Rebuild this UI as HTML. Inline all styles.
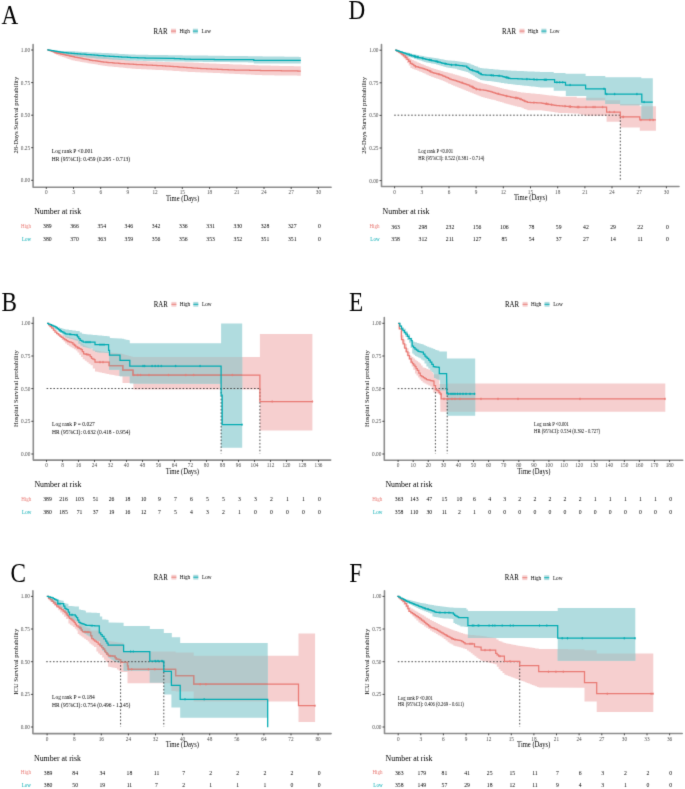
<!DOCTYPE html>
<html><head><meta charset="utf-8"><title>KM curves</title>
<style>html,body{margin:0;padding:0;background:#fff;}svg{display:block;}text{font-family:"Liberation Serif",serif;}</style>
</head><body>
<svg width="685" height="789" viewBox="0 0 685 789" font-family="'Liberation Serif', serif">
<defs><filter id="soft" filterUnits="userSpaceOnUse" x="0" y="0" width="685" height="789" color-interpolation-filters="sRGB"><feConvolveMatrix order="3" kernelMatrix="0.0113 0.0838 0.0113 0.0838 0.6193 0.0838 0.0113 0.0838 0.0113" edgeMode="duplicate"/></filter><clipPath id="cr1"><path d="M47.2,49.8 L49,49.8 L49,50.1 L50.8,50.1 L50.8,50.5 L52.7,50.5 L52.7,50.8 L54.5,50.8 L54.5,51.2 L56.3,51.2 L56.3,51.5 L58.2,51.5 L58.2,51.7 L60,51.7 L60,52 L61.9,52 L61.9,52.2 L63.8,52.2 L63.8,52.4 L65.7,52.4 L65.7,52.6 L67.5,52.6 L67.5,52.8 L69.4,52.8 L69.4,53.1 L71.3,53.1 L71.3,53.3 L73.1,53.3 L73.1,53.5 L74.9,53.5 L74.9,53.8 L76.7,53.8 L76.7,54 L78.5,54 L78.5,54.3 L80.3,54.3 L80.3,54.5 L82.1,54.5 L82.1,54.8 L83.9,54.8 L83.9,55 L85.7,55 L85.7,55.3 L87.5,55.3 L87.5,55.5 L89.3,55.5 L89.3,55.8 L91.1,55.8 L91.1,56 L92.8,56 L92.8,56.2 L94.6,56.2 L94.6,56.3 L96.3,56.3 L96.3,56.5 L98,56.5 L98,56.6 L99.8,56.6 L99.8,56.8 L101.5,56.8 L101.5,57 L103.3,57 L103.3,57.1 L105,57.1 L105,57.3 L106.8,57.3 L106.8,57.5 L108.6,57.5 L108.6,57.7 L110.4,57.7 L110.4,58 L112.2,58 L112.2,58.2 L114,58.2 L114,58.4 L115.8,58.4 L115.8,58.6 L117.6,58.6 L117.6,58.8 L119.4,58.8 L119.4,59.1 L121.2,59.1 L121.2,59.3 L123,59.3 L123,59.5 L124.8,59.5 L124.8,59.7 L126.6,59.7 L126.6,59.9 L128.4,59.9 L128.4,60.2 L130.2,60.2 L130.2,60.4 L132,60.4 L132,60.6 L133.8,60.6 L133.8,60.7 L135.6,60.7 L135.6,60.8 L137.4,60.8 L137.4,60.8 L139.2,60.8 L139.2,60.9 L141,60.9 L141,61 L142.9,61 L142.9,61.1 L144.7,61.1 L144.7,61.1 L146.5,61.1 L146.5,61.2 L148.3,61.2 L148.3,61.3 L150.1,61.3 L150.1,61.4 L151.9,61.4 L151.9,61.4 L153.7,61.4 L153.7,61.5 L155.5,61.5 L155.5,61.6 L157.3,61.6 L157.3,61.7 L159.1,61.7 L159.1,61.7 L161,61.7 L161,61.8 L162.8,61.8 L162.8,61.9 L164.6,61.9 L164.6,62 L166.4,62 L166.4,62 L168.2,62 L168.2,62.1 L170,62.1 L170,62.2 L190,62.5 L191.7,62.5 L191.7,62.6 L193.5,62.6 L193.5,62.7 L195.2,62.7 L195.2,62.8 L197,62.8 L197,62.8 L198.7,62.8 L198.7,62.9 L200.4,62.9 L200.4,63 L202.2,63 L202.2,63.1 L203.9,63.1 L203.9,63.2 L205.7,63.2 L205.7,63.2 L207.4,63.2 L207.4,63.3 L209.2,63.3 L209.2,63.4 L210.9,63.4 L210.9,63.5 L212.7,63.5 L212.7,63.6 L214.6,63.6 L214.6,63.6 L216.4,63.6 L216.4,63.7 L218.2,63.7 L218.2,63.8 L220,63.8 L220,63.9 L221.8,63.9 L221.8,63.9 L223.7,63.9 L223.7,64 L225.5,64 L225.5,64.1 L227.3,64.1 L227.3,64.1 L229.2,64.1 L229.2,64.2 L231,64.2 L231,64.3 L232.8,64.3 L232.8,64.4 L234.6,64.4 L234.6,64.4 L236.4,64.4 L236.4,64.5 L238.3,64.5 L238.3,64.6 L240.1,64.6 L240.1,64.6 L241.9,64.6 L241.9,64.7 L243.8,64.7 L243.8,64.8 L245.6,64.8 L245.6,64.9 L247.4,64.9 L247.4,64.9 L249.2,64.9 L249.2,65 L251.1,65 L251.1,65.1 L252.9,65.1 L252.9,65.1 L254.7,65.1 L254.7,65.2 L256.5,65.2 L256.5,65.3 L258.4,65.3 L258.4,65.4 L260.2,65.4 L260.2,65.4 L262,65.4 L262,65.5 L263.8,65.5 L263.8,65.5 L265.5,65.5 L265.5,65.6 L267.3,65.6 L267.3,65.6 L269.1,65.6 L269.1,65.6 L270.8,65.6 L270.8,65.7 L272.6,65.7 L272.6,65.7 L274.3,65.7 L274.3,65.8 L276.1,65.8 L276.1,65.8 L277.9,65.8 L277.9,65.8 L279.6,65.8 L279.6,65.9 L281.4,65.9 L281.4,65.9 L283.2,65.9 L283.2,65.9 L284.9,65.9 L284.9,66 L286.7,66 L286.7,66 L288.5,66 L288.5,66 L290.2,66 L290.2,66.1 L292,66.1 L292,66.1 L293.7,66.1 L293.7,66.2 L295.5,66.2 L295.5,66.2 L297.3,66.2 L297.3,66.2 L299,66.2 L299,66.3 L300.8,66.3 L300.8,66.3 L300.8,75.7 L300.8,75.7 L299,75.7 L299,75.7 L297.3,75.7 L297.3,75.6 L295.5,75.6 L295.5,75.6 L293.7,75.6 L293.7,75.6 L292,75.6 L292,75.6 L290.2,75.6 L290.2,75.5 L288.5,75.5 L288.5,75.5 L286.7,75.5 L286.7,75.5 L284.9,75.5 L284.9,75.5 L283.2,75.5 L283.2,75.5 L281.4,75.5 L281.4,75.4 L279.6,75.4 L279.6,75.4 L277.9,75.4 L277.9,75.4 L276.1,75.4 L276.1,75.4 L274.3,75.4 L274.3,75.3 L272.6,75.3 L272.6,75.3 L270.8,75.3 L270.8,75.3 L269.1,75.3 L269.1,75.3 L267.3,75.3 L267.3,75.2 L265.5,75.2 L265.5,75.2 L263.8,75.2 L263.8,75.2 L262,75.2 L262,75.1 L260.2,75.1 L260.2,75 L258.4,75 L258.4,74.9 L256.5,74.9 L256.5,74.9 L254.7,74.9 L254.7,74.8 L252.9,74.8 L252.9,74.7 L251.1,74.7 L251.1,74.6 L249.2,74.6 L249.2,74.5 L247.4,74.5 L247.4,74.4 L245.6,74.4 L245.6,74.3 L243.8,74.3 L243.8,74.3 L241.9,74.3 L241.9,74.2 L240.1,74.2 L240.1,74.1 L238.3,74.1 L238.3,74 L236.4,74 L236.4,73.9 L234.6,73.9 L234.6,73.8 L232.8,73.8 L232.8,73.7 L231,73.7 L231,73.7 L229.2,73.7 L229.2,73.6 L227.3,73.6 L227.3,73.5 L225.5,73.5 L225.5,73.4 L223.7,73.4 L223.7,73.3 L221.8,73.3 L221.8,73.2 L220,73.2 L220,73.1 L218.2,73.1 L218.2,73.1 L216.4,73.1 L216.4,73 L214.6,73 L214.6,72.9 L212.7,72.9 L212.7,72.8 L210.9,72.8 L210.9,72.7 L209.2,72.7 L209.2,72.7 L207.4,72.7 L207.4,72.6 L205.7,72.6 L205.7,72.5 L203.9,72.5 L203.9,72.5 L202.2,72.5 L202.2,72.4 L200.4,72.4 L200.4,72.3 L198.7,72.3 L198.7,72.3 L197,72.3 L197,72.2 L195.2,72.2 L195.2,72.1 L193.5,72.1 L193.5,72.1 L191.7,72.1 L191.7,72 L190,72 L190,71.9 L188.2,71.9 L188.2,71.7 L186.4,71.7 L186.4,71.6 L184.5,71.6 L184.5,71.5 L182.7,71.5 L182.7,71.4 L180.9,71.4 L180.9,71.2 L179.1,71.2 L179.1,71.1 L177.3,71.1 L177.3,71 L175.5,71 L175.5,70.9 L173.6,70.9 L173.6,70.7 L171.8,70.7 L171.8,70.6 L170,70.6 L170,70.5 L168.2,70.5 L168.2,70.4 L166.4,70.4 L166.4,70.3 L164.6,70.3 L164.6,70.2 L162.8,70.2 L162.8,70.1 L161,70.1 L161,70.1 L159.1,70.1 L159.1,70 L157.3,70 L157.3,69.9 L155.5,69.9 L155.5,69.8 L153.7,69.8 L153.7,69.7 L151.9,69.7 L151.9,69.6 L150.1,69.6 L150.1,69.5 L148.3,69.5 L148.3,69.4 L146.5,69.4 L146.5,69.3 L144.7,69.3 L144.7,69.2 L142.9,69.2 L142.9,69.2 L141,69.2 L141,69.1 L139.2,69.1 L139.2,69 L137.4,69 L137.4,68.9 L135.6,68.9 L135.6,68.8 L133.8,68.8 L133.8,68.7 L132,68.7 L132,68.5 L130.2,68.5 L130.2,68.3 L128.4,68.3 L128.4,68.2 L126.6,68.2 L126.6,68 L124.8,68 L124.8,67.8 L123,67.8 L123,67.6 L121.2,67.6 L121.2,67.4 L119.4,67.4 L119.4,67.3 L117.6,67.3 L117.6,67.1 L115.8,67.1 L115.8,66.9 L114,66.9 L114,66.7 L112.2,66.7 L112.2,66.5 L110.4,66.5 L110.4,66.4 L108.6,66.4 L108.6,66.2 L106.8,66.2 L106.8,66 L105,66 L105,65.7 L103.3,65.7 L103.3,65.5 L101.5,65.5 L101.5,65.2 L99.8,65.2 L99.8,64.9 L98,64.9 L98,64.6 L96.3,64.6 L96.3,64.3 L94.6,64.3 L94.6,64.1 L92.8,64.1 L92.8,63.8 L91.1,63.8 L91.1,63.5 L89.3,63.5 L89.3,63.2 L87.5,63.2 L87.5,62.8 L85.7,62.8 L85.7,62.5 L83.9,62.5 L83.9,62.2 L82.1,62.2 L82.1,61.9 L80.3,61.9 L80.3,61.6 L78.5,61.6 L78.5,61.3 L76.7,61.3 L76.7,60.9 L74.9,60.9 L74.9,60.6 L73.1,60.6 L73.1,60.3 L71.3,60.3 L71.3,59.6 L69.4,59.6 L69.4,59 L67.5,59 L67.5,58.3 L65.7,58.3 L65.7,57.6 L63.8,57.6 L63.8,57 L61.9,57 L61.9,56.3 L60,56.3 L60,55.7 L58.2,55.7 L58.2,55 L56.3,55 L56.3,54 L54.5,54 L54.5,52.9 L52.7,52.9 L52.7,51.9 L50.8,51.9 L50.8,50.8 L49,50.8 L49,49.8 L47.2,49.8 Z"/></clipPath><clipPath id="ct2"><path d="M47.2,49.8 L49.1,49.8 L49.1,50 L51,50 L51,50.1 L52.9,50.1 L52.9,50.3 L54.7,50.3 L54.7,50.5 L56.6,50.5 L56.6,50.7 L58.5,50.7 L58.5,50.8 L60.4,50.8 L60.4,51 L71.3,51.2 L73.1,51.2 L73.1,51.3 L74.9,51.3 L74.9,51.4 L76.7,51.4 L76.7,51.6 L78.5,51.6 L78.5,51.7 L80.3,51.7 L80.3,51.8 L82.1,51.8 L82.1,51.9 L83.9,51.9 L83.9,52 L85.7,52 L85.7,52.1 L87.5,52.1 L87.5,52.3 L89.3,52.3 L89.3,52.4 L91.1,52.4 L91.1,52.5 L92.8,52.5 L92.8,52.6 L94.6,52.6 L94.6,52.6 L96.3,52.6 L96.3,52.7 L98,52.7 L98,52.8 L99.8,52.8 L99.8,52.8 L101.5,52.8 L101.5,52.9 L103.3,52.9 L103.3,52.9 L105,52.9 L105,53 L106.8,53 L106.8,53.1 L108.6,53.1 L108.6,53.2 L110.4,53.2 L110.4,53.3 L112.2,53.3 L112.2,53.4 L114,53.4 L114,53.5 L115.8,53.5 L115.8,53.6 L117.6,53.6 L117.6,53.7 L119.4,53.7 L119.4,53.9 L121.2,53.9 L121.2,54 L123,54 L123,54.1 L124.8,54.1 L124.8,54.2 L126.6,54.2 L126.6,54.3 L128.4,54.3 L128.4,54.4 L130.2,54.4 L130.2,54.5 L132,54.5 L132,54.6 L133.8,54.6 L133.8,54.6 L135.6,54.6 L135.6,54.7 L137.4,54.7 L137.4,54.7 L139.2,54.7 L139.2,54.7 L141,54.7 L141,54.7 L142.9,54.7 L142.9,54.8 L144.7,54.8 L144.7,54.8 L146.5,54.8 L146.5,54.8 L148.3,54.8 L148.3,54.9 L150.1,54.9 L150.1,54.9 L151.9,54.9 L151.9,54.9 L153.7,54.9 L153.7,54.9 L155.5,54.9 L155.5,55 L157.3,55 L157.3,55 L159.1,55 L159.1,55 L161,55 L161,55.1 L162.8,55.1 L162.8,55.1 L164.6,55.1 L164.6,55.1 L166.4,55.1 L166.4,55.1 L168.2,55.1 L168.2,55.2 L170,55.2 L170,55.2 L171.8,55.2 L171.8,55.2 L173.6,55.2 L173.6,55.2 L175.4,55.2 L175.4,55.3 L177.3,55.3 L177.3,55.3 L179.1,55.3 L179.1,55.3 L180.9,55.3 L180.9,55.3 L182.7,55.3 L182.7,55.4 L184.5,55.4 L184.5,55.4 L186.3,55.4 L186.3,55.4 L188.2,55.4 L188.2,55.4 L190,55.4 L190,55.4 L191.8,55.4 L191.8,55.5 L193.6,55.5 L193.6,55.5 L195.4,55.5 L195.4,55.5 L197.2,55.5 L197.2,55.5 L199,55.5 L199,55.6 L200.9,55.6 L200.9,55.6 L202.7,55.6 L202.7,55.6 L204.5,55.6 L204.5,55.6 L206.3,55.6 L206.3,55.6 L208.1,55.6 L208.1,55.7 L209.9,55.7 L209.9,55.7 L211.8,55.7 L211.8,55.7 L213.6,55.7 L213.6,55.7 L215.4,55.7 L215.4,55.8 L217.2,55.8 L217.2,55.8 L219,55.8 L219,55.8 L220.8,55.8 L220.8,55.8 L222.7,55.8 L222.7,55.8 L224.5,55.8 L224.5,55.9 L226.3,55.9 L226.3,55.9 L228.1,55.9 L228.1,55.9 L229.9,55.9 L229.9,55.9 L231.7,55.9 L231.7,56 L233.5,56 L233.5,56 L235.4,56 L235.4,56 L237.2,56 L237.2,56 L239,56 L239,56 L240.8,56 L240.8,56.1 L242.6,56.1 L242.6,56.1 L244.4,56.1 L244.4,56.1 L246.3,56.1 L246.3,56.1 L248.1,56.1 L248.1,56.2 L249.9,56.2 L249.9,56.2 L251.7,56.2 L251.7,56.2 L253.5,56.2 L253.5,56.2 L255.3,56.2 L255.3,56.3 L257.2,56.3 L257.2,56.3 L259,56.3 L259,56.3 L260.8,56.3 L260.8,56.3 L262.6,56.3 L262.6,56.4 L264.4,56.4 L264.4,56.4 L266.2,56.4 L266.2,56.4 L268.1,56.4 L268.1,56.4 L269.9,56.4 L269.9,56.5 L271.7,56.5 L271.7,56.5 L273.5,56.5 L273.5,56.5 L275.3,56.5 L275.3,56.5 L277.2,56.5 L277.2,56.6 L279,56.6 L279,56.6 L280.8,56.6 L280.8,56.6 L282.6,56.6 L282.6,56.6 L284.4,56.6 L284.4,56.7 L286.3,56.7 L286.3,56.7 L288.1,56.7 L288.1,56.7 L289.9,56.7 L289.9,56.7 L291.7,56.7 L291.7,56.8 L293.5,56.8 L293.5,56.8 L295.3,56.8 L295.3,56.8 L297.2,56.8 L297.2,56.8 L299,56.8 L299,56.9 L300.8,56.9 L300.8,56.9 L300.8,63.4 L253.8,63.4 L253.8,62.4 L251.7,62.4 L251.7,62.4 L249.9,62.4 L249.9,62.4 L248.1,62.4 L248.1,62.3 L246.3,62.3 L246.3,62.3 L244.4,62.3 L244.4,62.3 L242.6,62.3 L242.6,62.3 L240.8,62.3 L240.8,62.3 L239,62.3 L239,62.2 L237.2,62.2 L237.2,62.2 L235.4,62.2 L235.4,62.2 L233.5,62.2 L233.5,62.2 L231.7,62.2 L231.7,62.2 L229.9,62.2 L229.9,62.1 L228.1,62.1 L228.1,62.1 L226.3,62.1 L226.3,62.1 L224.5,62.1 L224.5,62.1 L222.7,62.1 L222.7,62.1 L220.8,62.1 L220.8,62 L219,62 L219,62 L217.2,62 L217.2,62 L215.4,62 L215.4,62 L213.6,62 L213.6,62 L211.8,62 L211.8,61.9 L209.9,61.9 L209.9,61.9 L208.1,61.9 L208.1,61.9 L206.3,61.9 L206.3,61.9 L204.5,61.9 L204.5,61.9 L202.7,61.9 L202.7,61.8 L200.9,61.8 L200.9,61.8 L199,61.8 L199,61.8 L197.2,61.8 L197.2,61.8 L195.4,61.8 L195.4,61.8 L193.6,61.8 L193.6,61.7 L191.8,61.7 L191.8,61.7 L190,61.7 L190,61.7 L188.2,61.7 L188.2,61.7 L186.3,61.7 L186.3,61.7 L184.5,61.7 L184.5,61.6 L182.7,61.6 L182.7,61.6 L180.9,61.6 L180.9,61.6 L179.1,61.6 L179.1,61.6 L177.3,61.6 L177.3,61.6 L175.4,61.6 L175.4,61.5 L173.6,61.5 L173.6,61.5 L171.8,61.5 L171.8,61.5 L170,61.5 L170,61.5 L168.2,61.5 L168.2,61.4 L166.4,61.4 L166.4,61.4 L164.6,61.4 L164.6,61.3 L162.8,61.3 L162.8,61.3 L161,61.3 L161,61.2 L159.1,61.2 L159.1,61.2 L157.3,61.2 L157.3,61.2 L155.5,61.2 L155.5,61.1 L153.7,61.1 L153.7,61.1 L151.9,61.1 L151.9,61 L150.1,61 L150.1,61 L148.3,61 L148.3,60.9 L146.5,60.9 L146.5,60.9 L144.7,60.9 L144.7,60.9 L142.9,60.9 L142.9,60.8 L141,60.8 L141,60.8 L139.2,60.8 L139.2,60.7 L137.4,60.7 L137.4,60.7 L135.6,60.7 L135.6,60.6 L133.8,60.6 L133.8,60.6 L132,60.6 L132,60.5 L130.2,60.5 L130.2,60.4 L128.4,60.4 L128.4,60.3 L126.6,60.3 L126.6,60.2 L124.8,60.2 L124.8,60.1 L123,60.1 L123,60 L121.2,60 L121.2,59.9 L119.4,59.9 L119.4,59.7 L117.6,59.7 L117.6,59.6 L115.8,59.6 L115.8,59.5 L114,59.5 L114,59.4 L112.2,59.4 L112.2,59.3 L110.4,59.3 L110.4,59.2 L108.6,59.2 L108.6,59.1 L106.8,59.1 L106.8,59 L105,59 L105,58.9 L103.3,58.9 L103.3,58.8 L101.5,58.8 L101.5,58.6 L99.8,58.6 L99.8,58.5 L98,58.5 L98,58.4 L96.3,58.4 L96.3,58.2 L94.6,58.2 L94.6,58.1 L92.8,58.1 L92.8,58 L91.1,58 L91.1,57.8 L89.3,57.8 L89.3,57.6 L87.5,57.6 L87.5,57.3 L85.7,57.3 L85.7,57.1 L83.9,57.1 L83.9,56.9 L82.1,56.9 L82.1,56.7 L80.3,56.7 L80.3,56.5 L78.5,56.5 L78.5,56.3 L76.7,56.3 L76.7,56 L74.9,56 L74.9,55.8 L73.1,55.8 L73.1,55.6 L71.3,55.6 L71.3,55.2 L69.5,55.2 L69.5,54.8 L67.7,54.8 L67.7,54.5 L65.9,54.5 L65.9,54.1 L64.1,54.1 L64.1,53.7 L62.2,53.7 L62.2,53.3 L60.4,53.3 L60.4,53 L58.6,53 L58.6,52.6 L56.8,52.6 L56.8,52.2 L55,52.2 L55,51.6 L53,51.6 L53,51 L51.1,51 L51.1,50.4 L49.2,50.4 L49.2,49.8 L47.2,49.8 Z"/></clipPath><clipPath id="cr3"><path d="M395.1,50.1 L396.8,50.1 L396.8,50.8 L398.5,50.8 L398.5,51.5 L400.2,51.5 L400.2,52.2 L401.9,52.2 L401.9,53 L403.6,53 L403.6,53.9 L405.3,53.9 L405.3,54.7 L407,54.7 L407,56.2 L408.7,56.2 L408.7,57.8 L410.4,57.8 L410.4,59.3 L412.1,59.3 L412.1,60.1 L413.8,60.1 L413.8,60.8 L415.5,60.8 L415.5,61.6 L417.3,61.6 L417.3,62.4 L419,62.4 L419,63.1 L420.7,63.1 L420.7,63.9 L422.4,63.9 L422.4,64.6 L424.1,64.6 L424.1,65.3 L425.8,65.3 L425.8,66 L427.5,66 L427.5,66.6 L429.2,66.6 L429.2,67.3 L430.9,67.3 L430.9,68 L432.6,68 L432.6,68.5 L434.3,68.5 L434.3,69 L436,69 L436,69.5 L437.7,69.5 L437.7,70.1 L439.4,70.1 L439.4,70.6 L441.1,70.6 L441.1,71.1 L442.8,71.1 L442.8,71.5 L444.5,71.5 L444.5,71.9 L446.2,71.9 L446.2,72.3 L447.9,72.3 L447.9,72.8 L449.6,72.8 L449.6,73.2 L451.3,73.2 L451.3,73.6 L453.1,73.6 L453.1,74.2 L455,74.2 L455,74.7 L456.9,74.7 L456.9,75.3 L458.7,75.3 L458.7,75.8 L460.6,75.8 L460.6,76.4 L462.5,76.4 L462.5,77 L464.4,77 L464.4,77.6 L466.2,77.6 L466.2,78.1 L468.1,78.1 L468.1,78.7 L470,78.7 L470,79.3 L471.9,79.3 L471.9,80 L473.8,80 L473.8,80.6 L475.6,80.6 L475.6,81.3 L477.5,81.3 L477.5,81.9 L479.4,81.9 L479.4,82.6 L481.3,82.6 L481.3,83.2 L483.2,83.2 L483.2,83.7 L485,83.7 L485,84.1 L486.9,84.1 L486.9,84.6 L488.8,84.6 L488.8,85.1 L490.7,85.1 L490.7,85.6 L492.5,85.6 L492.5,86 L494.4,86 L494.4,86.5 L496.3,86.5 L496.3,87 L498.2,87 L498.2,87.4 L500.1,87.4 L500.1,87.9 L501.9,87.9 L501.9,88.4 L503.8,88.4 L503.8,88.9 L505.7,88.9 L505.7,89.3 L507.6,89.3 L507.6,89.8 L509.5,89.8 L509.5,90.2 L511.3,90.2 L511.3,90.5 L513.2,90.5 L513.2,90.9 L515.1,90.9 L515.1,91.3 L517,91.3 L517,91.7 L518.8,91.7 L518.8,92 L520.7,92 L520.7,92.4 L522.5,92.4 L522.5,92.6 L524.2,92.6 L524.2,92.7 L526,92.7 L526,92.9 L527.7,92.9 L527.7,93.1 L529.5,93.1 L529.5,93.3 L531.2,93.3 L531.2,93.4 L533,93.4 L533,93.6 L534.7,93.6 L534.7,93.8 L536.5,93.8 L536.5,94 L538.2,94 L538.2,94.1 L540,94.1 L540,94.3 L541.8,94.3 L541.8,94.5 L543.6,94.5 L543.6,94.7 L545.5,94.7 L545.5,95 L547.3,95 L547.3,95.2 L549.1,95.2 L549.1,95.4 L550.9,95.4 L550.9,95.6 L552.7,95.6 L552.7,95.8 L554.5,95.8 L554.5,96 L556.4,96 L556.4,96.3 L558.2,96.3 L558.2,96.5 L560,96.5 L560,96.7 L576.8,96.7 L576.8,97.8 L605.3,97.8 L605.3,100.3 L620.1,100.3 L620.1,104 L639.6,104 L639.6,106.2 L655.9,106.2 L655.9,130.8 L639.8,130.8 L639.8,127.5 L620.3,127.5 L620.3,121.7 L606.6,121.7 L606.6,115.7 L585.6,115.7 L585.6,115.3 L583.9,115.3 L583.9,114.8 L582.2,114.8 L582.2,114.4 L580.4,114.4 L580.4,113.9 L578.7,113.9 L578.7,113.5 L577,113.5 L577,113.4 L575.1,113.4 L575.1,113.4 L573.2,113.4 L573.2,113.3 L571.4,113.3 L571.4,113.3 L569.5,113.3 L569.5,113.2 L567.6,113.2 L567.6,113.1 L565.7,113.1 L565.7,113.1 L563.8,113.1 L563.8,113 L562,113 L562,113 L560.1,113 L560.1,112.9 L558.2,112.9 L558.2,112.6 L556.4,112.6 L556.4,112.4 L554.6,112.4 L554.6,112.1 L552.7,112.1 L552.7,111.8 L550.9,111.8 L550.9,111.6 L549.1,111.6 L549.1,111.3 L547.3,111.3 L547.3,111 L545.5,111 L545.5,110.7 L543.6,110.7 L543.6,110.5 L541.8,110.5 L541.8,110.2 L540,110.2 L527.3,110.2 L527.3,109.5 L525.6,109.5 L525.6,108.9 L524,108.9 L524,108.2 L522.4,108.2 L522.4,107.6 L520.7,107.6 L520.7,107.1 L518.8,107.1 L518.8,106.7 L517,106.7 L517,106.2 L515.1,106.2 L515.1,105.7 L513.2,105.7 L513.2,105.2 L511.3,105.2 L511.3,104.8 L509.5,104.8 L509.5,104.3 L507.6,104.3 L507.6,103.7 L505.7,103.7 L505.7,103.2 L503.8,103.2 L503.8,102.6 L501.9,102.6 L501.9,102 L500.1,102 L500.1,101.4 L498.2,101.4 L498.2,100.9 L496.3,100.9 L496.3,100.3 L494.4,100.3 L494.4,99.8 L492.5,99.8 L492.5,99.4 L490.7,99.4 L490.7,98.9 L488.8,98.9 L488.8,98.4 L486.9,98.4 L486.9,97.9 L485,97.9 L485,97.5 L483.2,97.5 L483.2,97 L481.3,97 L481.3,96.3 L479.4,96.3 L479.4,95.5 L477.5,95.5 L477.5,94.8 L475.6,94.8 L475.6,94 L473.8,94 L473.8,93.3 L471.9,93.3 L471.9,92.5 L470,92.5 L470,91.8 L468.1,91.8 L468.1,91 L466.2,91 L466.2,90.3 L464.4,90.3 L464.4,89.5 L462.5,89.5 L462.5,88.8 L460.6,88.8 L460.6,88 L458.7,88 L458.7,87.3 L456.9,87.3 L456.9,86.5 L455,86.5 L455,85.7 L453.1,85.7 L453.1,84.9 L451.3,84.9 L451.3,84.1 L449.6,84.1 L449.6,83.4 L447.9,83.4 L447.9,82.6 L446.2,82.6 L446.2,81.8 L444.5,81.8 L444.5,81.1 L442.8,81.1 L442.8,80.3 L441.1,80.3 L441.1,79.7 L439.4,79.7 L439.4,79.1 L437.7,79.1 L437.7,78.5 L436,78.5 L436,77.9 L434.3,77.9 L434.3,77.3 L432.6,77.3 L432.6,76.7 L430.9,76.7 L430.9,75.9 L429.2,75.9 L429.2,75.2 L427.5,75.2 L427.5,74.4 L425.8,74.4 L425.8,73.6 L424.1,73.6 L424.1,72.9 L422.4,72.9 L422.4,72.1 L420.7,72.1 L420.7,71.4 L419,71.4 L419,70.7 L417.3,70.7 L417.3,70 L415.5,70 L415.5,69.4 L413.8,69.4 L413.8,68.7 L412.1,68.7 L412.1,68 L410.4,68 L410.4,65.4 L408.7,65.4 L408.7,62.9 L407,62.9 L407,60.3 L405.3,60.3 L405.3,58.4 L403.6,58.4 L403.6,56.6 L401.9,56.6 L401.9,54.7 L400.2,54.7 L400.2,53.2 L398.5,53.2 L398.5,51.6 L396.8,51.6 L396.8,50.1 L395.1,50.1 Z"/></clipPath><clipPath id="ct4"><path d="M395.1,50.1 L396.8,50.1 L396.8,50.5 L398.5,50.5 L398.5,50.8 L400.2,50.8 L400.2,51.2 L401.9,51.2 L401.9,51.5 L403.6,51.5 L403.6,51.9 L405.3,51.9 L405.3,52.2 L407,52.2 L407,52.6 L408.7,52.6 L408.7,53 L410.4,53 L410.4,53.5 L412.1,53.5 L412.1,53.9 L413.8,53.9 L413.8,54.3 L415.5,54.3 L415.5,54.7 L417.2,54.7 L417.2,55.1 L418.9,55.1 L418.9,55.4 L420.6,55.4 L420.6,55.8 L422.4,55.8 L422.4,56.1 L424.1,56.1 L424.1,56.4 L425.8,56.4 L425.8,56.8 L427.5,56.8 L427.5,57 L429.2,57 L429.2,57.3 L430.9,57.3 L430.9,57.5 L432.6,57.5 L432.6,57.8 L434.3,57.8 L434.3,58 L436,58 L436,58.3 L437.7,58.3 L437.7,58.6 L439.4,58.6 L439.4,59 L441.1,59 L441.1,59.3 L442.8,59.3 L442.8,59.6 L444.5,59.6 L444.5,60 L446.2,60 L446.2,60.3 L448,60.3 L448,60.4 L449.7,60.4 L449.7,60.5 L451.5,60.5 L451.5,60.7 L453.2,60.7 L453.2,60.8 L455,60.8 L455,60.9 L456.7,60.9 L456.7,61.2 L458.4,61.2 L458.4,61.5 L460.1,61.5 L460.1,61.8 L461.7,61.8 L461.7,62 L463.4,62 L463.4,62.3 L465.1,62.3 L465.1,62.6 L466.8,62.6 L466.8,62.9 L468.7,62.9 L468.7,63.6 L470.6,63.6 L470.6,64.4 L472.5,64.4 L472.5,65.1 L474.3,65.1 L474.3,65.9 L476.2,65.9 L476.2,66.6 L478.1,66.6 L478.1,67.4 L480,67.4 L480,68.1 L481.8,68.1 L481.8,68.3 L483.7,68.3 L483.7,68.4 L485.5,68.4 L485.5,68.6 L487.4,68.6 L487.4,68.7 L489.2,68.7 L489.2,68.9 L491,68.9 L491,69.1 L492.9,69.1 L492.9,69.2 L494.7,69.2 L494.7,69.4 L496.6,69.4 L496.6,69.5 L498.4,69.5 L498.4,69.7 L500.2,69.7 L500.2,69.9 L502.1,69.9 L502.1,70 L503.9,70 L503.9,70.2 L505.8,70.2 L505.8,70.3 L507.6,70.3 L507.6,70.5 L509.4,70.5 L509.4,70.6 L511.2,70.6 L511.2,70.7 L513,70.7 L513,70.7 L514.8,70.7 L514.8,70.8 L516.6,70.8 L516.6,70.9 L518.4,70.9 L518.4,71 L520.2,71 L520.2,71 L522,71 L522,71.1 L523.8,71.1 L523.8,71.2 L525.6,71.2 L525.6,71.3 L527.4,71.3 L527.4,71.4 L529.2,71.4 L529.2,71.4 L531,71.4 L531,71.5 L532.8,71.5 L532.8,71.6 L534.6,71.6 L534.6,71.7 L536.4,71.7 L536.4,71.7 L538.2,71.7 L538.2,71.8 L540,71.8 L540,71.9 L553.7,71.9 L553.7,73.1 L565.5,73.1 L565.5,73.7 L585.6,73.7 L585.6,76.1 L605.3,76.1 L605.3,77.3 L641.3,77.3 L641.3,78.2 L652.8,78.2 L652.8,119.3 L641.5,119.3 L641.5,105.3 L620.1,105.3 L620.1,104 L605.3,104 L605.3,100.3 L586.3,100.3 L586.3,96 L565.8,96 L565.8,90.8 L553.7,90.8 L553.7,87.4 L540,87.4 L540,87.2 L538.2,87.2 L538.2,87 L536.4,87 L536.4,86.8 L534.6,86.8 L534.6,86.6 L532.8,86.6 L532.8,86.4 L531,86.4 L531,86.2 L529.2,86.2 L529.2,86 L527.4,86 L527.4,85.8 L525.6,85.8 L525.6,85.7 L523.8,85.7 L523.8,85.5 L522,85.5 L522,85.3 L520.2,85.3 L520.2,85.1 L518.4,85.1 L518.4,84.9 L516.6,84.9 L516.6,84.7 L514.8,84.7 L514.8,84.5 L513,84.5 L513,84.3 L511.2,84.3 L511.2,84.1 L509.4,84.1 L509.4,83.9 L507.6,83.9 L507.6,83.6 L505.9,83.6 L505.9,83.4 L504.2,83.4 L504.2,83.1 L502.5,83.1 L502.5,82.9 L500.8,82.9 L500.8,82.6 L499.1,82.6 L499.1,82.3 L497.3,82.3 L497.3,82.1 L495.6,82.1 L495.6,81.8 L493.9,81.8 L493.9,81.6 L492.2,81.6 L492.2,81.3 L490.5,81.3 L490.5,81.1 L488.8,81.1 L488.8,80.9 L487,80.9 L487,80.7 L485.2,80.7 L485.2,80.4 L483.5,80.4 L483.5,80.2 L481.8,80.2 L481.8,80 L480,80 L480,79 L478.3,79 L478.3,77.9 L476.6,77.9 L476.6,76.9 L474.9,76.9 L474.9,75.8 L473.2,75.8 L473.2,74.8 L471.5,74.8 L471.5,73.7 L469.8,73.7 L469.8,72.7 L468.1,72.7 L468.1,72.1 L466.2,72.1 L466.2,71.6 L464.4,71.6 L464.4,71 L462.5,71 L462.5,70.5 L460.6,70.5 L460.6,69.9 L458.7,69.9 L458.7,69.4 L456.9,69.4 L456.9,68.8 L455,68.8 L455,68.5 L453.2,68.5 L453.2,68.3 L451.5,68.3 L451.5,68 L449.7,68 L449.7,67.8 L448,67.8 L448,67.5 L446.2,67.5 L446.2,67 L444.5,67 L444.5,66.5 L442.8,66.5 L442.8,66 L441.1,66 L441.1,65.4 L439.4,65.4 L439.4,64.9 L437.7,64.9 L437.7,64.4 L436,64.4 L436,64.1 L434.3,64.1 L434.3,63.7 L432.6,63.7 L432.6,63.4 L430.9,63.4 L430.9,63.1 L429.2,63.1 L429.2,62.7 L427.5,62.7 L427.5,62.4 L425.8,62.4 L425.8,61.9 L424.1,61.9 L424.1,61.4 L422.4,61.4 L422.4,60.8 L420.6,60.8 L420.6,60.3 L418.9,60.3 L418.9,59.8 L417.2,59.8 L417.2,59.3 L415.5,59.3 L415.5,58.7 L413.8,58.7 L413.8,58.1 L412.1,58.1 L412.1,57.5 L410.4,57.5 L410.4,56.9 L408.7,56.9 L408.7,56.3 L407,56.3 L407,55.7 L405.3,55.7 L405.3,54.8 L403.6,54.8 L403.6,53.8 L401.9,53.8 L401.9,52.9 L400.2,52.9 L400.2,52 L398.5,52 L398.5,51 L396.8,51 L396.8,50.1 L395.1,50.1 Z"/></clipPath><clipPath id="cr5"><path d="M47,323.3 L49,323.3 L49,325 L51,325 L51,326.6 L53,326.6 L53,328.3 L55,328.3 L55,330 L56.7,330 L56.7,331.5 L58.3,331.5 L58.3,333.1 L60,333.1 L60,334.6 L62,334.6 L62,335.2 L64.1,335.2 L64.1,335.8 L66.1,335.8 L66.1,336.4 L67.8,336.4 L67.8,336.9 L69.6,336.9 L69.6,337.4 L71.3,337.4 L71.3,337.9 L73.1,337.9 L73.1,338.5 L74.8,338.5 L74.8,339 L76.6,339 L76.6,339.5 L78.3,339.5 L78.3,341 L80.1,341 L80.1,342.5 L81.8,342.5 L81.8,344 L83.6,344 L83.6,345.5 L85.5,345.5 L85.5,346.3 L87.4,346.3 L87.4,347.2 L89.3,347.2 L89.3,348 L91.2,348 L91.2,348.8 L93.1,348.8 L93.1,349.7 L95,349.7 L95,350.5 L96.9,350.5 L96.9,350.8 L98.8,350.8 L98.8,351.1 L100.7,351.1 L100.7,351.4 L102.5,351.4 L102.5,351.6 L104.4,351.6 L104.4,351.9 L106.3,351.9 L106.3,352.2 L108.2,352.2 L108.2,352.5 L109.9,352.5 L109.9,352.6 L111.6,352.6 L111.6,352.8 L113.3,352.8 L113.3,352.9 L114.9,352.9 L114.9,353.1 L116.6,353.1 L116.6,353.2 L118.3,353.2 L118.3,353.4 L120,353.4 L120,353.5 L121.8,353.5 L121.8,354 L123.6,354 L123.6,354.5 L125.4,354.5 L125.4,355 L127.3,355 L127.3,355.6 L129.1,355.6 L129.1,356.1 L130.9,356.1 L130.9,356.6 L132.7,356.6 L132.7,357.1 L259.9,357.1 L259.9,334.1 L312.4,334.1 L312.4,430.6 L259.9,430.6 L259.9,389.5 L133.4,389.5 L133.4,382.9 L132.7,382.9 L122.5,382.9 L122.5,376.3 L120,376.3 L120,376 L118.2,376 L118.2,375.7 L116.3,375.7 L116.3,375.4 L114.5,375.4 L114.5,375.1 L112.7,375.1 L112.7,374.8 L110.8,374.8 L110.8,374.5 L109,374.5 L109,374.1 L107.2,374.1 L107.2,373.7 L105.5,373.7 L105.5,373.3 L103.8,373.3 L103.8,372.9 L102,372.9 L102,372.6 L100.2,372.6 L100.2,372.2 L98.5,372.2 L98.5,371.8 L96.8,371.8 L96.8,371.4 L95,371.4 L95,368.4 L92.8,368.4 L92.8,365.3 L90.6,365.3 L90.6,363.8 L88.6,363.8 L88.6,362.2 L86.7,362.2 L86.7,360.7 L84.8,360.7 L84.8,359.2 L82.8,359.2 L82.8,357 L81,357 L81,354.8 L79.3,354.8 L79.3,352.6 L77.5,352.6 L77.5,350.4 L75.8,350.4 L75.8,349.3 L74,349.3 L74,348.3 L72.3,348.3 L72.3,347.2 L70.5,347.2 L70.5,346.2 L68.8,346.2 L68.8,345.1 L67,345.1 L67,343.4 L65.2,343.4 L65.2,341.6 L63.5,341.6 L63.5,339.9 L61.8,339.9 L61.8,338.1 L60,338.1 L60,335.8 L58.2,335.8 L58.2,333.4 L56.4,333.4 L56.4,331.1 L54.6,331.1 L54.6,329.2 L52.7,329.2 L52.7,327.2 L50.8,327.2 L50.8,325.2 L48.9,325.2 L48.9,323.3 L47,323.3 Z"/></clipPath><clipPath id="ct6"><path d="M47,323.3 L48.8,323.3 L48.8,323.9 L50.5,323.9 L50.5,324.4 L52.2,324.4 L52.2,324.9 L54,324.9 L54,325.5 L56,325.5 L56,326.4 L58,326.4 L58,327.2 L60,327.2 L60,328.1 L61.8,328.1 L61.8,328.5 L63.5,328.5 L63.5,329 L65.3,329 L65.3,329.4 L67,329.4 L67,329.6 L68.8,329.6 L68.8,329.9 L70.5,329.9 L70.5,330.1 L72.3,330.1 L72.3,330.4 L74,330.4 L74,330.6 L75.8,330.6 L75.8,330.9 L77.5,330.9 L77.5,331.1 L79.7,331.1 L79.7,332.5 L81.9,332.5 L81.9,333.8 L83.8,333.8 L83.8,334 L85.6,334 L85.6,334.2 L87.5,334.2 L87.5,334.4 L89.4,334.4 L89.4,334.5 L91.3,334.5 L91.3,334.7 L93.1,334.7 L93.1,334.9 L95,334.9 L95,335.1 L96.8,335.1 L96.8,335.3 L98.5,335.3 L98.5,335.4 L100.2,335.4 L100.2,335.6 L102,335.6 L102,335.8 L103.8,335.8 L103.8,335.9 L105.5,335.9 L105.5,336.1 L107.2,336.1 L107.2,336.2 L109,336.2 L109,336.4 L109.9,336.4 L109.9,338.1 L120,338.4 L121.9,338.4 L121.9,338.8 L123.8,338.8 L123.8,339.2 L125.6,339.2 L125.6,339.7 L127.5,339.7 L127.5,340.1 L129.4,340.1 L129.4,340.5 L129.8,340.5 L129.8,343.3 L221.1,343.3 L221.1,323.4 L242.2,323.4 L242.2,447.8 L221.1,447.8 L221.1,383.8 L129.8,383.6 L129.8,376.3 L119.6,376.3 L119.6,369.7 L109,369.7 L109,353 L108.2,353 L108.2,352.9 L106.3,352.9 L106.3,352.7 L104.4,352.7 L104.4,352.6 L102.5,352.6 L102.5,352.5 L100.7,352.5 L100.7,352.4 L98.8,352.4 L98.8,352.2 L96.9,352.2 L96.9,352.1 L95,352.1 L95,350.4 L92.8,350.4 L92.8,348.6 L90.6,348.6 L90.6,348.2 L88.6,348.2 L88.6,347.8 L86.7,347.8 L86.7,347.3 L84.8,347.3 L84.8,346.9 L82.8,346.9 L82.8,345.4 L80.6,345.4 L80.6,343.8 L78.4,343.8 L78.4,340.8 L76.6,340.8 L76.6,340.2 L74.7,340.2 L74.7,339.6 L72.8,339.6 L72.8,339.1 L70.9,339.1 L70.9,338.5 L69.1,338.5 L69.1,337.9 L67.2,337.9 L67.2,337.3 L65.3,337.3 L65.3,335.8 L63.5,335.8 L63.5,334.4 L61.8,334.4 L61.8,332.9 L60,332.9 L60,331.6 L58.2,331.6 L58.2,330.2 L56.4,330.2 L56.4,328.9 L54.6,328.9 L54.6,327.5 L52.7,327.5 L52.7,326.1 L50.8,326.1 L50.8,324.7 L48.9,324.7 L48.9,323.3 L47,323.3 Z"/></clipPath><clipPath id="cr7"><path d="M398.2,323.4 L400.4,323.4 L400.4,330.9 L402,330.9 L402,335.2 L403.6,335.2 L403.6,339.5 L405.2,339.5 L405.2,343.9 L406.8,343.9 L406.8,348.2 L408.5,348.2 L408.5,351.9 L410.1,351.9 L410.1,355.7 L411.7,355.7 L411.7,357.1 L413.4,357.1 L413.4,358.4 L415,358.4 L415,359.8 L416.5,359.8 L416.5,361.1 L418.1,361.1 L418.1,362.3 L419.6,362.3 L419.6,363.6 L421.1,363.6 L421.1,365.5 L422.6,365.5 L422.6,367.4 L424.5,367.4 L424.5,368.1 L426.4,368.1 L426.4,368.9 L428.3,368.9 L428.3,369.6 L430.2,369.6 L430.2,370.4 L431.8,370.4 L431.8,372.3 L433.3,372.3 L433.3,374.2 L439.3,374.2 L439.3,384.1 L446.7,384.1 L446.7,383.5 L665.3,383.5 L665.3,411.7 L440.4,411.7 L440.2,399.9 L440.2,394 L437.8,394 L437.8,393.2 L435.6,393.2 L435.6,392.5 L433.3,392.5 L433.3,389.4 L431.8,389.4 L431.8,386.4 L430.2,386.4 L430.2,385.4 L428.3,385.4 L428.3,384.5 L426.4,384.5 L426.4,383.6 L424.5,383.6 L424.5,382.6 L422.6,382.6 L422.6,381.1 L421.1,381.1 L421.1,379.5 L419.6,379.5 L419.6,377.5 L418.1,377.5 L418.1,375.5 L416.5,375.5 L416.5,373.5 L415,373.5 L415,369.7 L413.3,369.7 L413.3,366.4 L411.7,366.4 L411.7,363.2 L410.1,363.2 L410.1,359.4 L408.5,359.4 L408.5,355.7 L406.8,355.7 L406.8,351.9 L405.2,351.9 L405.2,348.2 L403.6,348.2 L403.6,342.8 L402,342.8 L402,337.4 L400.4,337.4 L400.4,327.7 L398.8,327.7 L398.8,323.4 L398.2,323.4 Z"/></clipPath><clipPath id="ct8"><path d="M398.2,323.4 L400,323.4 L400,325.2 L401.8,325.2 L401.8,327 L403.6,327 L403.6,328.8 L405.8,328.8 L405.8,331.5 L407.9,331.5 L407.9,334.2 L410,334.2 L410,337.7 L412.2,337.7 L412.2,341.2 L413.6,341.2 L413.6,341.8 L415,341.8 L415,342.3 L416.9,342.3 L416.9,342.9 L418.8,342.9 L418.8,343.5 L420.7,343.5 L420.7,344 L422.6,344 L422.6,344.6 L424.1,344.6 L424.1,345.3 L425.7,345.3 L425.7,346.1 L427.2,346.1 L427.2,346.8 L429.2,346.8 L429.2,347.6 L431.3,347.6 L431.3,348.3 L433.3,348.3 L433.3,349.1 L435.3,349.1 L435.3,349.9 L437.3,349.9 L437.3,350.6 L439.3,350.6 L439.3,351.4 L446.9,351.4 L446.9,358.4 L475.2,358.4 L475.2,415.8 L446.9,415.8 L446.9,390.2 L440.1,390.2 L440.1,380.3 L439.3,380.3 L439.3,379.5 L437.5,379.5 L437.5,378.8 L435.8,378.8 L435.8,378 L434,378 L434,373.5 L433.3,373.5 L433.3,371.9 L431.8,371.9 L431.8,370.4 L430.2,370.4 L430.2,368.5 L428.3,368.5 L428.3,366.6 L426.4,366.6 L426.4,363.6 L424.5,363.6 L424.5,360.5 L422.6,360.5 L422.6,359.4 L421.1,359.4 L421.1,358.3 L419.6,358.3 L419.6,357.5 L418.1,357.5 L418.1,356.8 L416.5,356.8 L416.5,356 L415,356 L415,354.8 L413.6,354.8 L413.6,353.5 L412.2,353.5 L412.2,348.1 L410.6,348.1 L410.6,342.8 L409,342.8 L409,339.9 L407.2,339.9 L407.2,337.1 L405.4,337.1 L405.4,334.2 L403.6,334.2 L403.6,329.9 L401.5,329.9 L401.5,325.5 L399.3,325.5 L399.3,323.4 L398.2,323.4 Z"/></clipPath><clipPath id="cr9"><path d="M46.8,596.4 L48.5,596.4 L48.5,597.7 L50.3,597.7 L50.3,598.9 L52,598.9 L52,600.2 L53.9,600.2 L53.9,601.2 L55.9,601.2 L55.9,602.1 L57.8,602.1 L57.8,603.1 L59.4,603.1 L59.4,604.7 L60.9,604.7 L60.9,606.2 L62.5,606.2 L62.5,607.8 L64.2,607.8 L64.2,609.5 L66,609.5 L66,611.3 L68,611.3 L68,612.7 L69.9,612.7 L69.9,614 L71.9,614 L71.9,615.4 L73.7,615.4 L73.7,617.1 L75.4,617.1 L75.4,618.9 L77.2,618.9 L77.2,620.6 L78.9,620.6 L78.9,622.4 L80.8,622.4 L80.8,623.9 L82.8,623.9 L82.8,625.5 L84.7,625.5 L84.7,627 L86.3,627 L86.3,627.4 L87.8,627.4 L87.8,627.8 L89.4,627.8 L89.4,628.2 L90.5,628.2 L90.5,630.5 L98.7,630.5 L101.1,630.5 L101.1,636.4 L102.6,636.4 L102.6,637.6 L104.2,637.6 L104.2,638.7 L105.7,638.7 L105.7,639.9 L108.1,639.9 L108.1,641.1 L109.8,641.1 L109.8,641.3 L111.5,641.3 L111.5,641.5 L113.3,641.5 L113.3,641.8 L115,641.8 L115,642 L116.7,642 L116.7,642.2 L118.4,642.2 L118.4,642.4 L120.2,642.4 L120.2,642.6 L121.9,642.6 L121.9,642.8 L123.6,642.8 L123.6,643 L123.6,651.5 L175.6,651.5 L175.6,652.6 L193.7,652.6 L193.7,655.7 L298.5,655.7 L298.5,633.4 L315.1,633.4 L315.1,722.1 L298.5,722.1 L298.5,701.6 L193.7,701.6 L193.7,691.6 L175.6,691.6 L175.6,690.9 L171.4,690.9 L171.4,683.3 L127.5,683.3 L127.5,672.1 L120.6,672.1 L120.6,670.7 L118.7,670.7 L118.7,669.4 L116.9,669.4 L116.9,668 L115,668 L115,667.7 L113.3,667.7 L113.3,667.4 L111.5,667.4 L111.5,667 L109.8,667 L109.8,666.7 L108.1,666.7 L108.1,662.1 L105.7,662.1 L105.7,659.8 L104,659.8 L104,657.4 L102.2,657.4 L102.2,655.1 L99.9,655.1 L99.9,653.4 L98.2,653.4 L98.2,651.6 L96.4,651.6 L96.4,646.9 L94,646.9 L94,645.7 L92.5,645.7 L92.5,644.6 L90.9,644.6 L90.9,643.4 L89.4,643.4 L89.4,641.6 L87.7,641.6 L87.7,639.9 L85.9,639.9 L85.9,638.7 L84.2,638.7 L84.2,637.5 L82.4,637.5 L82.4,636.3 L80.8,636.3 L80.8,635.2 L79.3,635.2 L79.3,634 L77.7,634 L77.7,630.5 L76.5,630.5 L76.5,628.8 L74.8,628.8 L74.8,627 L73,627 L73,625.8 L71.5,625.8 L71.5,624.7 L69.9,624.7 L69.9,623.5 L68.4,623.5 L68.4,618.9 L66,618.9 L66,616.7 L64.1,616.7 L64.1,614.6 L62.1,614.6 L62.1,612.4 L60.2,612.4 L60.2,610.3 L58.2,610.3 L58.2,608.1 L56.3,608.1 L56.3,606 L54.3,606 L54.3,604.1 L52.4,604.1 L52.4,602.1 L50.4,602.1 L50.4,600.2 L48.5,600.2 L48.5,596.4 L46.8,596.4 Z"/></clipPath><clipPath id="ct10"><path d="M46.8,596.4 L48.4,596.4 L48.4,596.9 L50.1,596.9 L50.1,597.5 L51.8,597.5 L51.8,598 L53.4,598 L53.4,598.5 L55.1,598.5 L55.1,599.1 L56.7,599.1 L56.7,599.6 L58.6,599.6 L58.6,600 L60.6,600 L60.6,600.4 L62.5,600.4 L62.5,600.8 L63.7,600.8 L63.7,603.1 L65.5,603.1 L65.5,603.4 L67.2,603.4 L67.2,603.7 L68.4,603.7 L68.4,606 L70.4,606 L70.4,606.1 L72.5,606.1 L72.5,606.3 L74.5,606.3 L74.5,606.5 L76.5,606.5 L76.5,606.6 L78.9,606.6 L78.9,609.5 L80.8,609.5 L80.8,609.9 L82.8,609.9 L82.8,610.3 L84.7,610.3 L84.7,610.7 L85.9,610.7 L85.9,612.4 L87.7,612.4 L87.7,612.5 L89.6,612.5 L89.6,612.6 L91.4,612.6 L91.4,612.7 L93.2,612.7 L93.2,612.7 L95,612.7 L95,612.8 L96.9,612.8 L96.9,612.9 L98.7,612.9 L98.7,613 L99.9,613 L99.9,616.5 L102.2,616.5 L102.2,619.4 L104.2,619.4 L104.2,619.6 L106.1,619.6 L106.1,619.8 L108.1,619.8 L108.1,620 L108.6,620 L108.6,622.5 L123.6,622.7 L123.6,626.1 L149.8,626.1 L149.8,628.9 L163.8,628.9 L163.8,633.1 L171.8,633.1 L171.8,637.3 L180.2,637.3 L180.2,642.9 L267.7,642.9 L267.7,717.8 L180.2,717.8 L180.2,707.6 L171.4,707.6 L171.4,694.4 L163.8,694.4 L163.8,682.5 L149.8,682.5 L149.8,670.7 L123.6,670.7 L123.6,663 L123.6,662.8 L121.9,662.8 L121.9,662.6 L120.2,662.6 L120.2,662.4 L118.4,662.4 L118.4,662.2 L116.7,662.2 L116.7,662 L115,662 L115,660.9 L113.3,660.9 L113.3,659.7 L111.5,659.7 L111.5,658.5 L109.8,658.5 L109.8,657.4 L108.1,657.4 L108.1,655.1 L106.1,655.1 L106.1,652.7 L104.2,652.7 L104.2,650.4 L102.2,650.4 L102.2,646.9 L99.9,646.9 L99.9,641.1 L97.6,641.1 L97.6,640.2 L95.8,640.2 L95.8,639.3 L94,639.3 L94,638.4 L92.3,638.4 L92.3,637.5 L90.5,637.5 L90.5,636.3 L88.6,636.3 L88.6,635.2 L86.6,635.2 L86.6,634 L84.7,634 L84.7,632.5 L82.8,632.5 L82.8,630.9 L80.8,630.9 L80.8,629.4 L78.9,629.4 L78.9,622.4 L77.7,622.4 L77.7,621.5 L76,621.5 L76,620.6 L74.2,620.6 L74.2,619.8 L72.5,619.8 L72.5,618.9 L70.7,618.9 L70.7,616.5 L68.4,616.5 L68.4,614.2 L66.4,614.2 L66.4,611.8 L64.5,611.8 L64.5,609.5 L62.5,609.5 L62.5,607.9 L60.6,607.9 L60.6,606.4 L58.6,606.4 L58.6,604.8 L56.7,604.8 L56.7,603.6 L55.1,603.6 L55.1,602.5 L53.4,602.5 L53.4,601.3 L51.8,601.3 L51.8,600.2 L50.1,600.2 L50.1,599 L48.5,599 L48.5,596.4 L46.8,596.4 Z"/></clipPath><clipPath id="cr11"><path d="M397.3,596.4 L399.1,596.4 L399.1,597.4 L400.8,597.4 L400.8,598.3 L402.6,598.3 L402.6,599.2 L404.3,599.2 L404.3,600.2 L405.9,600.2 L405.9,602.5 L407.4,602.5 L407.4,604.9 L409,604.9 L409,607.2 L410.9,607.2 L410.9,608.4 L412.8,608.4 L412.8,609.5 L414.6,609.5 L414.6,610.7 L416.5,610.7 L416.5,611.8 L418.4,611.8 L418.4,613 L420.3,613 L420.3,614.2 L422.3,614.2 L422.3,615.3 L424.2,615.3 L424.2,616.5 L426.1,616.5 L426.1,617.7 L428.1,617.7 L428.1,618.8 L430,618.8 L430,620 L431.9,620 L431.9,621 L433.9,621 L433.9,622 L435.9,622 L435.9,623 L437.8,623 L437.8,623.9 L439.8,623.9 L439.8,624.9 L441.7,624.9 L441.7,625.9 L443.6,625.9 L443.6,626.7 L445.6,626.7 L445.6,627.4 L447.5,627.4 L447.5,628.2 L449.5,628.2 L449.5,629 L451.4,629 L451.4,629.7 L453.4,629.7 L453.4,630.5 L455.3,630.5 L455.3,631.1 L457.3,631.1 L457.3,631.8 L459.2,631.8 L459.2,632.4 L461.1,632.4 L461.1,633 L463.1,633 L463.1,633.7 L465,633.7 L465,634.3 L466.8,634.3 L466.8,634.5 L468.6,634.5 L468.6,634.7 L470.5,634.7 L470.5,634.9 L472.3,634.9 L472.3,635 L474.1,635 L474.1,635.2 L476,635.2 L476,635.4 L477.8,635.4 L477.8,635.6 L479.6,635.6 L479.6,635.8 L481.4,635.8 L481.4,636.1 L483.2,636.1 L483.2,636.3 L485.1,636.3 L485.1,636.6 L486.9,636.6 L486.9,636.9 L488.7,636.9 L488.7,637.2 L490.6,637.2 L490.6,637.5 L492.4,637.5 L492.4,637.7 L494.2,637.7 L494.2,638 L496.4,638 L496.4,639.5 L498.6,639.5 L498.6,640.9 L500.5,640.9 L500.5,641.6 L502.5,641.6 L502.5,642.4 L504.4,642.4 L504.4,643.1 L506.1,643.1 L506.1,643.4 L507.8,643.4 L507.8,643.7 L509.5,643.7 L509.5,644.1 L511.2,644.1 L511.2,644.4 L512.9,644.4 L512.9,644.7 L514.6,644.7 L514.6,645 L516.3,645 L516.3,645.4 L518,645.4 L518,645.7 L519.7,645.7 L519.7,646 L521.4,646 L521.4,646.3 L523.2,646.3 L523.2,646.5 L524.9,646.5 L524.9,646.8 L526.6,646.8 L526.6,647.1 L528.3,647.1 L528.3,647.3 L530.1,647.3 L530.1,647.6 L531.8,647.6 L531.8,647.8 L533.5,647.8 L533.5,648.1 L535.2,648.1 L535.2,648.4 L537,648.4 L537,648.6 L538.7,648.6 L538.7,648.9 L540.5,648.9 L540.5,648.9 L542.4,648.9 L542.4,648.9 L544.2,648.9 L544.2,648.9 L546,648.9 L546,649 L547.9,649 L547.9,649 L549.7,649 L549.7,649 L551.5,649 L551.5,649 L553.4,649 L553.4,649 L555.2,649 L555.2,649 L557,649 L557,649.1 L558.9,649.1 L558.9,649.1 L560.7,649.1 L560.7,649.1 L562.5,649.1 L562.5,649.1 L564.3,649.1 L564.3,649.1 L566.2,649.1 L566.2,649.1 L568,649.1 L568,649.2 L569.8,649.2 L569.8,649.2 L571.7,649.2 L571.7,649.2 L573.5,649.2 L573.5,649.2 L575.3,649.2 L575.3,649.2 L577.2,649.2 L577.2,649.2 L579,649.2 L579,649.3 L580.8,649.3 L580.8,649.3 L582.7,649.3 L582.7,649.3 L584.5,649.3 L584.5,649.3 L584.5,650.3 L596.7,650.3 L596.7,653.5 L653.3,653.5 L653.3,712.1 L596.7,712.1 L596.7,701.6 L584.5,701.6 L584.5,687.8 L538.7,687.6 L538.7,686.9 L537,686.9 L537,686.3 L535.2,686.3 L535.2,685.6 L533.5,685.6 L533.5,684.9 L531.8,684.9 L531.8,684.3 L530.1,684.3 L530.1,683.6 L528.3,683.6 L528.3,683 L526.6,683 L526.6,682.3 L524.9,682.3 L524.9,681.6 L523.2,681.6 L523.2,681 L521.4,681 L521.4,680.3 L519.7,680.3 L519.7,679.7 L518,679.7 L518,679.1 L516.3,679.1 L516.3,678.4 L514.6,678.4 L514.6,677.8 L512.9,677.8 L512.9,677.2 L511.2,677.2 L511.2,676.6 L509.5,676.6 L509.5,675.9 L507.8,675.9 L507.8,675.3 L506.1,675.3 L506.1,674.7 L504.4,674.7 L504.4,672.9 L502.5,672.9 L502.5,671.1 L500.5,671.1 L500.5,669.3 L498.6,669.3 L498.6,666.8 L496.8,666.8 L496.8,664.2 L494.9,664.2 L494.9,663.8 L493.1,663.8 L493.1,663.3 L491.2,663.3 L491.2,662.9 L489.4,662.9 L489.4,662.4 L487.6,662.4 L487.6,662 L485.8,662 L485.8,661.5 L483.9,661.5 L483.9,661.1 L482.1,661.1 L482.1,660.6 L480.3,660.6 L480.3,659.1 L478.4,659.1 L478.4,657.7 L476.4,657.7 L476.4,656.2 L474.5,656.2 L474.5,654.7 L472.6,654.7 L472.6,653.3 L470.7,653.3 L470.7,651.8 L468.8,651.8 L468.8,650.4 L466.9,650.4 L466.9,648.9 L465,648.9 L465,648.4 L463.1,648.4 L463.1,647.8 L461.1,647.8 L461.1,647.3 L459.2,647.3 L459.2,646.8 L457.3,646.8 L457.3,646.2 L455.3,646.2 L455.3,645.7 L453.4,645.7 L453.4,644.5 L451.5,644.5 L451.5,643.4 L449.5,643.4 L449.5,642.2 L447.6,642.2 L447.6,640.6 L445.6,640.6 L445.6,639.1 L443.7,639.1 L443.7,637.5 L441.7,637.5 L441.7,636.3 L439.8,636.3 L439.8,635.2 L437.8,635.2 L437.8,634 L435.9,634 L435.9,632.8 L433.9,632.8 L433.9,631.7 L431.9,631.7 L431.9,630.5 L430,630.5 L430,629.1 L428.1,629.1 L428.1,627.8 L426.1,627.8 L426.1,626.5 L424.2,626.5 L424.2,625.1 L422.3,625.1 L422.3,623.8 L420.3,623.8 L420.3,622.4 L418.4,622.4 L418.4,620.4 L416.4,620.4 L416.4,618.5 L414.5,618.5 L414.5,616.5 L412.5,616.5 L412.5,614.2 L410.6,614.2 L410.6,611.8 L408.6,611.8 L408.6,609.5 L406.7,609.5 L406.7,607.2 L405.1,607.2 L405.1,604.8 L403.6,604.8 L403.6,602.5 L402,602.5 L402,600.5 L400.4,600.5 L400.4,598.4 L398.9,598.4 L398.9,596.4 L397.3,596.4 Z"/></clipPath><clipPath id="ct12"><path d="M397.3,596.4 L399.2,596.4 L399.2,597 L401.1,597 L401.1,597.7 L402.9,597.7 L402.9,598.3 L404.8,598.3 L404.8,599 L406.7,599 L406.7,599.6 L408.6,599.6 L408.6,600.1 L410.6,600.1 L410.6,600.6 L412.5,600.6 L412.5,601 L414.5,601 L414.5,601.5 L416.4,601.5 L416.4,602 L418.4,602 L418.4,602.5 L420.3,602.5 L420.3,602.9 L422.3,602.9 L422.3,603.3 L424.2,603.3 L424.2,603.6 L426.1,603.6 L426.1,604 L428.1,604 L428.1,604.4 L430,604.4 L430,604.8 L431.9,604.8 L431.9,605.1 L433.9,605.1 L433.9,605.4 L435.9,605.4 L435.9,605.7 L437.8,605.7 L437.8,606 L439.8,606 L439.8,606.3 L441.7,606.3 L441.7,606.6 L443.6,606.6 L443.6,606.8 L445.6,606.8 L445.6,607 L447.5,607 L447.5,607.2 L449.5,607.2 L449.5,607.4 L451.4,607.4 L451.4,607.6 L453.4,607.6 L453.4,607.8 L465,608 L466.4,608 L466.4,609.5 L467.9,609.5 L467.9,611 L557.7,611 L557.7,608 L635.3,608 L635.3,660.8 L557.7,660.8 L557.7,638 L467.9,638 L467.9,627 L467.4,627 L467.4,626.9 L465.6,626.9 L465.6,626.8 L463.9,626.8 L463.9,626.6 L462.1,626.6 L462.1,626.5 L460.4,626.5 L460.4,625.6 L458.6,625.6 L458.6,624.8 L456.9,624.8 L456.9,623.9 L455.1,623.9 L455.1,623 L453.4,623 L453.4,618.9 L452.2,618.9 L452.2,618.8 L450.4,618.8 L450.4,618.7 L448.7,618.7 L448.7,618.6 L446.9,618.6 L446.9,618.5 L445.2,618.5 L445.2,618.4 L443.4,618.4 L443.4,618.3 L441.7,618.3 L441.7,617.9 L439.8,617.9 L439.8,617.6 L438,617.6 L438,617.2 L436.1,617.2 L436.1,616.9 L434.3,616.9 L434.3,616.5 L432.4,616.5 L432.4,613.6 L430,613.6 L430,612.8 L428.1,612.8 L428.1,612 L426.1,612 L426.1,611.2 L424.2,611.2 L424.2,610.5 L422.3,610.5 L422.3,609.7 L420.3,609.7 L420.3,608.9 L418.4,608.9 L418.4,607.9 L416.4,607.9 L416.4,607 L414.5,607 L414.5,606 L412.5,606 L412.5,605 L410.6,605 L410.6,604.1 L408.6,604.1 L408.6,603.1 L406.7,603.1 L406.7,601.7 L404.7,601.7 L404.7,600.4 L402.8,600.4 L402.8,599 L400.8,599 L400.8,597.7 L399.1,597.7 L399.1,596.4 L397.3,596.4 Z"/></clipPath></defs>
<g filter="url(#soft)">
<rect width="685" height="789" fill="#fff"/>
<text transform="translate(1.6,23.8) scale(0.88,1)" font-size="26.3" fill="#000">A</text>
<text transform="translate(153.4,33.7) scale(0.88,1)" font-size="7.8" text-anchor="start" fill="#000">RAR</text>
<rect x="171" y="28.7" width="5" height="4.8" fill="#f6cfcf"/>
<line x1="171" y1="31.1" x2="176" y2="31.1" stroke="#e97a74" stroke-width="0.9"/>
<text transform="translate(179.4,33) scale(0.88,1)" font-size="5.9" text-anchor="start" fill="#000">High</text>
<rect x="192.9" y="28.7" width="5" height="4.8" fill="#b0dcdf"/>
<line x1="192.9" y1="31.1" x2="197.9" y2="31.1" stroke="#00abb2" stroke-width="0.9"/>
<text transform="translate(201.6,33) scale(0.88,1)" font-size="5.9" text-anchor="start" fill="#000">Low</text>
<path d="M47.2,49.8 L49,49.8 L49,50.1 L50.8,50.1 L50.8,50.5 L52.7,50.5 L52.7,50.8 L54.5,50.8 L54.5,51.2 L56.3,51.2 L56.3,51.5 L58.2,51.5 L58.2,51.7 L60,51.7 L60,52 L61.9,52 L61.9,52.2 L63.8,52.2 L63.8,52.4 L65.7,52.4 L65.7,52.6 L67.5,52.6 L67.5,52.8 L69.4,52.8 L69.4,53.1 L71.3,53.1 L71.3,53.3 L73.1,53.3 L73.1,53.5 L74.9,53.5 L74.9,53.8 L76.7,53.8 L76.7,54 L78.5,54 L78.5,54.3 L80.3,54.3 L80.3,54.5 L82.1,54.5 L82.1,54.8 L83.9,54.8 L83.9,55 L85.7,55 L85.7,55.3 L87.5,55.3 L87.5,55.5 L89.3,55.5 L89.3,55.8 L91.1,55.8 L91.1,56 L92.8,56 L92.8,56.2 L94.6,56.2 L94.6,56.3 L96.3,56.3 L96.3,56.5 L98,56.5 L98,56.6 L99.8,56.6 L99.8,56.8 L101.5,56.8 L101.5,57 L103.3,57 L103.3,57.1 L105,57.1 L105,57.3 L106.8,57.3 L106.8,57.5 L108.6,57.5 L108.6,57.7 L110.4,57.7 L110.4,58 L112.2,58 L112.2,58.2 L114,58.2 L114,58.4 L115.8,58.4 L115.8,58.6 L117.6,58.6 L117.6,58.8 L119.4,58.8 L119.4,59.1 L121.2,59.1 L121.2,59.3 L123,59.3 L123,59.5 L124.8,59.5 L124.8,59.7 L126.6,59.7 L126.6,59.9 L128.4,59.9 L128.4,60.2 L130.2,60.2 L130.2,60.4 L132,60.4 L132,60.6 L133.8,60.6 L133.8,60.7 L135.6,60.7 L135.6,60.8 L137.4,60.8 L137.4,60.8 L139.2,60.8 L139.2,60.9 L141,60.9 L141,61 L142.9,61 L142.9,61.1 L144.7,61.1 L144.7,61.1 L146.5,61.1 L146.5,61.2 L148.3,61.2 L148.3,61.3 L150.1,61.3 L150.1,61.4 L151.9,61.4 L151.9,61.4 L153.7,61.4 L153.7,61.5 L155.5,61.5 L155.5,61.6 L157.3,61.6 L157.3,61.7 L159.1,61.7 L159.1,61.7 L161,61.7 L161,61.8 L162.8,61.8 L162.8,61.9 L164.6,61.9 L164.6,62 L166.4,62 L166.4,62 L168.2,62 L168.2,62.1 L170,62.1 L170,62.2 L190,62.5 L191.7,62.5 L191.7,62.6 L193.5,62.6 L193.5,62.7 L195.2,62.7 L195.2,62.8 L197,62.8 L197,62.8 L198.7,62.8 L198.7,62.9 L200.4,62.9 L200.4,63 L202.2,63 L202.2,63.1 L203.9,63.1 L203.9,63.2 L205.7,63.2 L205.7,63.2 L207.4,63.2 L207.4,63.3 L209.2,63.3 L209.2,63.4 L210.9,63.4 L210.9,63.5 L212.7,63.5 L212.7,63.6 L214.6,63.6 L214.6,63.6 L216.4,63.6 L216.4,63.7 L218.2,63.7 L218.2,63.8 L220,63.8 L220,63.9 L221.8,63.9 L221.8,63.9 L223.7,63.9 L223.7,64 L225.5,64 L225.5,64.1 L227.3,64.1 L227.3,64.1 L229.2,64.1 L229.2,64.2 L231,64.2 L231,64.3 L232.8,64.3 L232.8,64.4 L234.6,64.4 L234.6,64.4 L236.4,64.4 L236.4,64.5 L238.3,64.5 L238.3,64.6 L240.1,64.6 L240.1,64.6 L241.9,64.6 L241.9,64.7 L243.8,64.7 L243.8,64.8 L245.6,64.8 L245.6,64.9 L247.4,64.9 L247.4,64.9 L249.2,64.9 L249.2,65 L251.1,65 L251.1,65.1 L252.9,65.1 L252.9,65.1 L254.7,65.1 L254.7,65.2 L256.5,65.2 L256.5,65.3 L258.4,65.3 L258.4,65.4 L260.2,65.4 L260.2,65.4 L262,65.4 L262,65.5 L263.8,65.5 L263.8,65.5 L265.5,65.5 L265.5,65.6 L267.3,65.6 L267.3,65.6 L269.1,65.6 L269.1,65.6 L270.8,65.6 L270.8,65.7 L272.6,65.7 L272.6,65.7 L274.3,65.7 L274.3,65.8 L276.1,65.8 L276.1,65.8 L277.9,65.8 L277.9,65.8 L279.6,65.8 L279.6,65.9 L281.4,65.9 L281.4,65.9 L283.2,65.9 L283.2,65.9 L284.9,65.9 L284.9,66 L286.7,66 L286.7,66 L288.5,66 L288.5,66 L290.2,66 L290.2,66.1 L292,66.1 L292,66.1 L293.7,66.1 L293.7,66.2 L295.5,66.2 L295.5,66.2 L297.3,66.2 L297.3,66.2 L299,66.2 L299,66.3 L300.8,66.3 L300.8,66.3 L300.8,75.7 L300.8,75.7 L299,75.7 L299,75.7 L297.3,75.7 L297.3,75.6 L295.5,75.6 L295.5,75.6 L293.7,75.6 L293.7,75.6 L292,75.6 L292,75.6 L290.2,75.6 L290.2,75.5 L288.5,75.5 L288.5,75.5 L286.7,75.5 L286.7,75.5 L284.9,75.5 L284.9,75.5 L283.2,75.5 L283.2,75.5 L281.4,75.5 L281.4,75.4 L279.6,75.4 L279.6,75.4 L277.9,75.4 L277.9,75.4 L276.1,75.4 L276.1,75.4 L274.3,75.4 L274.3,75.3 L272.6,75.3 L272.6,75.3 L270.8,75.3 L270.8,75.3 L269.1,75.3 L269.1,75.3 L267.3,75.3 L267.3,75.2 L265.5,75.2 L265.5,75.2 L263.8,75.2 L263.8,75.2 L262,75.2 L262,75.1 L260.2,75.1 L260.2,75 L258.4,75 L258.4,74.9 L256.5,74.9 L256.5,74.9 L254.7,74.9 L254.7,74.8 L252.9,74.8 L252.9,74.7 L251.1,74.7 L251.1,74.6 L249.2,74.6 L249.2,74.5 L247.4,74.5 L247.4,74.4 L245.6,74.4 L245.6,74.3 L243.8,74.3 L243.8,74.3 L241.9,74.3 L241.9,74.2 L240.1,74.2 L240.1,74.1 L238.3,74.1 L238.3,74 L236.4,74 L236.4,73.9 L234.6,73.9 L234.6,73.8 L232.8,73.8 L232.8,73.7 L231,73.7 L231,73.7 L229.2,73.7 L229.2,73.6 L227.3,73.6 L227.3,73.5 L225.5,73.5 L225.5,73.4 L223.7,73.4 L223.7,73.3 L221.8,73.3 L221.8,73.2 L220,73.2 L220,73.1 L218.2,73.1 L218.2,73.1 L216.4,73.1 L216.4,73 L214.6,73 L214.6,72.9 L212.7,72.9 L212.7,72.8 L210.9,72.8 L210.9,72.7 L209.2,72.7 L209.2,72.7 L207.4,72.7 L207.4,72.6 L205.7,72.6 L205.7,72.5 L203.9,72.5 L203.9,72.5 L202.2,72.5 L202.2,72.4 L200.4,72.4 L200.4,72.3 L198.7,72.3 L198.7,72.3 L197,72.3 L197,72.2 L195.2,72.2 L195.2,72.1 L193.5,72.1 L193.5,72.1 L191.7,72.1 L191.7,72 L190,72 L190,71.9 L188.2,71.9 L188.2,71.7 L186.4,71.7 L186.4,71.6 L184.5,71.6 L184.5,71.5 L182.7,71.5 L182.7,71.4 L180.9,71.4 L180.9,71.2 L179.1,71.2 L179.1,71.1 L177.3,71.1 L177.3,71 L175.5,71 L175.5,70.9 L173.6,70.9 L173.6,70.7 L171.8,70.7 L171.8,70.6 L170,70.6 L170,70.5 L168.2,70.5 L168.2,70.4 L166.4,70.4 L166.4,70.3 L164.6,70.3 L164.6,70.2 L162.8,70.2 L162.8,70.1 L161,70.1 L161,70.1 L159.1,70.1 L159.1,70 L157.3,70 L157.3,69.9 L155.5,69.9 L155.5,69.8 L153.7,69.8 L153.7,69.7 L151.9,69.7 L151.9,69.6 L150.1,69.6 L150.1,69.5 L148.3,69.5 L148.3,69.4 L146.5,69.4 L146.5,69.3 L144.7,69.3 L144.7,69.2 L142.9,69.2 L142.9,69.2 L141,69.2 L141,69.1 L139.2,69.1 L139.2,69 L137.4,69 L137.4,68.9 L135.6,68.9 L135.6,68.8 L133.8,68.8 L133.8,68.7 L132,68.7 L132,68.5 L130.2,68.5 L130.2,68.3 L128.4,68.3 L128.4,68.2 L126.6,68.2 L126.6,68 L124.8,68 L124.8,67.8 L123,67.8 L123,67.6 L121.2,67.6 L121.2,67.4 L119.4,67.4 L119.4,67.3 L117.6,67.3 L117.6,67.1 L115.8,67.1 L115.8,66.9 L114,66.9 L114,66.7 L112.2,66.7 L112.2,66.5 L110.4,66.5 L110.4,66.4 L108.6,66.4 L108.6,66.2 L106.8,66.2 L106.8,66 L105,66 L105,65.7 L103.3,65.7 L103.3,65.5 L101.5,65.5 L101.5,65.2 L99.8,65.2 L99.8,64.9 L98,64.9 L98,64.6 L96.3,64.6 L96.3,64.3 L94.6,64.3 L94.6,64.1 L92.8,64.1 L92.8,63.8 L91.1,63.8 L91.1,63.5 L89.3,63.5 L89.3,63.2 L87.5,63.2 L87.5,62.8 L85.7,62.8 L85.7,62.5 L83.9,62.5 L83.9,62.2 L82.1,62.2 L82.1,61.9 L80.3,61.9 L80.3,61.6 L78.5,61.6 L78.5,61.3 L76.7,61.3 L76.7,60.9 L74.9,60.9 L74.9,60.6 L73.1,60.6 L73.1,60.3 L71.3,60.3 L71.3,59.6 L69.4,59.6 L69.4,59 L67.5,59 L67.5,58.3 L65.7,58.3 L65.7,57.6 L63.8,57.6 L63.8,57 L61.9,57 L61.9,56.3 L60,56.3 L60,55.7 L58.2,55.7 L58.2,55 L56.3,55 L56.3,54 L54.5,54 L54.5,52.9 L52.7,52.9 L52.7,51.9 L50.8,51.9 L50.8,50.8 L49,50.8 L49,49.8 L47.2,49.8 Z" fill="#f6cfcf"/>
<path d="M47.2,49.8 L49.1,49.8 L49.1,50 L51,50 L51,50.1 L52.9,50.1 L52.9,50.3 L54.7,50.3 L54.7,50.5 L56.6,50.5 L56.6,50.7 L58.5,50.7 L58.5,50.8 L60.4,50.8 L60.4,51 L71.3,51.2 L73.1,51.2 L73.1,51.3 L74.9,51.3 L74.9,51.4 L76.7,51.4 L76.7,51.6 L78.5,51.6 L78.5,51.7 L80.3,51.7 L80.3,51.8 L82.1,51.8 L82.1,51.9 L83.9,51.9 L83.9,52 L85.7,52 L85.7,52.1 L87.5,52.1 L87.5,52.3 L89.3,52.3 L89.3,52.4 L91.1,52.4 L91.1,52.5 L92.8,52.5 L92.8,52.6 L94.6,52.6 L94.6,52.6 L96.3,52.6 L96.3,52.7 L98,52.7 L98,52.8 L99.8,52.8 L99.8,52.8 L101.5,52.8 L101.5,52.9 L103.3,52.9 L103.3,52.9 L105,52.9 L105,53 L106.8,53 L106.8,53.1 L108.6,53.1 L108.6,53.2 L110.4,53.2 L110.4,53.3 L112.2,53.3 L112.2,53.4 L114,53.4 L114,53.5 L115.8,53.5 L115.8,53.6 L117.6,53.6 L117.6,53.7 L119.4,53.7 L119.4,53.9 L121.2,53.9 L121.2,54 L123,54 L123,54.1 L124.8,54.1 L124.8,54.2 L126.6,54.2 L126.6,54.3 L128.4,54.3 L128.4,54.4 L130.2,54.4 L130.2,54.5 L132,54.5 L132,54.6 L133.8,54.6 L133.8,54.6 L135.6,54.6 L135.6,54.7 L137.4,54.7 L137.4,54.7 L139.2,54.7 L139.2,54.7 L141,54.7 L141,54.7 L142.9,54.7 L142.9,54.8 L144.7,54.8 L144.7,54.8 L146.5,54.8 L146.5,54.8 L148.3,54.8 L148.3,54.9 L150.1,54.9 L150.1,54.9 L151.9,54.9 L151.9,54.9 L153.7,54.9 L153.7,54.9 L155.5,54.9 L155.5,55 L157.3,55 L157.3,55 L159.1,55 L159.1,55 L161,55 L161,55.1 L162.8,55.1 L162.8,55.1 L164.6,55.1 L164.6,55.1 L166.4,55.1 L166.4,55.1 L168.2,55.1 L168.2,55.2 L170,55.2 L170,55.2 L171.8,55.2 L171.8,55.2 L173.6,55.2 L173.6,55.2 L175.4,55.2 L175.4,55.3 L177.3,55.3 L177.3,55.3 L179.1,55.3 L179.1,55.3 L180.9,55.3 L180.9,55.3 L182.7,55.3 L182.7,55.4 L184.5,55.4 L184.5,55.4 L186.3,55.4 L186.3,55.4 L188.2,55.4 L188.2,55.4 L190,55.4 L190,55.4 L191.8,55.4 L191.8,55.5 L193.6,55.5 L193.6,55.5 L195.4,55.5 L195.4,55.5 L197.2,55.5 L197.2,55.5 L199,55.5 L199,55.6 L200.9,55.6 L200.9,55.6 L202.7,55.6 L202.7,55.6 L204.5,55.6 L204.5,55.6 L206.3,55.6 L206.3,55.6 L208.1,55.6 L208.1,55.7 L209.9,55.7 L209.9,55.7 L211.8,55.7 L211.8,55.7 L213.6,55.7 L213.6,55.7 L215.4,55.7 L215.4,55.8 L217.2,55.8 L217.2,55.8 L219,55.8 L219,55.8 L220.8,55.8 L220.8,55.8 L222.7,55.8 L222.7,55.8 L224.5,55.8 L224.5,55.9 L226.3,55.9 L226.3,55.9 L228.1,55.9 L228.1,55.9 L229.9,55.9 L229.9,55.9 L231.7,55.9 L231.7,56 L233.5,56 L233.5,56 L235.4,56 L235.4,56 L237.2,56 L237.2,56 L239,56 L239,56 L240.8,56 L240.8,56.1 L242.6,56.1 L242.6,56.1 L244.4,56.1 L244.4,56.1 L246.3,56.1 L246.3,56.1 L248.1,56.1 L248.1,56.2 L249.9,56.2 L249.9,56.2 L251.7,56.2 L251.7,56.2 L253.5,56.2 L253.5,56.2 L255.3,56.2 L255.3,56.3 L257.2,56.3 L257.2,56.3 L259,56.3 L259,56.3 L260.8,56.3 L260.8,56.3 L262.6,56.3 L262.6,56.4 L264.4,56.4 L264.4,56.4 L266.2,56.4 L266.2,56.4 L268.1,56.4 L268.1,56.4 L269.9,56.4 L269.9,56.5 L271.7,56.5 L271.7,56.5 L273.5,56.5 L273.5,56.5 L275.3,56.5 L275.3,56.5 L277.2,56.5 L277.2,56.6 L279,56.6 L279,56.6 L280.8,56.6 L280.8,56.6 L282.6,56.6 L282.6,56.6 L284.4,56.6 L284.4,56.7 L286.3,56.7 L286.3,56.7 L288.1,56.7 L288.1,56.7 L289.9,56.7 L289.9,56.7 L291.7,56.7 L291.7,56.8 L293.5,56.8 L293.5,56.8 L295.3,56.8 L295.3,56.8 L297.2,56.8 L297.2,56.8 L299,56.8 L299,56.9 L300.8,56.9 L300.8,56.9 L300.8,63.4 L253.8,63.4 L253.8,62.4 L251.7,62.4 L251.7,62.4 L249.9,62.4 L249.9,62.4 L248.1,62.4 L248.1,62.3 L246.3,62.3 L246.3,62.3 L244.4,62.3 L244.4,62.3 L242.6,62.3 L242.6,62.3 L240.8,62.3 L240.8,62.3 L239,62.3 L239,62.2 L237.2,62.2 L237.2,62.2 L235.4,62.2 L235.4,62.2 L233.5,62.2 L233.5,62.2 L231.7,62.2 L231.7,62.2 L229.9,62.2 L229.9,62.1 L228.1,62.1 L228.1,62.1 L226.3,62.1 L226.3,62.1 L224.5,62.1 L224.5,62.1 L222.7,62.1 L222.7,62.1 L220.8,62.1 L220.8,62 L219,62 L219,62 L217.2,62 L217.2,62 L215.4,62 L215.4,62 L213.6,62 L213.6,62 L211.8,62 L211.8,61.9 L209.9,61.9 L209.9,61.9 L208.1,61.9 L208.1,61.9 L206.3,61.9 L206.3,61.9 L204.5,61.9 L204.5,61.9 L202.7,61.9 L202.7,61.8 L200.9,61.8 L200.9,61.8 L199,61.8 L199,61.8 L197.2,61.8 L197.2,61.8 L195.4,61.8 L195.4,61.8 L193.6,61.8 L193.6,61.7 L191.8,61.7 L191.8,61.7 L190,61.7 L190,61.7 L188.2,61.7 L188.2,61.7 L186.3,61.7 L186.3,61.7 L184.5,61.7 L184.5,61.6 L182.7,61.6 L182.7,61.6 L180.9,61.6 L180.9,61.6 L179.1,61.6 L179.1,61.6 L177.3,61.6 L177.3,61.6 L175.4,61.6 L175.4,61.5 L173.6,61.5 L173.6,61.5 L171.8,61.5 L171.8,61.5 L170,61.5 L170,61.5 L168.2,61.5 L168.2,61.4 L166.4,61.4 L166.4,61.4 L164.6,61.4 L164.6,61.3 L162.8,61.3 L162.8,61.3 L161,61.3 L161,61.2 L159.1,61.2 L159.1,61.2 L157.3,61.2 L157.3,61.2 L155.5,61.2 L155.5,61.1 L153.7,61.1 L153.7,61.1 L151.9,61.1 L151.9,61 L150.1,61 L150.1,61 L148.3,61 L148.3,60.9 L146.5,60.9 L146.5,60.9 L144.7,60.9 L144.7,60.9 L142.9,60.9 L142.9,60.8 L141,60.8 L141,60.8 L139.2,60.8 L139.2,60.7 L137.4,60.7 L137.4,60.7 L135.6,60.7 L135.6,60.6 L133.8,60.6 L133.8,60.6 L132,60.6 L132,60.5 L130.2,60.5 L130.2,60.4 L128.4,60.4 L128.4,60.3 L126.6,60.3 L126.6,60.2 L124.8,60.2 L124.8,60.1 L123,60.1 L123,60 L121.2,60 L121.2,59.9 L119.4,59.9 L119.4,59.7 L117.6,59.7 L117.6,59.6 L115.8,59.6 L115.8,59.5 L114,59.5 L114,59.4 L112.2,59.4 L112.2,59.3 L110.4,59.3 L110.4,59.2 L108.6,59.2 L108.6,59.1 L106.8,59.1 L106.8,59 L105,59 L105,58.9 L103.3,58.9 L103.3,58.8 L101.5,58.8 L101.5,58.6 L99.8,58.6 L99.8,58.5 L98,58.5 L98,58.4 L96.3,58.4 L96.3,58.2 L94.6,58.2 L94.6,58.1 L92.8,58.1 L92.8,58 L91.1,58 L91.1,57.8 L89.3,57.8 L89.3,57.6 L87.5,57.6 L87.5,57.3 L85.7,57.3 L85.7,57.1 L83.9,57.1 L83.9,56.9 L82.1,56.9 L82.1,56.7 L80.3,56.7 L80.3,56.5 L78.5,56.5 L78.5,56.3 L76.7,56.3 L76.7,56 L74.9,56 L74.9,55.8 L73.1,55.8 L73.1,55.6 L71.3,55.6 L71.3,55.2 L69.5,55.2 L69.5,54.8 L67.7,54.8 L67.7,54.5 L65.9,54.5 L65.9,54.1 L64.1,54.1 L64.1,53.7 L62.2,53.7 L62.2,53.3 L60.4,53.3 L60.4,53 L58.6,53 L58.6,52.6 L56.8,52.6 L56.8,52.2 L55,52.2 L55,51.6 L53,51.6 L53,51 L51.1,51 L51.1,50.4 L49.2,50.4 L49.2,49.8 L47.2,49.8 Z" fill="#b0dcdf"/>
<path d="M47.2,49.8 L49.1,49.8 L49.1,50 L51,50 L51,50.1 L52.9,50.1 L52.9,50.3 L54.7,50.3 L54.7,50.5 L56.6,50.5 L56.6,50.7 L58.5,50.7 L58.5,50.8 L60.4,50.8 L60.4,51 L71.3,51.2 L73.1,51.2 L73.1,51.3 L74.9,51.3 L74.9,51.4 L76.7,51.4 L76.7,51.6 L78.5,51.6 L78.5,51.7 L80.3,51.7 L80.3,51.8 L82.1,51.8 L82.1,51.9 L83.9,51.9 L83.9,52 L85.7,52 L85.7,52.1 L87.5,52.1 L87.5,52.3 L89.3,52.3 L89.3,52.4 L91.1,52.4 L91.1,52.5 L92.8,52.5 L92.8,52.6 L94.6,52.6 L94.6,52.6 L96.3,52.6 L96.3,52.7 L98,52.7 L98,52.8 L99.8,52.8 L99.8,52.8 L101.5,52.8 L101.5,52.9 L103.3,52.9 L103.3,52.9 L105,52.9 L105,53 L106.8,53 L106.8,53.1 L108.6,53.1 L108.6,53.2 L110.4,53.2 L110.4,53.3 L112.2,53.3 L112.2,53.4 L114,53.4 L114,53.5 L115.8,53.5 L115.8,53.6 L117.6,53.6 L117.6,53.7 L119.4,53.7 L119.4,53.9 L121.2,53.9 L121.2,54 L123,54 L123,54.1 L124.8,54.1 L124.8,54.2 L126.6,54.2 L126.6,54.3 L128.4,54.3 L128.4,54.4 L130.2,54.4 L130.2,54.5 L132,54.5 L132,54.6 L133.8,54.6 L133.8,54.6 L135.6,54.6 L135.6,54.7 L137.4,54.7 L137.4,54.7 L139.2,54.7 L139.2,54.7 L141,54.7 L141,54.7 L142.9,54.7 L142.9,54.8 L144.7,54.8 L144.7,54.8 L146.5,54.8 L146.5,54.8 L148.3,54.8 L148.3,54.9 L150.1,54.9 L150.1,54.9 L151.9,54.9 L151.9,54.9 L153.7,54.9 L153.7,54.9 L155.5,54.9 L155.5,55 L157.3,55 L157.3,55 L159.1,55 L159.1,55 L161,55 L161,55.1 L162.8,55.1 L162.8,55.1 L164.6,55.1 L164.6,55.1 L166.4,55.1 L166.4,55.1 L168.2,55.1 L168.2,55.2 L170,55.2 L170,55.2 L171.8,55.2 L171.8,55.2 L173.6,55.2 L173.6,55.2 L175.4,55.2 L175.4,55.3 L177.3,55.3 L177.3,55.3 L179.1,55.3 L179.1,55.3 L180.9,55.3 L180.9,55.3 L182.7,55.3 L182.7,55.4 L184.5,55.4 L184.5,55.4 L186.3,55.4 L186.3,55.4 L188.2,55.4 L188.2,55.4 L190,55.4 L190,55.4 L191.8,55.4 L191.8,55.5 L193.6,55.5 L193.6,55.5 L195.4,55.5 L195.4,55.5 L197.2,55.5 L197.2,55.5 L199,55.5 L199,55.6 L200.9,55.6 L200.9,55.6 L202.7,55.6 L202.7,55.6 L204.5,55.6 L204.5,55.6 L206.3,55.6 L206.3,55.6 L208.1,55.6 L208.1,55.7 L209.9,55.7 L209.9,55.7 L211.8,55.7 L211.8,55.7 L213.6,55.7 L213.6,55.7 L215.4,55.7 L215.4,55.8 L217.2,55.8 L217.2,55.8 L219,55.8 L219,55.8 L220.8,55.8 L220.8,55.8 L222.7,55.8 L222.7,55.8 L224.5,55.8 L224.5,55.9 L226.3,55.9 L226.3,55.9 L228.1,55.9 L228.1,55.9 L229.9,55.9 L229.9,55.9 L231.7,55.9 L231.7,56 L233.5,56 L233.5,56 L235.4,56 L235.4,56 L237.2,56 L237.2,56 L239,56 L239,56 L240.8,56 L240.8,56.1 L242.6,56.1 L242.6,56.1 L244.4,56.1 L244.4,56.1 L246.3,56.1 L246.3,56.1 L248.1,56.1 L248.1,56.2 L249.9,56.2 L249.9,56.2 L251.7,56.2 L251.7,56.2 L253.5,56.2 L253.5,56.2 L255.3,56.2 L255.3,56.3 L257.2,56.3 L257.2,56.3 L259,56.3 L259,56.3 L260.8,56.3 L260.8,56.3 L262.6,56.3 L262.6,56.4 L264.4,56.4 L264.4,56.4 L266.2,56.4 L266.2,56.4 L268.1,56.4 L268.1,56.4 L269.9,56.4 L269.9,56.5 L271.7,56.5 L271.7,56.5 L273.5,56.5 L273.5,56.5 L275.3,56.5 L275.3,56.5 L277.2,56.5 L277.2,56.6 L279,56.6 L279,56.6 L280.8,56.6 L280.8,56.6 L282.6,56.6 L282.6,56.6 L284.4,56.6 L284.4,56.7 L286.3,56.7 L286.3,56.7 L288.1,56.7 L288.1,56.7 L289.9,56.7 L289.9,56.7 L291.7,56.7 L291.7,56.8 L293.5,56.8 L293.5,56.8 L295.3,56.8 L295.3,56.8 L297.2,56.8 L297.2,56.8 L299,56.8 L299,56.9 L300.8,56.9 L300.8,56.9 L300.8,63.4 L253.8,63.4 L253.8,62.4 L251.7,62.4 L251.7,62.4 L249.9,62.4 L249.9,62.4 L248.1,62.4 L248.1,62.3 L246.3,62.3 L246.3,62.3 L244.4,62.3 L244.4,62.3 L242.6,62.3 L242.6,62.3 L240.8,62.3 L240.8,62.3 L239,62.3 L239,62.2 L237.2,62.2 L237.2,62.2 L235.4,62.2 L235.4,62.2 L233.5,62.2 L233.5,62.2 L231.7,62.2 L231.7,62.2 L229.9,62.2 L229.9,62.1 L228.1,62.1 L228.1,62.1 L226.3,62.1 L226.3,62.1 L224.5,62.1 L224.5,62.1 L222.7,62.1 L222.7,62.1 L220.8,62.1 L220.8,62 L219,62 L219,62 L217.2,62 L217.2,62 L215.4,62 L215.4,62 L213.6,62 L213.6,62 L211.8,62 L211.8,61.9 L209.9,61.9 L209.9,61.9 L208.1,61.9 L208.1,61.9 L206.3,61.9 L206.3,61.9 L204.5,61.9 L204.5,61.9 L202.7,61.9 L202.7,61.8 L200.9,61.8 L200.9,61.8 L199,61.8 L199,61.8 L197.2,61.8 L197.2,61.8 L195.4,61.8 L195.4,61.8 L193.6,61.8 L193.6,61.7 L191.8,61.7 L191.8,61.7 L190,61.7 L190,61.7 L188.2,61.7 L188.2,61.7 L186.3,61.7 L186.3,61.7 L184.5,61.7 L184.5,61.6 L182.7,61.6 L182.7,61.6 L180.9,61.6 L180.9,61.6 L179.1,61.6 L179.1,61.6 L177.3,61.6 L177.3,61.6 L175.4,61.6 L175.4,61.5 L173.6,61.5 L173.6,61.5 L171.8,61.5 L171.8,61.5 L170,61.5 L170,61.5 L168.2,61.5 L168.2,61.4 L166.4,61.4 L166.4,61.4 L164.6,61.4 L164.6,61.3 L162.8,61.3 L162.8,61.3 L161,61.3 L161,61.2 L159.1,61.2 L159.1,61.2 L157.3,61.2 L157.3,61.2 L155.5,61.2 L155.5,61.1 L153.7,61.1 L153.7,61.1 L151.9,61.1 L151.9,61 L150.1,61 L150.1,61 L148.3,61 L148.3,60.9 L146.5,60.9 L146.5,60.9 L144.7,60.9 L144.7,60.9 L142.9,60.9 L142.9,60.8 L141,60.8 L141,60.8 L139.2,60.8 L139.2,60.7 L137.4,60.7 L137.4,60.7 L135.6,60.7 L135.6,60.6 L133.8,60.6 L133.8,60.6 L132,60.6 L132,60.5 L130.2,60.5 L130.2,60.4 L128.4,60.4 L128.4,60.3 L126.6,60.3 L126.6,60.2 L124.8,60.2 L124.8,60.1 L123,60.1 L123,60 L121.2,60 L121.2,59.9 L119.4,59.9 L119.4,59.7 L117.6,59.7 L117.6,59.6 L115.8,59.6 L115.8,59.5 L114,59.5 L114,59.4 L112.2,59.4 L112.2,59.3 L110.4,59.3 L110.4,59.2 L108.6,59.2 L108.6,59.1 L106.8,59.1 L106.8,59 L105,59 L105,58.9 L103.3,58.9 L103.3,58.8 L101.5,58.8 L101.5,58.6 L99.8,58.6 L99.8,58.5 L98,58.5 L98,58.4 L96.3,58.4 L96.3,58.2 L94.6,58.2 L94.6,58.1 L92.8,58.1 L92.8,58 L91.1,58 L91.1,57.8 L89.3,57.8 L89.3,57.6 L87.5,57.6 L87.5,57.3 L85.7,57.3 L85.7,57.1 L83.9,57.1 L83.9,56.9 L82.1,56.9 L82.1,56.7 L80.3,56.7 L80.3,56.5 L78.5,56.5 L78.5,56.3 L76.7,56.3 L76.7,56 L74.9,56 L74.9,55.8 L73.1,55.8 L73.1,55.6 L71.3,55.6 L71.3,55.2 L69.5,55.2 L69.5,54.8 L67.7,54.8 L67.7,54.5 L65.9,54.5 L65.9,54.1 L64.1,54.1 L64.1,53.7 L62.2,53.7 L62.2,53.3 L60.4,53.3 L60.4,53 L58.6,53 L58.6,52.6 L56.8,52.6 L56.8,52.2 L55,52.2 L55,51.6 L53,51.6 L53,51 L51.1,51 L51.1,50.4 L49.2,50.4 L49.2,49.8 L47.2,49.8 Z" fill="#b4c9cb" clip-path="url(#cr1)"/>
<path d="M47.2,49.8 L48.7,49.8 L48.7,50.3 L50.2,50.3 L50.2,50.9 L51.8,50.9 L51.8,51.4 L53.3,51.4 L53.3,51.9 L54.8,51.9 L54.8,52.5 L56.3,52.5 L56.3,53 L57.8,53 L57.8,53.3 L59.3,53.3 L59.3,53.7 L60.8,53.7 L60.8,54 L62.3,54 L62.3,54.4 L63.8,54.4 L63.8,54.7 L65.3,54.7 L65.3,55 L66.8,55 L66.8,55.4 L68.3,55.4 L68.3,55.7 L69.8,55.7 L69.8,56.1 L71.3,56.1 L71.3,56.4 L72.8,56.4 L72.8,56.7 L74.3,56.7 L74.3,57 L75.9,57 L75.9,57.3 L77.4,57.3 L77.4,57.6 L78.9,57.6 L78.9,57.9 L80.4,57.9 L80.4,58.2 L82,58.2 L82,58.5 L83.5,58.5 L83.5,58.8 L85,58.8 L85,59.1 L86.5,59.1 L86.5,59.4 L88.1,59.4 L88.1,59.7 L89.6,59.7 L89.6,60 L91.1,60 L91.1,60.3 L92.6,60.3 L92.6,60.5 L94.2,60.5 L94.2,60.7 L95.7,60.7 L95.7,60.9 L97.3,60.9 L97.3,61.1 L98.8,61.1 L98.8,61.4 L100.4,61.4 L100.4,61.6 L101.9,61.6 L101.9,61.8 L103.5,61.8 L103.5,62 L105,62 L105,62.2 L106.5,62.2 L106.5,62.3 L108,62.3 L108,62.5 L109.6,62.5 L109.6,62.6 L111.1,62.6 L111.1,62.7 L112.6,62.7 L112.6,62.8 L114.1,62.8 L114.1,63 L115.6,63 L115.6,63.1 L117.1,63.1 L117.1,63.2 L118.7,63.2 L118.7,63.3 L120.2,63.3 L120.2,63.5 L121.7,63.5 L121.7,63.6 L123.2,63.6 L123.2,63.7 L124.6,63.7 L124.6,63.8 L126.1,63.8 L126.1,63.9 L127.6,63.9 L127.6,63.9 L129,63.9 L129,64 L130.5,64 L130.5,64.1 L131.9,64.1 L131.9,64.2 L133.4,64.2 L133.4,64.3 L134.9,64.3 L134.9,64.4 L136.3,64.4 L136.3,64.5 L137.8,64.5 L137.8,64.5 L139.3,64.5 L139.3,64.6 L140.7,64.6 L140.7,64.7 L142.2,64.7 L142.2,64.8 L143.7,64.8 L143.7,64.9 L145.1,64.9 L145.1,64.9 L146.6,64.9 L146.6,65 L148,65 L148,65.1 L149.5,65.1 L149.5,65.2 L150.9,65.2 L150.9,65.2 L152.4,65.2 L152.4,65.3 L153.9,65.3 L153.9,65.4 L155.3,65.4 L155.3,65.4 L156.8,65.4 L156.8,65.5 L158.2,65.5 L158.2,65.6 L159.7,65.6 L159.7,65.7 L161.1,65.7 L161.1,65.7 L162.6,65.7 L162.6,65.8 L164.1,65.8 L164.1,65.9 L165.6,65.9 L165.6,66 L167,66 L167,66.1 L168.5,66.1 L168.5,66.2 L170,66.2 L170,66.3 L171.5,66.3 L171.5,66.4 L173.1,66.4 L173.1,66.5 L174.6,66.5 L174.6,66.6 L176.1,66.6 L176.1,66.7 L177.7,66.7 L177.7,66.8 L179.2,66.8 L179.2,67 L180.7,67 L180.7,67.1 L182.3,67.1 L182.3,67.2 L183.8,67.2 L183.8,67.3 L185.3,67.3 L185.3,67.4 L186.9,67.4 L186.9,67.5 L188.4,67.5 L188.4,67.6 L190,67.6 L190,67.7 L191.5,67.7 L191.5,67.8 L193,67.8 L193,68 L194.6,68 L194.6,68.1 L196.1,68.1 L196.1,68.2 L197.6,68.2 L197.6,68.3 L199.2,68.3 L199.2,68.4 L200.7,68.4 L200.7,68.5 L202.2,68.5 L202.2,68.6 L203.8,68.6 L203.8,68.6 L205.3,68.6 L205.3,68.7 L206.8,68.7 L206.8,68.8 L208.3,68.8 L208.3,68.8 L209.9,68.8 L209.9,68.9 L211.4,68.9 L211.4,69 L212.9,69 L212.9,69.1 L214.5,69.1 L214.5,69.1 L216,69.1 L216,69.2 L217.5,69.2 L217.5,69.3 L219.1,69.3 L219.1,69.3 L220.6,69.3 L220.6,69.4 L222.1,69.4 L222.1,69.5 L223.7,69.5 L223.7,69.6 L225.2,69.6 L225.2,69.6 L226.7,69.6 L226.7,69.7 L228.2,69.7 L228.2,69.8 L229.8,69.8 L229.8,69.8 L231.3,69.8 L231.3,69.9 L232.8,69.9 L232.8,69.9 L234.4,69.9 L234.4,70 L235.9,70 L235.9,70 L237.4,70 L237.4,70 L239,70 L239,70.1 L240.5,70.1 L240.5,70.1 L242,70.1 L242,70.1 L243.6,70.1 L243.6,70.1 L245.1,70.1 L245.1,70.2 L246.7,70.2 L246.7,70.2 L248.2,70.2 L248.2,70.2 L249.7,70.2 L249.7,70.3 L251.3,70.3 L251.3,70.3 L252.8,70.3 L252.8,70.3 L254.3,70.3 L254.3,70.3 L255.9,70.3 L255.9,70.4 L257.4,70.4 L257.4,70.4 L258.9,70.4 L258.9,70.4 L260.5,70.4 L260.5,70.5 L262,70.5 L262,70.5 L263.5,70.5 L263.5,70.5 L265,70.5 L265,70.5 L266.5,70.5 L266.5,70.6 L268,70.6 L268,70.6 L269.5,70.6 L269.5,70.6 L271,70.6 L271,70.6 L272.4,70.6 L272.4,70.6 L273.9,70.6 L273.9,70.7 L275.4,70.7 L275.4,70.7 L276.9,70.7 L276.9,70.7 L278.4,70.7 L278.4,70.7 L279.9,70.7 L279.9,70.7 L281.4,70.7 L281.4,70.8 L282.9,70.8 L282.9,70.8 L284.4,70.8 L284.4,70.8 L285.9,70.8 L285.9,70.8 L287.4,70.8 L287.4,70.8 L288.9,70.8 L288.9,70.8 L290.4,70.8 L290.4,70.9 L291.8,70.9 L291.8,70.9 L293.3,70.9 L293.3,70.9 L294.8,70.9 L294.8,70.9 L296.3,70.9 L296.3,70.9 L297.8,70.9 L297.8,71 L299.3,71 L299.3,71 L300.8,71 L300.8,71" fill="none" stroke="#e97a74" stroke-width="1.25"/>
<path d="M47.2,49.8 L48.7,49.8 L48.7,50.3 L50.2,50.3 L50.2,50.9 L51.8,50.9 L51.8,51.4 L53.3,51.4 L53.3,51.9 L54.8,51.9 L54.8,52.5 L56.3,52.5 L56.3,53 L57.8,53 L57.8,53.3 L59.3,53.3 L59.3,53.7 L60.8,53.7 L60.8,54 L62.3,54 L62.3,54.4 L63.8,54.4 L63.8,54.7 L65.3,54.7 L65.3,55 L66.8,55 L66.8,55.4 L68.3,55.4 L68.3,55.7 L69.8,55.7 L69.8,56.1 L71.3,56.1 L71.3,56.4 L72.8,56.4 L72.8,56.7 L74.3,56.7 L74.3,57 L75.9,57 L75.9,57.3 L77.4,57.3 L77.4,57.6 L78.9,57.6 L78.9,57.9 L80.4,57.9 L80.4,58.2 L82,58.2 L82,58.5 L83.5,58.5 L83.5,58.8 L85,58.8 L85,59.1 L86.5,59.1 L86.5,59.4 L88.1,59.4 L88.1,59.7 L89.6,59.7 L89.6,60 L91.1,60 L91.1,60.3 L92.6,60.3 L92.6,60.5 L94.2,60.5 L94.2,60.7 L95.7,60.7 L95.7,60.9 L97.3,60.9 L97.3,61.1 L98.8,61.1 L98.8,61.4 L100.4,61.4 L100.4,61.6 L101.9,61.6 L101.9,61.8 L103.5,61.8 L103.5,62 L105,62 L105,62.2 L106.5,62.2 L106.5,62.3 L108,62.3 L108,62.5 L109.6,62.5 L109.6,62.6 L111.1,62.6 L111.1,62.7 L112.6,62.7 L112.6,62.8 L114.1,62.8 L114.1,63 L115.6,63 L115.6,63.1 L117.1,63.1 L117.1,63.2 L118.7,63.2 L118.7,63.3 L120.2,63.3 L120.2,63.5 L121.7,63.5 L121.7,63.6 L123.2,63.6 L123.2,63.7 L124.6,63.7 L124.6,63.8 L126.1,63.8 L126.1,63.9 L127.6,63.9 L127.6,63.9 L129,63.9 L129,64 L130.5,64 L130.5,64.1 L131.9,64.1 L131.9,64.2 L133.4,64.2 L133.4,64.3 L134.9,64.3 L134.9,64.4 L136.3,64.4 L136.3,64.5 L137.8,64.5 L137.8,64.5 L139.3,64.5 L139.3,64.6 L140.7,64.6 L140.7,64.7 L142.2,64.7 L142.2,64.8 L143.7,64.8 L143.7,64.9 L145.1,64.9 L145.1,64.9 L146.6,64.9 L146.6,65 L148,65 L148,65.1 L149.5,65.1 L149.5,65.2 L150.9,65.2 L150.9,65.2 L152.4,65.2 L152.4,65.3 L153.9,65.3 L153.9,65.4 L155.3,65.4 L155.3,65.4 L156.8,65.4 L156.8,65.5 L158.2,65.5 L158.2,65.6 L159.7,65.6 L159.7,65.7 L161.1,65.7 L161.1,65.7 L162.6,65.7 L162.6,65.8 L164.1,65.8 L164.1,65.9 L165.6,65.9 L165.6,66 L167,66 L167,66.1 L168.5,66.1 L168.5,66.2 L170,66.2 L170,66.3 L171.5,66.3 L171.5,66.4 L173.1,66.4 L173.1,66.5 L174.6,66.5 L174.6,66.6 L176.1,66.6 L176.1,66.7 L177.7,66.7 L177.7,66.8 L179.2,66.8 L179.2,67 L180.7,67 L180.7,67.1 L182.3,67.1 L182.3,67.2 L183.8,67.2 L183.8,67.3 L185.3,67.3 L185.3,67.4 L186.9,67.4 L186.9,67.5 L188.4,67.5 L188.4,67.6 L190,67.6 L190,67.7 L191.5,67.7 L191.5,67.8 L193,67.8 L193,68 L194.6,68 L194.6,68.1 L196.1,68.1 L196.1,68.2 L197.6,68.2 L197.6,68.3 L199.2,68.3 L199.2,68.4 L200.7,68.4 L200.7,68.5 L202.2,68.5 L202.2,68.6 L203.8,68.6 L203.8,68.6 L205.3,68.6 L205.3,68.7 L206.8,68.7 L206.8,68.8 L208.3,68.8 L208.3,68.8 L209.9,68.8 L209.9,68.9 L211.4,68.9 L211.4,69 L212.9,69 L212.9,69.1 L214.5,69.1 L214.5,69.1 L216,69.1 L216,69.2 L217.5,69.2 L217.5,69.3 L219.1,69.3 L219.1,69.3 L220.6,69.3 L220.6,69.4 L222.1,69.4 L222.1,69.5 L223.7,69.5 L223.7,69.6 L225.2,69.6 L225.2,69.6 L226.7,69.6 L226.7,69.7 L228.2,69.7 L228.2,69.8 L229.8,69.8 L229.8,69.8 L231.3,69.8 L231.3,69.9 L232.8,69.9 L232.8,69.9 L234.4,69.9 L234.4,70 L235.9,70 L235.9,70 L237.4,70 L237.4,70 L239,70 L239,70.1 L240.5,70.1 L240.5,70.1 L242,70.1 L242,70.1 L243.6,70.1 L243.6,70.1 L245.1,70.1 L245.1,70.2 L246.7,70.2 L246.7,70.2 L248.2,70.2 L248.2,70.2 L249.7,70.2 L249.7,70.3 L251.3,70.3 L251.3,70.3 L252.8,70.3 L252.8,70.3 L254.3,70.3 L254.3,70.3 L255.9,70.3 L255.9,70.4 L257.4,70.4 L257.4,70.4 L258.9,70.4 L258.9,70.4 L260.5,70.4 L260.5,70.5 L262,70.5 L262,70.5 L263.5,70.5 L263.5,70.5 L265,70.5 L265,70.5 L266.5,70.5 L266.5,70.6 L268,70.6 L268,70.6 L269.5,70.6 L269.5,70.6 L271,70.6 L271,70.6 L272.4,70.6 L272.4,70.6 L273.9,70.6 L273.9,70.7 L275.4,70.7 L275.4,70.7 L276.9,70.7 L276.9,70.7 L278.4,70.7 L278.4,70.7 L279.9,70.7 L279.9,70.7 L281.4,70.7 L281.4,70.8 L282.9,70.8 L282.9,70.8 L284.4,70.8 L284.4,70.8 L285.9,70.8 L285.9,70.8 L287.4,70.8 L287.4,70.8 L288.9,70.8 L288.9,70.8 L290.4,70.8 L290.4,70.9 L291.8,70.9 L291.8,70.9 L293.3,70.9 L293.3,70.9 L294.8,70.9 L294.8,70.9 L296.3,70.9 L296.3,70.9 L297.8,70.9 L297.8,71 L299.3,71 L299.3,71 L300.8,71 L300.8,71" fill="none" stroke="#c48a84" stroke-width="1.25" clip-path="url(#ct2)"/>
<path d="M47.2,49.8 L48.7,49.8 L48.7,50.1 L50.1,50.1 L50.1,50.3 L51.6,50.3 L51.6,50.6 L53.1,50.6 L53.1,50.9 L54.5,50.9 L54.5,51.1 L56,51.1 L56,51.4 L57.5,51.4 L57.5,51.7 L58.9,51.7 L58.9,51.9 L60.4,51.9 L60.4,52.2 L62,52.2 L62,52.4 L63.5,52.4 L63.5,52.5 L65.1,52.5 L65.1,52.7 L66.6,52.7 L66.6,52.8 L68.2,52.8 L68.2,53 L69.7,53 L69.7,53.1 L71.3,53.1 L71.3,53.3 L72.8,53.3 L72.8,53.4 L74.3,53.4 L74.3,53.5 L75.9,53.5 L75.9,53.6 L77.4,53.6 L77.4,53.8 L78.9,53.8 L78.9,53.9 L80.4,53.9 L80.4,54 L82,54 L82,54.1 L83.5,54.1 L83.5,54.2 L85,54.2 L85,54.3 L86.5,54.3 L86.5,54.5 L88.1,54.5 L88.1,54.6 L89.6,54.6 L89.6,54.7 L91.1,54.7 L91.1,54.8 L92.6,54.8 L92.6,54.9 L94.2,54.9 L94.2,55.1 L95.7,55.1 L95.7,55.2 L97.3,55.2 L97.3,55.3 L98.8,55.3 L98.8,55.5 L100.4,55.5 L100.4,55.6 L101.9,55.6 L101.9,55.7 L103.5,55.7 L103.5,55.9 L105,55.9 L105,56 L106.5,56 L106.5,56.1 L108,56.1 L108,56.2 L109.5,56.2 L109.5,56.3 L111,56.3 L111,56.4 L112.5,56.4 L112.5,56.4 L114,56.4 L114,56.5 L115.5,56.5 L115.5,56.6 L117,56.6 L117,56.7 L118.5,56.7 L118.5,56.8 L120,56.8 L120,56.9 L121.5,56.9 L121.5,57 L123,57 L123,57.1 L124.5,57.1 L124.5,57.2 L126,57.2 L126,57.2 L127.5,57.2 L127.5,57.3 L129,57.3 L129,57.4 L130.5,57.4 L130.5,57.5 L132,57.5 L132,57.6 L133.5,57.6 L133.5,57.6 L134.9,57.6 L134.9,57.7 L136.4,57.7 L136.4,57.7 L137.8,57.7 L137.8,57.8 L139.3,57.8 L139.3,57.8 L140.7,57.8 L140.7,57.9 L142.2,57.9 L142.2,57.9 L143.7,57.9 L143.7,57.9 L145.1,57.9 L145.1,58 L146.6,58 L146.6,58 L148,58 L148,58.1 L149.5,58.1 L149.5,58.1 L150.9,58.1 L150.9,58.2 L152.4,58.2 L152.4,58.2 L170,58.3 L171.5,58.3 L171.5,58.4 L172.9,58.4 L172.9,58.4 L174.4,58.4 L174.4,58.5 L175.8,58.5 L175.8,58.6 L177.3,58.6 L177.3,58.7 L178.7,58.7 L178.7,58.7 L180.2,58.7 L180.2,58.8 L181.7,58.8 L181.7,58.9 L183.1,58.9 L183.1,58.9 L184.6,58.9 L184.6,59 L186,59 L186,59.1 L187.5,59.1 L187.5,59.2 L188.9,59.2 L188.9,59.2 L190.4,59.2 L190.4,59.3 L191.9,59.3 L191.9,59.3 L193.4,59.3 L193.4,59.3 L194.9,59.3 L194.9,59.3 L196.4,59.3 L196.4,59.3 L197.9,59.3 L197.9,59.3 L199.4,59.3 L199.4,59.4 L200.9,59.4 L200.9,59.4 L202.4,59.4 L202.4,59.4 L203.9,59.4 L203.9,59.4 L205.4,59.4 L205.4,59.4 L206.8,59.4 L206.8,59.4 L208.3,59.4 L208.3,59.4 L209.8,59.4 L209.8,59.4 L211.3,59.4 L211.3,59.4 L212.8,59.4 L212.8,59.4 L214.3,59.4 L214.3,59.5 L215.8,59.5 L215.8,59.5 L217.3,59.5 L217.3,59.5 L218.8,59.5 L218.8,59.5 L220.3,59.5 L220.3,59.5 L221.8,59.5 L221.8,59.5 L223.3,59.5 L223.3,59.5 L224.8,59.5 L224.8,59.5 L226.3,59.5 L226.3,59.5 L227.8,59.5 L227.8,59.5 L229.3,59.5 L229.3,59.6 L230.8,59.6 L230.8,59.6 L232.3,59.6 L232.3,59.6 L233.8,59.6 L233.8,59.6 L235.3,59.6 L235.3,59.6 L236.7,59.6 L236.7,59.6 L238.2,59.6 L238.2,59.6 L239.7,59.6 L239.7,59.6 L241.2,59.6 L241.2,59.6 L242.7,59.6 L242.7,59.6 L244.2,59.6 L244.2,59.7 L245.7,59.7 L245.7,59.7 L247.2,59.7 L247.2,59.7 L248.7,59.7 L248.7,59.7 L250.2,59.7 L250.2,59.7 L251.7,59.7 L251.7,59.7 L253.8,59.7 L253.8,60.3 L300.8,60.3" fill="none" stroke="#00abb2" stroke-width="1.25"/>
<path d="M33.1,44.6 L33.1,187.2 L331.1,187.2" fill="none" stroke="#8c8c8c" stroke-width="1.6" stroke-linejoin="round" stroke-linecap="round"/>
<line x1="31.1" y1="180.3" x2="33.1" y2="180.3" stroke="#222" stroke-width="0.8"/>
<text transform="translate(30.1,182.3) scale(0.88,1)" font-size="6" text-anchor="end" fill="#4a4a4a">0.00</text>
<line x1="31.1" y1="147.7" x2="33.1" y2="147.7" stroke="#222" stroke-width="0.8"/>
<text transform="translate(30.1,149.7) scale(0.88,1)" font-size="6" text-anchor="end" fill="#4a4a4a">0.25</text>
<line x1="31.1" y1="115.2" x2="33.1" y2="115.2" stroke="#222" stroke-width="0.8"/>
<text transform="translate(30.1,117.1) scale(0.88,1)" font-size="6" text-anchor="end" fill="#4a4a4a">0.50</text>
<line x1="31.1" y1="82.6" x2="33.1" y2="82.6" stroke="#222" stroke-width="0.8"/>
<text transform="translate(30.1,84.6) scale(0.88,1)" font-size="6" text-anchor="end" fill="#4a4a4a">0.75</text>
<line x1="31.1" y1="50" x2="33.1" y2="50" stroke="#222" stroke-width="0.8"/>
<text transform="translate(30.1,52) scale(0.88,1)" font-size="6" text-anchor="end" fill="#4a4a4a">1.00</text>
<line x1="46.3" y1="187.2" x2="46.3" y2="189" stroke="#222" stroke-width="0.8"/>
<text transform="translate(46.3,194.2) scale(0.88,1)" font-size="6" text-anchor="middle" fill="#4a4a4a">0</text>
<line x1="73.5" y1="187.2" x2="73.5" y2="189" stroke="#222" stroke-width="0.8"/>
<text transform="translate(73.5,194.2) scale(0.88,1)" font-size="6" text-anchor="middle" fill="#4a4a4a">3</text>
<line x1="100.7" y1="187.2" x2="100.7" y2="189" stroke="#222" stroke-width="0.8"/>
<text transform="translate(100.7,194.2) scale(0.88,1)" font-size="6" text-anchor="middle" fill="#4a4a4a">6</text>
<line x1="127.9" y1="187.2" x2="127.9" y2="189" stroke="#222" stroke-width="0.8"/>
<text transform="translate(127.9,194.2) scale(0.88,1)" font-size="6" text-anchor="middle" fill="#4a4a4a">9</text>
<line x1="155.1" y1="187.2" x2="155.1" y2="189" stroke="#222" stroke-width="0.8"/>
<text transform="translate(155.1,194.2) scale(0.88,1)" font-size="6" text-anchor="middle" fill="#4a4a4a">12</text>
<line x1="182.3" y1="187.2" x2="182.3" y2="189" stroke="#222" stroke-width="0.8"/>
<text transform="translate(182.3,194.2) scale(0.88,1)" font-size="6" text-anchor="middle" fill="#4a4a4a">15</text>
<line x1="209.6" y1="187.2" x2="209.6" y2="189" stroke="#222" stroke-width="0.8"/>
<text transform="translate(209.6,194.2) scale(0.88,1)" font-size="6" text-anchor="middle" fill="#4a4a4a">18</text>
<line x1="236.8" y1="187.2" x2="236.8" y2="189" stroke="#222" stroke-width="0.8"/>
<text transform="translate(236.8,194.2) scale(0.88,1)" font-size="6" text-anchor="middle" fill="#4a4a4a">21</text>
<line x1="264" y1="187.2" x2="264" y2="189" stroke="#222" stroke-width="0.8"/>
<text transform="translate(264,194.2) scale(0.88,1)" font-size="6" text-anchor="middle" fill="#4a4a4a">24</text>
<line x1="291.2" y1="187.2" x2="291.2" y2="189" stroke="#222" stroke-width="0.8"/>
<text transform="translate(291.2,194.2) scale(0.88,1)" font-size="6" text-anchor="middle" fill="#4a4a4a">27</text>
<line x1="318.4" y1="187.2" x2="318.4" y2="189" stroke="#222" stroke-width="0.8"/>
<text transform="translate(318.4,194.2) scale(0.88,1)" font-size="6" text-anchor="middle" fill="#4a4a4a">30</text>
<text transform="translate(182.5,201) scale(0.88,1)" font-size="7.5" text-anchor="middle" fill="#000">Time (Days)</text>
<text transform="translate(18.4,115.2) scale(0.88,1) rotate(-90)" font-size="6.6" text-anchor="middle" fill="#000">28-Days  Survival probability</text>
<text transform="translate(51.8,152.8) scale(0.88,1)" font-size="6.3" text-anchor="start" fill="#000">Log rank P &lt;0.001</text>
<text transform="translate(51.8,160.8) scale(0.88,1)" font-size="6.3" text-anchor="start" fill="#000">HR (95%CI): 0.459 (0.295 - 0.713)</text>
<text transform="translate(34.2,214.3) scale(0.88,1)" font-size="8.9" text-anchor="start" fill="#000">Number at risk</text>
<text transform="translate(31.1,227.9) scale(0.88,1)" font-size="5.7" text-anchor="end" fill="#e97a74">High</text>
<text transform="translate(31.1,240.5) scale(0.88,1)" font-size="5.7" text-anchor="end" fill="#00abb2">Low</text>
<text transform="translate(47.3,228.4) scale(0.88,1)" font-size="6.5" text-anchor="middle" fill="#000">389</text>
<text transform="translate(74.5,228.4) scale(0.88,1)" font-size="6.5" text-anchor="middle" fill="#000">366</text>
<text transform="translate(101.7,228.4) scale(0.88,1)" font-size="6.5" text-anchor="middle" fill="#000">354</text>
<text transform="translate(128.9,228.4) scale(0.88,1)" font-size="6.5" text-anchor="middle" fill="#000">346</text>
<text transform="translate(156.1,228.4) scale(0.88,1)" font-size="6.5" text-anchor="middle" fill="#000">342</text>
<text transform="translate(183.3,228.4) scale(0.88,1)" font-size="6.5" text-anchor="middle" fill="#000">336</text>
<text transform="translate(210.6,228.4) scale(0.88,1)" font-size="6.5" text-anchor="middle" fill="#000">331</text>
<text transform="translate(237.8,228.4) scale(0.88,1)" font-size="6.5" text-anchor="middle" fill="#000">330</text>
<text transform="translate(265,228.4) scale(0.88,1)" font-size="6.5" text-anchor="middle" fill="#000">328</text>
<text transform="translate(292.2,228.4) scale(0.88,1)" font-size="6.5" text-anchor="middle" fill="#000">327</text>
<text transform="translate(319.4,228.4) scale(0.88,1)" font-size="6.5" text-anchor="middle" fill="#000">0</text>
<text transform="translate(47.3,241) scale(0.88,1)" font-size="6.5" text-anchor="middle" fill="#000">380</text>
<text transform="translate(74.5,241) scale(0.88,1)" font-size="6.5" text-anchor="middle" fill="#000">370</text>
<text transform="translate(101.7,241) scale(0.88,1)" font-size="6.5" text-anchor="middle" fill="#000">363</text>
<text transform="translate(128.9,241) scale(0.88,1)" font-size="6.5" text-anchor="middle" fill="#000">359</text>
<text transform="translate(156.1,241) scale(0.88,1)" font-size="6.5" text-anchor="middle" fill="#000">356</text>
<text transform="translate(183.3,241) scale(0.88,1)" font-size="6.5" text-anchor="middle" fill="#000">356</text>
<text transform="translate(210.6,241) scale(0.88,1)" font-size="6.5" text-anchor="middle" fill="#000">353</text>
<text transform="translate(237.8,241) scale(0.88,1)" font-size="6.5" text-anchor="middle" fill="#000">352</text>
<text transform="translate(265,241) scale(0.88,1)" font-size="6.5" text-anchor="middle" fill="#000">351</text>
<text transform="translate(292.2,241) scale(0.88,1)" font-size="6.5" text-anchor="middle" fill="#000">351</text>
<text transform="translate(319.4,241) scale(0.88,1)" font-size="6.5" text-anchor="middle" fill="#000">0</text>
<text transform="translate(348.5,19) scale(0.88,1)" font-size="26.3" fill="#000">D</text>
<text transform="translate(501.9,33.7) scale(0.88,1)" font-size="7.8" text-anchor="start" fill="#000">RAR</text>
<rect x="519.5" y="28.7" width="5" height="4.8" fill="#f6cfcf"/>
<line x1="519.5" y1="31.1" x2="524.5" y2="31.1" stroke="#e97a74" stroke-width="0.9"/>
<text transform="translate(527.9,33) scale(0.88,1)" font-size="5.9" text-anchor="start" fill="#000">High</text>
<rect x="541.4" y="28.7" width="5" height="4.8" fill="#b0dcdf"/>
<line x1="541.4" y1="31.1" x2="546.4" y2="31.1" stroke="#00abb2" stroke-width="0.9"/>
<text transform="translate(550.1,33) scale(0.88,1)" font-size="5.9" text-anchor="start" fill="#000">Low</text>
<path d="M395.1,50.1 L396.8,50.1 L396.8,50.8 L398.5,50.8 L398.5,51.5 L400.2,51.5 L400.2,52.2 L401.9,52.2 L401.9,53 L403.6,53 L403.6,53.9 L405.3,53.9 L405.3,54.7 L407,54.7 L407,56.2 L408.7,56.2 L408.7,57.8 L410.4,57.8 L410.4,59.3 L412.1,59.3 L412.1,60.1 L413.8,60.1 L413.8,60.8 L415.5,60.8 L415.5,61.6 L417.3,61.6 L417.3,62.4 L419,62.4 L419,63.1 L420.7,63.1 L420.7,63.9 L422.4,63.9 L422.4,64.6 L424.1,64.6 L424.1,65.3 L425.8,65.3 L425.8,66 L427.5,66 L427.5,66.6 L429.2,66.6 L429.2,67.3 L430.9,67.3 L430.9,68 L432.6,68 L432.6,68.5 L434.3,68.5 L434.3,69 L436,69 L436,69.5 L437.7,69.5 L437.7,70.1 L439.4,70.1 L439.4,70.6 L441.1,70.6 L441.1,71.1 L442.8,71.1 L442.8,71.5 L444.5,71.5 L444.5,71.9 L446.2,71.9 L446.2,72.3 L447.9,72.3 L447.9,72.8 L449.6,72.8 L449.6,73.2 L451.3,73.2 L451.3,73.6 L453.1,73.6 L453.1,74.2 L455,74.2 L455,74.7 L456.9,74.7 L456.9,75.3 L458.7,75.3 L458.7,75.8 L460.6,75.8 L460.6,76.4 L462.5,76.4 L462.5,77 L464.4,77 L464.4,77.6 L466.2,77.6 L466.2,78.1 L468.1,78.1 L468.1,78.7 L470,78.7 L470,79.3 L471.9,79.3 L471.9,80 L473.8,80 L473.8,80.6 L475.6,80.6 L475.6,81.3 L477.5,81.3 L477.5,81.9 L479.4,81.9 L479.4,82.6 L481.3,82.6 L481.3,83.2 L483.2,83.2 L483.2,83.7 L485,83.7 L485,84.1 L486.9,84.1 L486.9,84.6 L488.8,84.6 L488.8,85.1 L490.7,85.1 L490.7,85.6 L492.5,85.6 L492.5,86 L494.4,86 L494.4,86.5 L496.3,86.5 L496.3,87 L498.2,87 L498.2,87.4 L500.1,87.4 L500.1,87.9 L501.9,87.9 L501.9,88.4 L503.8,88.4 L503.8,88.9 L505.7,88.9 L505.7,89.3 L507.6,89.3 L507.6,89.8 L509.5,89.8 L509.5,90.2 L511.3,90.2 L511.3,90.5 L513.2,90.5 L513.2,90.9 L515.1,90.9 L515.1,91.3 L517,91.3 L517,91.7 L518.8,91.7 L518.8,92 L520.7,92 L520.7,92.4 L522.5,92.4 L522.5,92.6 L524.2,92.6 L524.2,92.7 L526,92.7 L526,92.9 L527.7,92.9 L527.7,93.1 L529.5,93.1 L529.5,93.3 L531.2,93.3 L531.2,93.4 L533,93.4 L533,93.6 L534.7,93.6 L534.7,93.8 L536.5,93.8 L536.5,94 L538.2,94 L538.2,94.1 L540,94.1 L540,94.3 L541.8,94.3 L541.8,94.5 L543.6,94.5 L543.6,94.7 L545.5,94.7 L545.5,95 L547.3,95 L547.3,95.2 L549.1,95.2 L549.1,95.4 L550.9,95.4 L550.9,95.6 L552.7,95.6 L552.7,95.8 L554.5,95.8 L554.5,96 L556.4,96 L556.4,96.3 L558.2,96.3 L558.2,96.5 L560,96.5 L560,96.7 L576.8,96.7 L576.8,97.8 L605.3,97.8 L605.3,100.3 L620.1,100.3 L620.1,104 L639.6,104 L639.6,106.2 L655.9,106.2 L655.9,130.8 L639.8,130.8 L639.8,127.5 L620.3,127.5 L620.3,121.7 L606.6,121.7 L606.6,115.7 L585.6,115.7 L585.6,115.3 L583.9,115.3 L583.9,114.8 L582.2,114.8 L582.2,114.4 L580.4,114.4 L580.4,113.9 L578.7,113.9 L578.7,113.5 L577,113.5 L577,113.4 L575.1,113.4 L575.1,113.4 L573.2,113.4 L573.2,113.3 L571.4,113.3 L571.4,113.3 L569.5,113.3 L569.5,113.2 L567.6,113.2 L567.6,113.1 L565.7,113.1 L565.7,113.1 L563.8,113.1 L563.8,113 L562,113 L562,113 L560.1,113 L560.1,112.9 L558.2,112.9 L558.2,112.6 L556.4,112.6 L556.4,112.4 L554.6,112.4 L554.6,112.1 L552.7,112.1 L552.7,111.8 L550.9,111.8 L550.9,111.6 L549.1,111.6 L549.1,111.3 L547.3,111.3 L547.3,111 L545.5,111 L545.5,110.7 L543.6,110.7 L543.6,110.5 L541.8,110.5 L541.8,110.2 L540,110.2 L527.3,110.2 L527.3,109.5 L525.6,109.5 L525.6,108.9 L524,108.9 L524,108.2 L522.4,108.2 L522.4,107.6 L520.7,107.6 L520.7,107.1 L518.8,107.1 L518.8,106.7 L517,106.7 L517,106.2 L515.1,106.2 L515.1,105.7 L513.2,105.7 L513.2,105.2 L511.3,105.2 L511.3,104.8 L509.5,104.8 L509.5,104.3 L507.6,104.3 L507.6,103.7 L505.7,103.7 L505.7,103.2 L503.8,103.2 L503.8,102.6 L501.9,102.6 L501.9,102 L500.1,102 L500.1,101.4 L498.2,101.4 L498.2,100.9 L496.3,100.9 L496.3,100.3 L494.4,100.3 L494.4,99.8 L492.5,99.8 L492.5,99.4 L490.7,99.4 L490.7,98.9 L488.8,98.9 L488.8,98.4 L486.9,98.4 L486.9,97.9 L485,97.9 L485,97.5 L483.2,97.5 L483.2,97 L481.3,97 L481.3,96.3 L479.4,96.3 L479.4,95.5 L477.5,95.5 L477.5,94.8 L475.6,94.8 L475.6,94 L473.8,94 L473.8,93.3 L471.9,93.3 L471.9,92.5 L470,92.5 L470,91.8 L468.1,91.8 L468.1,91 L466.2,91 L466.2,90.3 L464.4,90.3 L464.4,89.5 L462.5,89.5 L462.5,88.8 L460.6,88.8 L460.6,88 L458.7,88 L458.7,87.3 L456.9,87.3 L456.9,86.5 L455,86.5 L455,85.7 L453.1,85.7 L453.1,84.9 L451.3,84.9 L451.3,84.1 L449.6,84.1 L449.6,83.4 L447.9,83.4 L447.9,82.6 L446.2,82.6 L446.2,81.8 L444.5,81.8 L444.5,81.1 L442.8,81.1 L442.8,80.3 L441.1,80.3 L441.1,79.7 L439.4,79.7 L439.4,79.1 L437.7,79.1 L437.7,78.5 L436,78.5 L436,77.9 L434.3,77.9 L434.3,77.3 L432.6,77.3 L432.6,76.7 L430.9,76.7 L430.9,75.9 L429.2,75.9 L429.2,75.2 L427.5,75.2 L427.5,74.4 L425.8,74.4 L425.8,73.6 L424.1,73.6 L424.1,72.9 L422.4,72.9 L422.4,72.1 L420.7,72.1 L420.7,71.4 L419,71.4 L419,70.7 L417.3,70.7 L417.3,70 L415.5,70 L415.5,69.4 L413.8,69.4 L413.8,68.7 L412.1,68.7 L412.1,68 L410.4,68 L410.4,65.4 L408.7,65.4 L408.7,62.9 L407,62.9 L407,60.3 L405.3,60.3 L405.3,58.4 L403.6,58.4 L403.6,56.6 L401.9,56.6 L401.9,54.7 L400.2,54.7 L400.2,53.2 L398.5,53.2 L398.5,51.6 L396.8,51.6 L396.8,50.1 L395.1,50.1 Z" fill="#f6cfcf"/>
<path d="M395.1,50.1 L396.8,50.1 L396.8,50.5 L398.5,50.5 L398.5,50.8 L400.2,50.8 L400.2,51.2 L401.9,51.2 L401.9,51.5 L403.6,51.5 L403.6,51.9 L405.3,51.9 L405.3,52.2 L407,52.2 L407,52.6 L408.7,52.6 L408.7,53 L410.4,53 L410.4,53.5 L412.1,53.5 L412.1,53.9 L413.8,53.9 L413.8,54.3 L415.5,54.3 L415.5,54.7 L417.2,54.7 L417.2,55.1 L418.9,55.1 L418.9,55.4 L420.6,55.4 L420.6,55.8 L422.4,55.8 L422.4,56.1 L424.1,56.1 L424.1,56.4 L425.8,56.4 L425.8,56.8 L427.5,56.8 L427.5,57 L429.2,57 L429.2,57.3 L430.9,57.3 L430.9,57.5 L432.6,57.5 L432.6,57.8 L434.3,57.8 L434.3,58 L436,58 L436,58.3 L437.7,58.3 L437.7,58.6 L439.4,58.6 L439.4,59 L441.1,59 L441.1,59.3 L442.8,59.3 L442.8,59.6 L444.5,59.6 L444.5,60 L446.2,60 L446.2,60.3 L448,60.3 L448,60.4 L449.7,60.4 L449.7,60.5 L451.5,60.5 L451.5,60.7 L453.2,60.7 L453.2,60.8 L455,60.8 L455,60.9 L456.7,60.9 L456.7,61.2 L458.4,61.2 L458.4,61.5 L460.1,61.5 L460.1,61.8 L461.7,61.8 L461.7,62 L463.4,62 L463.4,62.3 L465.1,62.3 L465.1,62.6 L466.8,62.6 L466.8,62.9 L468.7,62.9 L468.7,63.6 L470.6,63.6 L470.6,64.4 L472.5,64.4 L472.5,65.1 L474.3,65.1 L474.3,65.9 L476.2,65.9 L476.2,66.6 L478.1,66.6 L478.1,67.4 L480,67.4 L480,68.1 L481.8,68.1 L481.8,68.3 L483.7,68.3 L483.7,68.4 L485.5,68.4 L485.5,68.6 L487.4,68.6 L487.4,68.7 L489.2,68.7 L489.2,68.9 L491,68.9 L491,69.1 L492.9,69.1 L492.9,69.2 L494.7,69.2 L494.7,69.4 L496.6,69.4 L496.6,69.5 L498.4,69.5 L498.4,69.7 L500.2,69.7 L500.2,69.9 L502.1,69.9 L502.1,70 L503.9,70 L503.9,70.2 L505.8,70.2 L505.8,70.3 L507.6,70.3 L507.6,70.5 L509.4,70.5 L509.4,70.6 L511.2,70.6 L511.2,70.7 L513,70.7 L513,70.7 L514.8,70.7 L514.8,70.8 L516.6,70.8 L516.6,70.9 L518.4,70.9 L518.4,71 L520.2,71 L520.2,71 L522,71 L522,71.1 L523.8,71.1 L523.8,71.2 L525.6,71.2 L525.6,71.3 L527.4,71.3 L527.4,71.4 L529.2,71.4 L529.2,71.4 L531,71.4 L531,71.5 L532.8,71.5 L532.8,71.6 L534.6,71.6 L534.6,71.7 L536.4,71.7 L536.4,71.7 L538.2,71.7 L538.2,71.8 L540,71.8 L540,71.9 L553.7,71.9 L553.7,73.1 L565.5,73.1 L565.5,73.7 L585.6,73.7 L585.6,76.1 L605.3,76.1 L605.3,77.3 L641.3,77.3 L641.3,78.2 L652.8,78.2 L652.8,119.3 L641.5,119.3 L641.5,105.3 L620.1,105.3 L620.1,104 L605.3,104 L605.3,100.3 L586.3,100.3 L586.3,96 L565.8,96 L565.8,90.8 L553.7,90.8 L553.7,87.4 L540,87.4 L540,87.2 L538.2,87.2 L538.2,87 L536.4,87 L536.4,86.8 L534.6,86.8 L534.6,86.6 L532.8,86.6 L532.8,86.4 L531,86.4 L531,86.2 L529.2,86.2 L529.2,86 L527.4,86 L527.4,85.8 L525.6,85.8 L525.6,85.7 L523.8,85.7 L523.8,85.5 L522,85.5 L522,85.3 L520.2,85.3 L520.2,85.1 L518.4,85.1 L518.4,84.9 L516.6,84.9 L516.6,84.7 L514.8,84.7 L514.8,84.5 L513,84.5 L513,84.3 L511.2,84.3 L511.2,84.1 L509.4,84.1 L509.4,83.9 L507.6,83.9 L507.6,83.6 L505.9,83.6 L505.9,83.4 L504.2,83.4 L504.2,83.1 L502.5,83.1 L502.5,82.9 L500.8,82.9 L500.8,82.6 L499.1,82.6 L499.1,82.3 L497.3,82.3 L497.3,82.1 L495.6,82.1 L495.6,81.8 L493.9,81.8 L493.9,81.6 L492.2,81.6 L492.2,81.3 L490.5,81.3 L490.5,81.1 L488.8,81.1 L488.8,80.9 L487,80.9 L487,80.7 L485.2,80.7 L485.2,80.4 L483.5,80.4 L483.5,80.2 L481.8,80.2 L481.8,80 L480,80 L480,79 L478.3,79 L478.3,77.9 L476.6,77.9 L476.6,76.9 L474.9,76.9 L474.9,75.8 L473.2,75.8 L473.2,74.8 L471.5,74.8 L471.5,73.7 L469.8,73.7 L469.8,72.7 L468.1,72.7 L468.1,72.1 L466.2,72.1 L466.2,71.6 L464.4,71.6 L464.4,71 L462.5,71 L462.5,70.5 L460.6,70.5 L460.6,69.9 L458.7,69.9 L458.7,69.4 L456.9,69.4 L456.9,68.8 L455,68.8 L455,68.5 L453.2,68.5 L453.2,68.3 L451.5,68.3 L451.5,68 L449.7,68 L449.7,67.8 L448,67.8 L448,67.5 L446.2,67.5 L446.2,67 L444.5,67 L444.5,66.5 L442.8,66.5 L442.8,66 L441.1,66 L441.1,65.4 L439.4,65.4 L439.4,64.9 L437.7,64.9 L437.7,64.4 L436,64.4 L436,64.1 L434.3,64.1 L434.3,63.7 L432.6,63.7 L432.6,63.4 L430.9,63.4 L430.9,63.1 L429.2,63.1 L429.2,62.7 L427.5,62.7 L427.5,62.4 L425.8,62.4 L425.8,61.9 L424.1,61.9 L424.1,61.4 L422.4,61.4 L422.4,60.8 L420.6,60.8 L420.6,60.3 L418.9,60.3 L418.9,59.8 L417.2,59.8 L417.2,59.3 L415.5,59.3 L415.5,58.7 L413.8,58.7 L413.8,58.1 L412.1,58.1 L412.1,57.5 L410.4,57.5 L410.4,56.9 L408.7,56.9 L408.7,56.3 L407,56.3 L407,55.7 L405.3,55.7 L405.3,54.8 L403.6,54.8 L403.6,53.8 L401.9,53.8 L401.9,52.9 L400.2,52.9 L400.2,52 L398.5,52 L398.5,51 L396.8,51 L396.8,50.1 L395.1,50.1 Z" fill="#b0dcdf"/>
<path d="M395.1,50.1 L396.8,50.1 L396.8,50.5 L398.5,50.5 L398.5,50.8 L400.2,50.8 L400.2,51.2 L401.9,51.2 L401.9,51.5 L403.6,51.5 L403.6,51.9 L405.3,51.9 L405.3,52.2 L407,52.2 L407,52.6 L408.7,52.6 L408.7,53 L410.4,53 L410.4,53.5 L412.1,53.5 L412.1,53.9 L413.8,53.9 L413.8,54.3 L415.5,54.3 L415.5,54.7 L417.2,54.7 L417.2,55.1 L418.9,55.1 L418.9,55.4 L420.6,55.4 L420.6,55.8 L422.4,55.8 L422.4,56.1 L424.1,56.1 L424.1,56.4 L425.8,56.4 L425.8,56.8 L427.5,56.8 L427.5,57 L429.2,57 L429.2,57.3 L430.9,57.3 L430.9,57.5 L432.6,57.5 L432.6,57.8 L434.3,57.8 L434.3,58 L436,58 L436,58.3 L437.7,58.3 L437.7,58.6 L439.4,58.6 L439.4,59 L441.1,59 L441.1,59.3 L442.8,59.3 L442.8,59.6 L444.5,59.6 L444.5,60 L446.2,60 L446.2,60.3 L448,60.3 L448,60.4 L449.7,60.4 L449.7,60.5 L451.5,60.5 L451.5,60.7 L453.2,60.7 L453.2,60.8 L455,60.8 L455,60.9 L456.7,60.9 L456.7,61.2 L458.4,61.2 L458.4,61.5 L460.1,61.5 L460.1,61.8 L461.7,61.8 L461.7,62 L463.4,62 L463.4,62.3 L465.1,62.3 L465.1,62.6 L466.8,62.6 L466.8,62.9 L468.7,62.9 L468.7,63.6 L470.6,63.6 L470.6,64.4 L472.5,64.4 L472.5,65.1 L474.3,65.1 L474.3,65.9 L476.2,65.9 L476.2,66.6 L478.1,66.6 L478.1,67.4 L480,67.4 L480,68.1 L481.8,68.1 L481.8,68.3 L483.7,68.3 L483.7,68.4 L485.5,68.4 L485.5,68.6 L487.4,68.6 L487.4,68.7 L489.2,68.7 L489.2,68.9 L491,68.9 L491,69.1 L492.9,69.1 L492.9,69.2 L494.7,69.2 L494.7,69.4 L496.6,69.4 L496.6,69.5 L498.4,69.5 L498.4,69.7 L500.2,69.7 L500.2,69.9 L502.1,69.9 L502.1,70 L503.9,70 L503.9,70.2 L505.8,70.2 L505.8,70.3 L507.6,70.3 L507.6,70.5 L509.4,70.5 L509.4,70.6 L511.2,70.6 L511.2,70.7 L513,70.7 L513,70.7 L514.8,70.7 L514.8,70.8 L516.6,70.8 L516.6,70.9 L518.4,70.9 L518.4,71 L520.2,71 L520.2,71 L522,71 L522,71.1 L523.8,71.1 L523.8,71.2 L525.6,71.2 L525.6,71.3 L527.4,71.3 L527.4,71.4 L529.2,71.4 L529.2,71.4 L531,71.4 L531,71.5 L532.8,71.5 L532.8,71.6 L534.6,71.6 L534.6,71.7 L536.4,71.7 L536.4,71.7 L538.2,71.7 L538.2,71.8 L540,71.8 L540,71.9 L553.7,71.9 L553.7,73.1 L565.5,73.1 L565.5,73.7 L585.6,73.7 L585.6,76.1 L605.3,76.1 L605.3,77.3 L641.3,77.3 L641.3,78.2 L652.8,78.2 L652.8,119.3 L641.5,119.3 L641.5,105.3 L620.1,105.3 L620.1,104 L605.3,104 L605.3,100.3 L586.3,100.3 L586.3,96 L565.8,96 L565.8,90.8 L553.7,90.8 L553.7,87.4 L540,87.4 L540,87.2 L538.2,87.2 L538.2,87 L536.4,87 L536.4,86.8 L534.6,86.8 L534.6,86.6 L532.8,86.6 L532.8,86.4 L531,86.4 L531,86.2 L529.2,86.2 L529.2,86 L527.4,86 L527.4,85.8 L525.6,85.8 L525.6,85.7 L523.8,85.7 L523.8,85.5 L522,85.5 L522,85.3 L520.2,85.3 L520.2,85.1 L518.4,85.1 L518.4,84.9 L516.6,84.9 L516.6,84.7 L514.8,84.7 L514.8,84.5 L513,84.5 L513,84.3 L511.2,84.3 L511.2,84.1 L509.4,84.1 L509.4,83.9 L507.6,83.9 L507.6,83.6 L505.9,83.6 L505.9,83.4 L504.2,83.4 L504.2,83.1 L502.5,83.1 L502.5,82.9 L500.8,82.9 L500.8,82.6 L499.1,82.6 L499.1,82.3 L497.3,82.3 L497.3,82.1 L495.6,82.1 L495.6,81.8 L493.9,81.8 L493.9,81.6 L492.2,81.6 L492.2,81.3 L490.5,81.3 L490.5,81.1 L488.8,81.1 L488.8,80.9 L487,80.9 L487,80.7 L485.2,80.7 L485.2,80.4 L483.5,80.4 L483.5,80.2 L481.8,80.2 L481.8,80 L480,80 L480,79 L478.3,79 L478.3,77.9 L476.6,77.9 L476.6,76.9 L474.9,76.9 L474.9,75.8 L473.2,75.8 L473.2,74.8 L471.5,74.8 L471.5,73.7 L469.8,73.7 L469.8,72.7 L468.1,72.7 L468.1,72.1 L466.2,72.1 L466.2,71.6 L464.4,71.6 L464.4,71 L462.5,71 L462.5,70.5 L460.6,70.5 L460.6,69.9 L458.7,69.9 L458.7,69.4 L456.9,69.4 L456.9,68.8 L455,68.8 L455,68.5 L453.2,68.5 L453.2,68.3 L451.5,68.3 L451.5,68 L449.7,68 L449.7,67.8 L448,67.8 L448,67.5 L446.2,67.5 L446.2,67 L444.5,67 L444.5,66.5 L442.8,66.5 L442.8,66 L441.1,66 L441.1,65.4 L439.4,65.4 L439.4,64.9 L437.7,64.9 L437.7,64.4 L436,64.4 L436,64.1 L434.3,64.1 L434.3,63.7 L432.6,63.7 L432.6,63.4 L430.9,63.4 L430.9,63.1 L429.2,63.1 L429.2,62.7 L427.5,62.7 L427.5,62.4 L425.8,62.4 L425.8,61.9 L424.1,61.9 L424.1,61.4 L422.4,61.4 L422.4,60.8 L420.6,60.8 L420.6,60.3 L418.9,60.3 L418.9,59.8 L417.2,59.8 L417.2,59.3 L415.5,59.3 L415.5,58.7 L413.8,58.7 L413.8,58.1 L412.1,58.1 L412.1,57.5 L410.4,57.5 L410.4,56.9 L408.7,56.9 L408.7,56.3 L407,56.3 L407,55.7 L405.3,55.7 L405.3,54.8 L403.6,54.8 L403.6,53.8 L401.9,53.8 L401.9,52.9 L400.2,52.9 L400.2,52 L398.5,52 L398.5,51 L396.8,51 L396.8,50.1 L395.1,50.1 Z" fill="#b4c9cb" clip-path="url(#cr3)"/>
<path d="M394.2,115.2 L620.3,115.2 L620.3,180.6" fill="none" stroke="#262626" stroke-width="0.8" stroke-dasharray="1.6,1.8"/>
<path d="M395.1,50.1 L396.8,50.1 L396.8,51.1 L398.5,51.1 L398.5,52.2 L400.2,52.2 L400.2,53.2 L401.9,53.2 L401.9,54.6 L403.6,54.6 L403.6,55.9 L405.3,55.9 L405.3,57.3 L407,57.3 L407,59.3 L408.7,59.3 L408.7,61.4 L410.4,61.4 L410.4,63.4 L412.1,63.4 L412.1,64.4 L413.8,64.4 L413.8,65.5 L415.5,65.5 L415.5,66.5 L417,66.5 L417,66.9 L418.4,66.9 L418.4,67.4 L419.9,67.4 L419.9,67.8 L421.4,67.8 L421.4,68.2 L422.9,68.2 L422.9,68.6 L424.3,68.6 L424.3,69.1 L425.8,69.1 L425.8,69.5 L427.5,69.5 L427.5,70.4 L429.2,70.4 L429.2,71.2 L430.9,71.2 L430.9,72.1 L432.4,72.1 L432.4,72.5 L433.8,72.5 L433.8,73 L435.3,73 L435.3,73.4 L436.7,73.4 L436.7,73.8 L438.2,73.8 L438.2,74.2 L439.6,74.2 L439.6,74.7 L441.1,74.7 L441.1,75.1 L442.6,75.1 L442.6,75.8 L444,75.8 L444,76.4 L445.5,76.4 L445.5,77.1 L446.9,77.1 L446.9,77.7 L448.4,77.7 L448.4,78.4 L449.8,78.4 L449.8,79 L451.3,79 L451.3,79.7 L453.1,79.7 L453.1,80.2 L455,80.2 L455,80.6 L456.5,80.6 L456.5,81.1 L457.9,81.1 L457.9,81.6 L459.4,81.6 L459.4,82.1 L460.8,82.1 L460.8,82.6 L462.3,82.6 L462.3,83.2 L463.7,83.2 L463.7,83.7 L465.2,83.7 L465.2,84.2 L466.6,84.2 L466.6,84.7 L468.1,84.7 L468.1,85.2 L469.7,85.2 L469.7,86 L471.3,86 L471.3,86.8 L472.8,86.8 L472.8,87.6 L474.4,87.6 L474.4,88.4 L476,88.4 L476,89.2 L477.5,89.2 L477.5,89.4 L479,89.4 L479,89.6 L480.5,89.6 L480.5,89.8 L482,89.8 L482,89.9 L483.5,89.9 L483.5,90.1 L485,90.1 L485,90.3 L486.5,90.3 L486.5,90.5 L488,90.5 L488,91 L489.5,91 L489.5,91.4 L491,91.4 L491,91.9 L492.5,91.9 L492.5,92.4 L494,92.4 L494,92.9 L495.5,92.9 L495.5,93.3 L497,93.3 L497,93.8 L498.5,93.8 L498.5,94.2 L500,94.2 L500,94.5 L501.5,94.5 L501.5,94.9 L503.1,94.9 L503.1,95.3 L504.6,95.3 L504.6,95.7 L506.1,95.7 L506.1,96 L507.6,96 L507.6,96.4 L509.1,96.4 L509.1,96.7 L510.6,96.7 L510.6,97 L512.1,97 L512.1,97.3 L513.6,97.3 L513.6,97.5 L515.1,97.5 L515.1,97.8 L516.6,97.8 L516.6,98.1 L518.1,98.1 L518.1,98.4 L519.6,98.4 L519.6,99.1 L521.2,99.1 L521.2,99.7 L522.7,99.7 L522.7,100.3 L524.2,100.3 L524.2,101 L525.8,101 L525.8,101.7 L527.3,101.7 L527.3,102.3 L528.9,102.3 L528.9,102.4 L530.5,102.4 L530.5,102.5 L532.1,102.5 L532.1,102.5 L533.6,102.5 L533.6,102.6 L535.2,102.6 L535.2,102.7 L536.8,102.7 L536.8,102.8 L538.4,102.8 L538.4,102.8 L540,102.8 L540,102.9 L541.4,102.9 L541.4,103.1 L542.8,103.1 L542.8,103.3 L544.1,103.3 L544.1,103.6 L545.5,103.6 L545.5,103.8 L547.1,103.8 L547.1,104.1 L548.6,104.1 L548.6,104.3 L550.2,104.3 L550.2,104.6 L551.7,104.6 L551.7,104.8 L553.3,104.8 L553.3,105.1 L554.8,105.1 L554.8,105.3 L556.4,105.3 L556.4,105.6 L557.9,105.6 L557.9,105.7 L559.5,105.7 L559.5,105.8 L561,105.8 L561,105.9 L562.6,105.9 L562.6,106.1 L564.1,106.1 L564.1,106.2 L565.7,106.2 L565.7,106.3 L567.2,106.3 L567.2,106.4 L568.8,106.4 L568.8,106.5 L570.3,106.5 L570.3,106.6 L571.9,106.6 L571.9,106.8 L573.4,106.8 L573.4,106.9 L575,106.9 L575,107 L576.5,107 L576.5,107.1 L606.6,107.1 L606.6,112 L620.3,112 L620.3,116.9 L639.8,116.9 L639.8,119.9 L655.9,119.9" fill="none" stroke="#e97a74" stroke-width="1.25"/>
<path d="M395.1,50.1 L396.8,50.1 L396.8,51.1 L398.5,51.1 L398.5,52.2 L400.2,52.2 L400.2,53.2 L401.9,53.2 L401.9,54.6 L403.6,54.6 L403.6,55.9 L405.3,55.9 L405.3,57.3 L407,57.3 L407,59.3 L408.7,59.3 L408.7,61.4 L410.4,61.4 L410.4,63.4 L412.1,63.4 L412.1,64.4 L413.8,64.4 L413.8,65.5 L415.5,65.5 L415.5,66.5 L417,66.5 L417,66.9 L418.4,66.9 L418.4,67.4 L419.9,67.4 L419.9,67.8 L421.4,67.8 L421.4,68.2 L422.9,68.2 L422.9,68.6 L424.3,68.6 L424.3,69.1 L425.8,69.1 L425.8,69.5 L427.5,69.5 L427.5,70.4 L429.2,70.4 L429.2,71.2 L430.9,71.2 L430.9,72.1 L432.4,72.1 L432.4,72.5 L433.8,72.5 L433.8,73 L435.3,73 L435.3,73.4 L436.7,73.4 L436.7,73.8 L438.2,73.8 L438.2,74.2 L439.6,74.2 L439.6,74.7 L441.1,74.7 L441.1,75.1 L442.6,75.1 L442.6,75.8 L444,75.8 L444,76.4 L445.5,76.4 L445.5,77.1 L446.9,77.1 L446.9,77.7 L448.4,77.7 L448.4,78.4 L449.8,78.4 L449.8,79 L451.3,79 L451.3,79.7 L453.1,79.7 L453.1,80.2 L455,80.2 L455,80.6 L456.5,80.6 L456.5,81.1 L457.9,81.1 L457.9,81.6 L459.4,81.6 L459.4,82.1 L460.8,82.1 L460.8,82.6 L462.3,82.6 L462.3,83.2 L463.7,83.2 L463.7,83.7 L465.2,83.7 L465.2,84.2 L466.6,84.2 L466.6,84.7 L468.1,84.7 L468.1,85.2 L469.7,85.2 L469.7,86 L471.3,86 L471.3,86.8 L472.8,86.8 L472.8,87.6 L474.4,87.6 L474.4,88.4 L476,88.4 L476,89.2 L477.5,89.2 L477.5,89.4 L479,89.4 L479,89.6 L480.5,89.6 L480.5,89.8 L482,89.8 L482,89.9 L483.5,89.9 L483.5,90.1 L485,90.1 L485,90.3 L486.5,90.3 L486.5,90.5 L488,90.5 L488,91 L489.5,91 L489.5,91.4 L491,91.4 L491,91.9 L492.5,91.9 L492.5,92.4 L494,92.4 L494,92.9 L495.5,92.9 L495.5,93.3 L497,93.3 L497,93.8 L498.5,93.8 L498.5,94.2 L500,94.2 L500,94.5 L501.5,94.5 L501.5,94.9 L503.1,94.9 L503.1,95.3 L504.6,95.3 L504.6,95.7 L506.1,95.7 L506.1,96 L507.6,96 L507.6,96.4 L509.1,96.4 L509.1,96.7 L510.6,96.7 L510.6,97 L512.1,97 L512.1,97.3 L513.6,97.3 L513.6,97.5 L515.1,97.5 L515.1,97.8 L516.6,97.8 L516.6,98.1 L518.1,98.1 L518.1,98.4 L519.6,98.4 L519.6,99.1 L521.2,99.1 L521.2,99.7 L522.7,99.7 L522.7,100.3 L524.2,100.3 L524.2,101 L525.8,101 L525.8,101.7 L527.3,101.7 L527.3,102.3 L528.9,102.3 L528.9,102.4 L530.5,102.4 L530.5,102.5 L532.1,102.5 L532.1,102.5 L533.6,102.5 L533.6,102.6 L535.2,102.6 L535.2,102.7 L536.8,102.7 L536.8,102.8 L538.4,102.8 L538.4,102.8 L540,102.8 L540,102.9 L541.4,102.9 L541.4,103.1 L542.8,103.1 L542.8,103.3 L544.1,103.3 L544.1,103.6 L545.5,103.6 L545.5,103.8 L547.1,103.8 L547.1,104.1 L548.6,104.1 L548.6,104.3 L550.2,104.3 L550.2,104.6 L551.7,104.6 L551.7,104.8 L553.3,104.8 L553.3,105.1 L554.8,105.1 L554.8,105.3 L556.4,105.3 L556.4,105.6 L557.9,105.6 L557.9,105.7 L559.5,105.7 L559.5,105.8 L561,105.8 L561,105.9 L562.6,105.9 L562.6,106.1 L564.1,106.1 L564.1,106.2 L565.7,106.2 L565.7,106.3 L567.2,106.3 L567.2,106.4 L568.8,106.4 L568.8,106.5 L570.3,106.5 L570.3,106.6 L571.9,106.6 L571.9,106.8 L573.4,106.8 L573.4,106.9 L575,106.9 L575,107 L576.5,107 L576.5,107.1 L606.6,107.1 L606.6,112 L620.3,112 L620.3,116.9 L639.8,116.9 L639.8,119.9 L655.9,119.9" fill="none" stroke="#c48a84" stroke-width="1.25" clip-path="url(#ct4)"/>
<path d="M405.8,56 V58.5 M404.9,57.3 H406.7" stroke="#e97a74" stroke-width="0.7" fill="none"/>
<path d="M410,60.1 V62.6 M409.1,61.4 H410.9" stroke="#e97a74" stroke-width="0.7" fill="none"/>
<path d="M415.5,65.2 V67.8 M414.6,66.5 H416.4" stroke="#e97a74" stroke-width="0.7" fill="none"/>
<path d="M430.1,70 V72.5 M429.2,71.2 H431" stroke="#e97a74" stroke-width="0.7" fill="none"/>
<path d="M438.8,73 V75.5 M437.9,74.2 H439.7" stroke="#e97a74" stroke-width="0.7" fill="none"/>
<path d="M462.2,81.4 V83.9 M461.3,82.6 H463.1" stroke="#e97a74" stroke-width="0.7" fill="none"/>
<path d="M472.6,85.5 V88 M471.7,86.8 H473.5" stroke="#e97a74" stroke-width="0.7" fill="none"/>
<path d="M473.4,86.4 V88.9 M472.5,87.6 H474.3" stroke="#e97a74" stroke-width="0.7" fill="none"/>
<path d="M476.4,88 V90.5 M475.5,89.2 H477.3" stroke="#e97a74" stroke-width="0.7" fill="none"/>
<path d="M480,88.3 V90.8 M479.1,89.6 H480.9" stroke="#e97a74" stroke-width="0.7" fill="none"/>
<path d="M498.4,92.5 V95 M497.5,93.8 H499.3" stroke="#e97a74" stroke-width="0.7" fill="none"/>
<path d="M506.6,94.8 V97.3 M505.7,96 H507.5" stroke="#e97a74" stroke-width="0.7" fill="none"/>
<path d="M515.6,96.6 V99.1 M514.7,97.8 H516.5" stroke="#e97a74" stroke-width="0.7" fill="none"/>
<path d="M516.3,96.6 V99.1 M515.4,97.8 H517.2" stroke="#e97a74" stroke-width="0.7" fill="none"/>
<path d="M517.7,96.9 V99.4 M516.8,98.1 H518.6" stroke="#e97a74" stroke-width="0.7" fill="none"/>
<path d="M520.9,97.8 V100.3 M520,99.1 H521.8" stroke="#e97a74" stroke-width="0.7" fill="none"/>
<path d="M524.7,99.8 V102.2 M523.8,101 H525.6" stroke="#e97a74" stroke-width="0.7" fill="none"/>
<path d="M533.9,101.3 V103.8 M533,102.6 H534.8" stroke="#e97a74" stroke-width="0.7" fill="none"/>
<path d="M546.1,102.5 V105 M545.2,103.8 H547" stroke="#e97a74" stroke-width="0.7" fill="none"/>
<path d="M546.5,102.5 V105 M545.6,103.8 H547.4" stroke="#e97a74" stroke-width="0.7" fill="none"/>
<path d="M547.9,102.8 V105.3 M547,104.1 H548.8" stroke="#e97a74" stroke-width="0.7" fill="none"/>
<path d="M551.6,103.3 V105.8 M550.7,104.6 H552.5" stroke="#e97a74" stroke-width="0.7" fill="none"/>
<path d="M565,104.9 V107.4 M564.1,106.2 H565.9" stroke="#e97a74" stroke-width="0.7" fill="none"/>
<path d="M569.4,105.3 V107.8 M568.5,106.5 H570.3" stroke="#e97a74" stroke-width="0.7" fill="none"/>
<path d="M570.4,105.4 V107.9 M569.5,106.6 H571.3" stroke="#e97a74" stroke-width="0.7" fill="none"/>
<path d="M570.5,105.4 V107.9 M569.6,106.6 H571.4" stroke="#e97a74" stroke-width="0.7" fill="none"/>
<path d="M577.3,105.8 V108.3 M576.4,107.1 H578.2" stroke="#e97a74" stroke-width="0.7" fill="none"/>
<path d="M578.2,105.8 V108.3 M577.3,107.1 H579.1" stroke="#e97a74" stroke-width="0.7" fill="none"/>
<path d="M578.9,105.8 V108.3 M578,107.1 H579.8" stroke="#e97a74" stroke-width="0.7" fill="none"/>
<path d="M586,105.8 V108.3 M585.1,107.1 H586.9" stroke="#e97a74" stroke-width="0.7" fill="none"/>
<path d="M593.1,105.8 V108.3 M592.2,107.1 H594" stroke="#e97a74" stroke-width="0.7" fill="none"/>
<path d="M595,105.8 V108.3 M594.1,107.1 H595.9" stroke="#e97a74" stroke-width="0.7" fill="none"/>
<path d="M602.6,105.8 V108.3 M601.7,107.1 H603.5" stroke="#e97a74" stroke-width="0.7" fill="none"/>
<path d="M609.6,110.8 V113.2 M608.7,112 H610.5" stroke="#e97a74" stroke-width="0.7" fill="none"/>
<path d="M614.2,110.8 V113.2 M613.3,112 H615.1" stroke="#e97a74" stroke-width="0.7" fill="none"/>
<path d="M623.2,115.7 V118.2 M622.3,116.9 H624.1" stroke="#e97a74" stroke-width="0.7" fill="none"/>
<path d="M623.2,115.7 V118.2 M622.3,116.9 H624.1" stroke="#e97a74" stroke-width="0.7" fill="none"/>
<path d="M640.9,118.7 V121.2 M640,119.9 H641.8" stroke="#e97a74" stroke-width="0.7" fill="none"/>
<path d="M649.9,118.7 V121.2 M649,119.9 H650.8" stroke="#e97a74" stroke-width="0.7" fill="none"/>
<path d="M653.2,118.7 V121.2 M652.3,119.9 H654.1" stroke="#e97a74" stroke-width="0.7" fill="none"/>
<path d="M395.1,50.1 L396.6,50.1 L396.6,50.6 L398,50.6 L398,51.1 L399.5,51.1 L399.5,51.6 L400.9,51.6 L400.9,52.2 L402.4,52.2 L402.4,52.7 L403.8,52.7 L403.8,53.2 L405.3,53.2 L405.3,53.7 L406.8,53.7 L406.8,54.1 L408.2,54.1 L408.2,54.6 L409.7,54.6 L409.7,55 L411.1,55 L411.1,55.5 L412.6,55.5 L412.6,55.9 L414,55.9 L414,56.4 L415.5,56.4 L415.5,56.8 L417,56.8 L417,57.2 L418.4,57.2 L418.4,57.5 L419.9,57.5 L419.9,57.9 L421.4,57.9 L421.4,58.2 L422.9,58.2 L422.9,58.6 L424.3,58.6 L424.3,58.9 L425.8,58.9 L425.8,59.3 L427.3,59.3 L427.3,59.6 L428.7,59.6 L428.7,59.9 L430.2,59.9 L430.2,60.2 L431.6,60.2 L431.6,60.5 L433.1,60.5 L433.1,60.8 L434.5,60.8 L434.5,61.1 L436,61.1 L436,61.4 L437.4,61.4 L437.4,61.8 L438.8,61.8 L438.8,62.2 L440.3,62.2 L440.3,62.6 L441.7,62.6 L441.7,63 L443.1,63 L443.1,63.4 L444.7,63.4 L444.7,63.7 L446.4,63.7 L446.4,64 L448,64 L448,64.3 L449.7,64.3 L449.7,64.6 L451.3,64.6 L451.3,64.9 L455,64.9 L456.5,64.9 L456.5,65.1 L458,65.1 L458,65.3 L459.5,65.3 L459.5,65.5 L461,65.5 L461,65.6 L462.5,65.6 L462.5,65.8 L464,65.8 L464,66 L465.5,66 L465.5,66.2 L466.8,66.2 L466.8,67.3 L468.2,67.3 L468.2,68.4 L469.5,68.4 L469.5,69.5 L471.1,69.5 L471.1,70 L472.6,70 L472.6,70.5 L474.2,70.5 L474.2,71.1 L475.7,71.1 L475.7,71.6 L477.3,71.6 L477.3,72.1 L478.6,72.1 L478.6,73 L480,73 L480,73.8 L481.3,73.8 L481.3,74.7 L482.8,74.7 L482.8,74.8 L484.3,74.8 L484.3,74.9 L485.8,74.9 L485.8,75 L487.4,75 L487.4,75.1 L488.9,75.1 L488.9,75.2 L490.4,75.2 L490.4,75.3 L491.9,75.3 L491.9,75.4 L493.4,75.4 L493.4,75.5 L494.9,75.5 L494.9,75.6 L496.5,75.6 L496.5,75.7 L498,75.7 L498,75.8 L499.5,75.8 L499.5,75.9 L501,75.9 L501,76 L502.6,76 L502.6,76.5 L504.2,76.5 L504.2,77 L505.7,77 L505.7,77.4 L507.3,77.4 L507.3,77.9 L508.9,77.9 L508.9,78.4 L510.4,78.4 L510.4,78.5 L511.9,78.5 L511.9,78.5 L513.3,78.5 L513.3,78.6 L514.8,78.6 L514.8,78.6 L516.3,78.6 L516.3,78.7 L517.8,78.7 L517.8,78.8 L519.3,78.8 L519.3,78.8 L520.7,78.8 L520.7,78.9 L522.2,78.9 L522.2,79 L523.7,79 L523.7,79 L525.2,79 L525.2,79.1 L526.7,79.1 L526.7,79.1 L528.2,79.1 L528.2,79.2 L529.6,79.2 L529.6,79.3 L531.1,79.3 L531.1,79.3 L532.6,79.3 L532.6,79.4 L534.1,79.4 L534.1,79.5 L535.6,79.5 L535.6,79.5 L537,79.5 L537,79.6 L538.5,79.6 L538.5,79.6 L540,79.6 L540,79.7 L554.6,79.7 L554.6,82.3 L565.5,82.3 L565.5,85 L585.6,85 L585.6,88.8 L605.3,88.8 L605.3,94.1 L641.3,94.1 L641.8,94.1 L641.8,102 L652.8,102" fill="none" stroke="#00abb2" stroke-width="1.25"/>
<path d="M409.4,53.3 V55.8 M408.5,54.6 H410.3" stroke="#00abb2" stroke-width="0.7" fill="none"/>
<path d="M411.6,54.2 V56.7 M410.7,55.5 H412.5" stroke="#00abb2" stroke-width="0.7" fill="none"/>
<path d="M414.5,55.1 V57.6 M413.6,56.4 H415.4" stroke="#00abb2" stroke-width="0.7" fill="none"/>
<path d="M414.9,55.1 V57.6 M414,56.4 H415.8" stroke="#00abb2" stroke-width="0.7" fill="none"/>
<path d="M415.7,55.5 V58 M414.8,56.8 H416.6" stroke="#00abb2" stroke-width="0.7" fill="none"/>
<path d="M417.5,55.9 V58.4 M416.6,57.2 H418.4" stroke="#00abb2" stroke-width="0.7" fill="none"/>
<path d="M418.1,55.9 V58.4 M417.2,57.2 H419" stroke="#00abb2" stroke-width="0.7" fill="none"/>
<path d="M422.7,57 V59.5 M421.8,58.2 H423.6" stroke="#00abb2" stroke-width="0.7" fill="none"/>
<path d="M429.4,58.6 V61.1 M428.5,59.9 H430.3" stroke="#00abb2" stroke-width="0.7" fill="none"/>
<path d="M431,58.9 V61.4 M430.1,60.2 H431.9" stroke="#00abb2" stroke-width="0.7" fill="none"/>
<path d="M436.1,60.1 V62.6 M435.2,61.4 H437" stroke="#00abb2" stroke-width="0.7" fill="none"/>
<path d="M437.7,60.5 V63 M436.8,61.8 H438.6" stroke="#00abb2" stroke-width="0.7" fill="none"/>
<path d="M445.2,62.5 V65 M444.3,63.7 H446.1" stroke="#00abb2" stroke-width="0.7" fill="none"/>
<path d="M451.5,63.7 V66.2 M450.6,64.9 H452.4" stroke="#00abb2" stroke-width="0.7" fill="none"/>
<path d="M455.8,63.7 V66.2 M454.9,64.9 H456.7" stroke="#00abb2" stroke-width="0.7" fill="none"/>
<path d="M472.4,68.8 V71.3 M471.5,70 H473.3" stroke="#00abb2" stroke-width="0.7" fill="none"/>
<path d="M477.1,70.3 V72.8 M476.2,71.6 H478" stroke="#00abb2" stroke-width="0.7" fill="none"/>
<path d="M478.5,70.8 V73.3 M477.6,72.1 H479.4" stroke="#00abb2" stroke-width="0.7" fill="none"/>
<path d="M481,72.6 V75.1 M480.1,73.8 H481.9" stroke="#00abb2" stroke-width="0.7" fill="none"/>
<path d="M491.4,74 V76.5 M490.5,75.3 H492.3" stroke="#00abb2" stroke-width="0.7" fill="none"/>
<path d="M493.1,74.2 V76.7 M492.2,75.4 H494" stroke="#00abb2" stroke-width="0.7" fill="none"/>
<path d="M499.2,74.5 V77 M498.3,75.8 H500.1" stroke="#00abb2" stroke-width="0.7" fill="none"/>
<path d="M506.1,76.2 V78.7 M505.2,77.4 H507" stroke="#00abb2" stroke-width="0.7" fill="none"/>
<path d="M506.9,76.2 V78.7 M506,77.4 H507.8" stroke="#00abb2" stroke-width="0.7" fill="none"/>
<path d="M508.4,76.7 V79.2 M507.5,77.9 H509.3" stroke="#00abb2" stroke-width="0.7" fill="none"/>
<path d="M526.9,77.9 V80.4 M526,79.1 H527.8" stroke="#00abb2" stroke-width="0.7" fill="none"/>
<path d="M534,78.1 V80.6 M533.1,79.4 H534.9" stroke="#00abb2" stroke-width="0.7" fill="none"/>
<path d="M536.9,78.3 V80.8 M536,79.5 H537.8" stroke="#00abb2" stroke-width="0.7" fill="none"/>
<path d="M544.3,78.5 V81 M543.4,79.7 H545.2" stroke="#00abb2" stroke-width="0.7" fill="none"/>
<path d="M545.4,78.5 V81 M544.5,79.7 H546.3" stroke="#00abb2" stroke-width="0.7" fill="none"/>
<path d="M546.4,78.5 V81 M545.5,79.7 H547.3" stroke="#00abb2" stroke-width="0.7" fill="none"/>
<path d="M556.9,81 V83.5 M556,82.3 H557.8" stroke="#00abb2" stroke-width="0.7" fill="none"/>
<path d="M559.7,81 V83.5 M558.8,82.3 H560.6" stroke="#00abb2" stroke-width="0.7" fill="none"/>
<path d="M562.7,81 V83.5 M561.8,82.3 H563.6" stroke="#00abb2" stroke-width="0.7" fill="none"/>
<path d="M570.1,83.8 V86.2 M569.2,85 H571" stroke="#00abb2" stroke-width="0.7" fill="none"/>
<path d="M604,87.5 V90 M603.1,88.8 H604.9" stroke="#00abb2" stroke-width="0.7" fill="none"/>
<path d="M606.7,92.8 V95.3 M605.8,94.1 H607.6" stroke="#00abb2" stroke-width="0.7" fill="none"/>
<path d="M614.6,92.8 V95.3 M613.7,94.1 H615.5" stroke="#00abb2" stroke-width="0.7" fill="none"/>
<path d="M636.9,92.8 V95.3 M636,94.1 H637.8" stroke="#00abb2" stroke-width="0.7" fill="none"/>
<path d="M644.1,100.8 V103.2 M643.2,102 H645" stroke="#00abb2" stroke-width="0.7" fill="none"/>
<path d="M381.5,44.5 L381.5,186.5 L679,186.5" fill="none" stroke="#8c8c8c" stroke-width="1.6" stroke-linejoin="round" stroke-linecap="round"/>
<line x1="379.5" y1="180.6" x2="381.5" y2="180.6" stroke="#222" stroke-width="0.8"/>
<text transform="translate(378.5,182.6) scale(0.88,1)" font-size="6" text-anchor="end" fill="#4a4a4a">0.00</text>
<line x1="379.5" y1="148" x2="381.5" y2="148" stroke="#222" stroke-width="0.8"/>
<text transform="translate(378.5,150) scale(0.88,1)" font-size="6" text-anchor="end" fill="#4a4a4a">0.25</text>
<line x1="379.5" y1="115.4" x2="381.5" y2="115.4" stroke="#222" stroke-width="0.8"/>
<text transform="translate(378.5,117.4) scale(0.88,1)" font-size="6" text-anchor="end" fill="#4a4a4a">0.50</text>
<line x1="379.5" y1="82.8" x2="381.5" y2="82.8" stroke="#222" stroke-width="0.8"/>
<text transform="translate(378.5,84.8) scale(0.88,1)" font-size="6" text-anchor="end" fill="#4a4a4a">0.75</text>
<line x1="379.5" y1="50.2" x2="381.5" y2="50.2" stroke="#222" stroke-width="0.8"/>
<text transform="translate(378.5,52.2) scale(0.88,1)" font-size="6" text-anchor="end" fill="#4a4a4a">1.00</text>
<line x1="394.6" y1="186.5" x2="394.6" y2="188.3" stroke="#222" stroke-width="0.8"/>
<text transform="translate(394.6,193.5) scale(0.88,1)" font-size="6" text-anchor="middle" fill="#4a4a4a">0</text>
<line x1="421.8" y1="186.5" x2="421.8" y2="188.3" stroke="#222" stroke-width="0.8"/>
<text transform="translate(421.8,193.5) scale(0.88,1)" font-size="6" text-anchor="middle" fill="#4a4a4a">3</text>
<line x1="449" y1="186.5" x2="449" y2="188.3" stroke="#222" stroke-width="0.8"/>
<text transform="translate(449,193.5) scale(0.88,1)" font-size="6" text-anchor="middle" fill="#4a4a4a">6</text>
<line x1="476.1" y1="186.5" x2="476.1" y2="188.3" stroke="#222" stroke-width="0.8"/>
<text transform="translate(476.1,193.5) scale(0.88,1)" font-size="6" text-anchor="middle" fill="#4a4a4a">9</text>
<line x1="503.3" y1="186.5" x2="503.3" y2="188.3" stroke="#222" stroke-width="0.8"/>
<text transform="translate(503.3,193.5) scale(0.88,1)" font-size="6" text-anchor="middle" fill="#4a4a4a">12</text>
<line x1="530.5" y1="186.5" x2="530.5" y2="188.3" stroke="#222" stroke-width="0.8"/>
<text transform="translate(530.5,193.5) scale(0.88,1)" font-size="6" text-anchor="middle" fill="#4a4a4a">15</text>
<line x1="557.7" y1="186.5" x2="557.7" y2="188.3" stroke="#222" stroke-width="0.8"/>
<text transform="translate(557.7,193.5) scale(0.88,1)" font-size="6" text-anchor="middle" fill="#4a4a4a">18</text>
<line x1="584.9" y1="186.5" x2="584.9" y2="188.3" stroke="#222" stroke-width="0.8"/>
<text transform="translate(584.9,193.5) scale(0.88,1)" font-size="6" text-anchor="middle" fill="#4a4a4a">21</text>
<line x1="612" y1="186.5" x2="612" y2="188.3" stroke="#222" stroke-width="0.8"/>
<text transform="translate(612,193.5) scale(0.88,1)" font-size="6" text-anchor="middle" fill="#4a4a4a">24</text>
<line x1="639.2" y1="186.5" x2="639.2" y2="188.3" stroke="#222" stroke-width="0.8"/>
<text transform="translate(639.2,193.5) scale(0.88,1)" font-size="6" text-anchor="middle" fill="#4a4a4a">27</text>
<line x1="666.4" y1="186.5" x2="666.4" y2="188.3" stroke="#222" stroke-width="0.8"/>
<text transform="translate(666.4,193.5) scale(0.88,1)" font-size="6" text-anchor="middle" fill="#4a4a4a">30</text>
<text transform="translate(530.6,200.3) scale(0.88,1)" font-size="7.5" text-anchor="middle" fill="#000">Time (Days)</text>
<text transform="translate(366.1,115.4) scale(0.88,1) rotate(-90)" font-size="6.6" text-anchor="middle" fill="#000">28-Days  Survival probability</text>
<text transform="translate(418.3,152.9) scale(0.88,1)" font-size="5.3" text-anchor="start" fill="#000">Log rank P &lt;0.001</text>
<text transform="translate(418.3,159.9) scale(0.88,1)" font-size="5.3" text-anchor="start" fill="#000">HR (95%CI): 0.522 (0.381 - 0.714)</text>
<text transform="translate(382.6,214.2) scale(0.88,1)" font-size="8.9" text-anchor="start" fill="#000">Number at risk</text>
<text transform="translate(379.5,228) scale(0.88,1)" font-size="5.7" text-anchor="end" fill="#e97a74">High</text>
<text transform="translate(379.5,240.6) scale(0.88,1)" font-size="5.7" text-anchor="end" fill="#00abb2">Low</text>
<text transform="translate(395.6,228.5) scale(0.88,1)" font-size="6.5" text-anchor="middle" fill="#000">363</text>
<text transform="translate(422.8,228.5) scale(0.88,1)" font-size="6.5" text-anchor="middle" fill="#000">298</text>
<text transform="translate(450,228.5) scale(0.88,1)" font-size="6.5" text-anchor="middle" fill="#000">232</text>
<text transform="translate(477.1,228.5) scale(0.88,1)" font-size="6.5" text-anchor="middle" fill="#000">156</text>
<text transform="translate(504.3,228.5) scale(0.88,1)" font-size="6.5" text-anchor="middle" fill="#000">106</text>
<text transform="translate(531.5,228.5) scale(0.88,1)" font-size="6.5" text-anchor="middle" fill="#000">78</text>
<text transform="translate(558.7,228.5) scale(0.88,1)" font-size="6.5" text-anchor="middle" fill="#000">59</text>
<text transform="translate(585.9,228.5) scale(0.88,1)" font-size="6.5" text-anchor="middle" fill="#000">42</text>
<text transform="translate(613,228.5) scale(0.88,1)" font-size="6.5" text-anchor="middle" fill="#000">29</text>
<text transform="translate(640.2,228.5) scale(0.88,1)" font-size="6.5" text-anchor="middle" fill="#000">22</text>
<text transform="translate(667.4,228.5) scale(0.88,1)" font-size="6.5" text-anchor="middle" fill="#000">0</text>
<text transform="translate(395.6,241) scale(0.88,1)" font-size="6.5" text-anchor="middle" fill="#000">358</text>
<text transform="translate(422.8,241) scale(0.88,1)" font-size="6.5" text-anchor="middle" fill="#000">312</text>
<text transform="translate(450,241) scale(0.88,1)" font-size="6.5" text-anchor="middle" fill="#000">211</text>
<text transform="translate(477.1,241) scale(0.88,1)" font-size="6.5" text-anchor="middle" fill="#000">127</text>
<text transform="translate(504.3,241) scale(0.88,1)" font-size="6.5" text-anchor="middle" fill="#000">85</text>
<text transform="translate(531.5,241) scale(0.88,1)" font-size="6.5" text-anchor="middle" fill="#000">54</text>
<text transform="translate(558.7,241) scale(0.88,1)" font-size="6.5" text-anchor="middle" fill="#000">37</text>
<text transform="translate(585.9,241) scale(0.88,1)" font-size="6.5" text-anchor="middle" fill="#000">27</text>
<text transform="translate(613,241) scale(0.88,1)" font-size="6.5" text-anchor="middle" fill="#000">14</text>
<text transform="translate(640.2,241) scale(0.88,1)" font-size="6.5" text-anchor="middle" fill="#000">11</text>
<text transform="translate(667.4,241) scale(0.88,1)" font-size="6.5" text-anchor="middle" fill="#000">0</text>
<text transform="translate(1.6,310.7) scale(0.88,1)" font-size="26.3" fill="#000">B</text>
<text transform="translate(153.8,306.9) scale(0.88,1)" font-size="7.8" text-anchor="start" fill="#000">RAR</text>
<rect x="171.4" y="301.9" width="5" height="4.8" fill="#f6cfcf"/>
<line x1="171.4" y1="304.3" x2="176.4" y2="304.3" stroke="#e97a74" stroke-width="0.9"/>
<text transform="translate(179.8,306.2) scale(0.88,1)" font-size="5.9" text-anchor="start" fill="#000">High</text>
<rect x="193.3" y="301.9" width="5" height="4.8" fill="#b0dcdf"/>
<line x1="193.3" y1="304.3" x2="198.3" y2="304.3" stroke="#00abb2" stroke-width="0.9"/>
<text transform="translate(202,306.2) scale(0.88,1)" font-size="5.9" text-anchor="start" fill="#000">Low</text>
<path d="M47,323.3 L49,323.3 L49,325 L51,325 L51,326.6 L53,326.6 L53,328.3 L55,328.3 L55,330 L56.7,330 L56.7,331.5 L58.3,331.5 L58.3,333.1 L60,333.1 L60,334.6 L62,334.6 L62,335.2 L64.1,335.2 L64.1,335.8 L66.1,335.8 L66.1,336.4 L67.8,336.4 L67.8,336.9 L69.6,336.9 L69.6,337.4 L71.3,337.4 L71.3,337.9 L73.1,337.9 L73.1,338.5 L74.8,338.5 L74.8,339 L76.6,339 L76.6,339.5 L78.3,339.5 L78.3,341 L80.1,341 L80.1,342.5 L81.8,342.5 L81.8,344 L83.6,344 L83.6,345.5 L85.5,345.5 L85.5,346.3 L87.4,346.3 L87.4,347.2 L89.3,347.2 L89.3,348 L91.2,348 L91.2,348.8 L93.1,348.8 L93.1,349.7 L95,349.7 L95,350.5 L96.9,350.5 L96.9,350.8 L98.8,350.8 L98.8,351.1 L100.7,351.1 L100.7,351.4 L102.5,351.4 L102.5,351.6 L104.4,351.6 L104.4,351.9 L106.3,351.9 L106.3,352.2 L108.2,352.2 L108.2,352.5 L109.9,352.5 L109.9,352.6 L111.6,352.6 L111.6,352.8 L113.3,352.8 L113.3,352.9 L114.9,352.9 L114.9,353.1 L116.6,353.1 L116.6,353.2 L118.3,353.2 L118.3,353.4 L120,353.4 L120,353.5 L121.8,353.5 L121.8,354 L123.6,354 L123.6,354.5 L125.4,354.5 L125.4,355 L127.3,355 L127.3,355.6 L129.1,355.6 L129.1,356.1 L130.9,356.1 L130.9,356.6 L132.7,356.6 L132.7,357.1 L259.9,357.1 L259.9,334.1 L312.4,334.1 L312.4,430.6 L259.9,430.6 L259.9,389.5 L133.4,389.5 L133.4,382.9 L132.7,382.9 L122.5,382.9 L122.5,376.3 L120,376.3 L120,376 L118.2,376 L118.2,375.7 L116.3,375.7 L116.3,375.4 L114.5,375.4 L114.5,375.1 L112.7,375.1 L112.7,374.8 L110.8,374.8 L110.8,374.5 L109,374.5 L109,374.1 L107.2,374.1 L107.2,373.7 L105.5,373.7 L105.5,373.3 L103.8,373.3 L103.8,372.9 L102,372.9 L102,372.6 L100.2,372.6 L100.2,372.2 L98.5,372.2 L98.5,371.8 L96.8,371.8 L96.8,371.4 L95,371.4 L95,368.4 L92.8,368.4 L92.8,365.3 L90.6,365.3 L90.6,363.8 L88.6,363.8 L88.6,362.2 L86.7,362.2 L86.7,360.7 L84.8,360.7 L84.8,359.2 L82.8,359.2 L82.8,357 L81,357 L81,354.8 L79.3,354.8 L79.3,352.6 L77.5,352.6 L77.5,350.4 L75.8,350.4 L75.8,349.3 L74,349.3 L74,348.3 L72.3,348.3 L72.3,347.2 L70.5,347.2 L70.5,346.2 L68.8,346.2 L68.8,345.1 L67,345.1 L67,343.4 L65.2,343.4 L65.2,341.6 L63.5,341.6 L63.5,339.9 L61.8,339.9 L61.8,338.1 L60,338.1 L60,335.8 L58.2,335.8 L58.2,333.4 L56.4,333.4 L56.4,331.1 L54.6,331.1 L54.6,329.2 L52.7,329.2 L52.7,327.2 L50.8,327.2 L50.8,325.2 L48.9,325.2 L48.9,323.3 L47,323.3 Z" fill="#f6cfcf"/>
<path d="M47,323.3 L48.8,323.3 L48.8,323.9 L50.5,323.9 L50.5,324.4 L52.2,324.4 L52.2,324.9 L54,324.9 L54,325.5 L56,325.5 L56,326.4 L58,326.4 L58,327.2 L60,327.2 L60,328.1 L61.8,328.1 L61.8,328.5 L63.5,328.5 L63.5,329 L65.3,329 L65.3,329.4 L67,329.4 L67,329.6 L68.8,329.6 L68.8,329.9 L70.5,329.9 L70.5,330.1 L72.3,330.1 L72.3,330.4 L74,330.4 L74,330.6 L75.8,330.6 L75.8,330.9 L77.5,330.9 L77.5,331.1 L79.7,331.1 L79.7,332.5 L81.9,332.5 L81.9,333.8 L83.8,333.8 L83.8,334 L85.6,334 L85.6,334.2 L87.5,334.2 L87.5,334.4 L89.4,334.4 L89.4,334.5 L91.3,334.5 L91.3,334.7 L93.1,334.7 L93.1,334.9 L95,334.9 L95,335.1 L96.8,335.1 L96.8,335.3 L98.5,335.3 L98.5,335.4 L100.2,335.4 L100.2,335.6 L102,335.6 L102,335.8 L103.8,335.8 L103.8,335.9 L105.5,335.9 L105.5,336.1 L107.2,336.1 L107.2,336.2 L109,336.2 L109,336.4 L109.9,336.4 L109.9,338.1 L120,338.4 L121.9,338.4 L121.9,338.8 L123.8,338.8 L123.8,339.2 L125.6,339.2 L125.6,339.7 L127.5,339.7 L127.5,340.1 L129.4,340.1 L129.4,340.5 L129.8,340.5 L129.8,343.3 L221.1,343.3 L221.1,323.4 L242.2,323.4 L242.2,447.8 L221.1,447.8 L221.1,383.8 L129.8,383.6 L129.8,376.3 L119.6,376.3 L119.6,369.7 L109,369.7 L109,353 L108.2,353 L108.2,352.9 L106.3,352.9 L106.3,352.7 L104.4,352.7 L104.4,352.6 L102.5,352.6 L102.5,352.5 L100.7,352.5 L100.7,352.4 L98.8,352.4 L98.8,352.2 L96.9,352.2 L96.9,352.1 L95,352.1 L95,350.4 L92.8,350.4 L92.8,348.6 L90.6,348.6 L90.6,348.2 L88.6,348.2 L88.6,347.8 L86.7,347.8 L86.7,347.3 L84.8,347.3 L84.8,346.9 L82.8,346.9 L82.8,345.4 L80.6,345.4 L80.6,343.8 L78.4,343.8 L78.4,340.8 L76.6,340.8 L76.6,340.2 L74.7,340.2 L74.7,339.6 L72.8,339.6 L72.8,339.1 L70.9,339.1 L70.9,338.5 L69.1,338.5 L69.1,337.9 L67.2,337.9 L67.2,337.3 L65.3,337.3 L65.3,335.8 L63.5,335.8 L63.5,334.4 L61.8,334.4 L61.8,332.9 L60,332.9 L60,331.6 L58.2,331.6 L58.2,330.2 L56.4,330.2 L56.4,328.9 L54.6,328.9 L54.6,327.5 L52.7,327.5 L52.7,326.1 L50.8,326.1 L50.8,324.7 L48.9,324.7 L48.9,323.3 L47,323.3 Z" fill="#b0dcdf"/>
<path d="M47,323.3 L48.8,323.3 L48.8,323.9 L50.5,323.9 L50.5,324.4 L52.2,324.4 L52.2,324.9 L54,324.9 L54,325.5 L56,325.5 L56,326.4 L58,326.4 L58,327.2 L60,327.2 L60,328.1 L61.8,328.1 L61.8,328.5 L63.5,328.5 L63.5,329 L65.3,329 L65.3,329.4 L67,329.4 L67,329.6 L68.8,329.6 L68.8,329.9 L70.5,329.9 L70.5,330.1 L72.3,330.1 L72.3,330.4 L74,330.4 L74,330.6 L75.8,330.6 L75.8,330.9 L77.5,330.9 L77.5,331.1 L79.7,331.1 L79.7,332.5 L81.9,332.5 L81.9,333.8 L83.8,333.8 L83.8,334 L85.6,334 L85.6,334.2 L87.5,334.2 L87.5,334.4 L89.4,334.4 L89.4,334.5 L91.3,334.5 L91.3,334.7 L93.1,334.7 L93.1,334.9 L95,334.9 L95,335.1 L96.8,335.1 L96.8,335.3 L98.5,335.3 L98.5,335.4 L100.2,335.4 L100.2,335.6 L102,335.6 L102,335.8 L103.8,335.8 L103.8,335.9 L105.5,335.9 L105.5,336.1 L107.2,336.1 L107.2,336.2 L109,336.2 L109,336.4 L109.9,336.4 L109.9,338.1 L120,338.4 L121.9,338.4 L121.9,338.8 L123.8,338.8 L123.8,339.2 L125.6,339.2 L125.6,339.7 L127.5,339.7 L127.5,340.1 L129.4,340.1 L129.4,340.5 L129.8,340.5 L129.8,343.3 L221.1,343.3 L221.1,323.4 L242.2,323.4 L242.2,447.8 L221.1,447.8 L221.1,383.8 L129.8,383.6 L129.8,376.3 L119.6,376.3 L119.6,369.7 L109,369.7 L109,353 L108.2,353 L108.2,352.9 L106.3,352.9 L106.3,352.7 L104.4,352.7 L104.4,352.6 L102.5,352.6 L102.5,352.5 L100.7,352.5 L100.7,352.4 L98.8,352.4 L98.8,352.2 L96.9,352.2 L96.9,352.1 L95,352.1 L95,350.4 L92.8,350.4 L92.8,348.6 L90.6,348.6 L90.6,348.2 L88.6,348.2 L88.6,347.8 L86.7,347.8 L86.7,347.3 L84.8,347.3 L84.8,346.9 L82.8,346.9 L82.8,345.4 L80.6,345.4 L80.6,343.8 L78.4,343.8 L78.4,340.8 L76.6,340.8 L76.6,340.2 L74.7,340.2 L74.7,339.6 L72.8,339.6 L72.8,339.1 L70.9,339.1 L70.9,338.5 L69.1,338.5 L69.1,337.9 L67.2,337.9 L67.2,337.3 L65.3,337.3 L65.3,335.8 L63.5,335.8 L63.5,334.4 L61.8,334.4 L61.8,332.9 L60,332.9 L60,331.6 L58.2,331.6 L58.2,330.2 L56.4,330.2 L56.4,328.9 L54.6,328.9 L54.6,327.5 L52.7,327.5 L52.7,326.1 L50.8,326.1 L50.8,324.7 L48.9,324.7 L48.9,323.3 L47,323.3 Z" fill="#b4c9cb" clip-path="url(#cr5)"/>
<path d="M46.6,388.5 L259.9,388.5" fill="none" stroke="#262626" stroke-width="0.8" stroke-dasharray="1.6,1.8"/>
<path d="M221.1,388.5 L221.1,453.5" fill="none" stroke="#262626" stroke-width="0.8" stroke-dasharray="1.6,1.8"/>
<path d="M259.9,388.5 L259.9,453.5" fill="none" stroke="#262626" stroke-width="0.8" stroke-dasharray="1.6,1.8"/>
<path d="M47,323.3 L48.6,323.3 L48.6,324.9 L50.1,324.9 L50.1,326.5 L51.7,326.5 L51.7,328.1 L53.4,328.1 L53.4,330.1 L55,330.1 L55,332 L56.7,332 L56.7,333.5 L58.3,333.5 L58.3,334.9 L60,334.9 L60,336.4 L61.6,336.4 L61.6,337.4 L63.2,337.4 L63.2,338.5 L64.7,338.5 L64.7,339.5 L66.3,339.5 L66.3,340.6 L67.9,340.6 L67.9,341.6 L69.7,341.6 L69.7,342.1 L71.4,342.1 L71.4,342.5 L72.9,342.5 L72.9,344 L74.3,344 L74.3,345.4 L75.8,345.4 L75.8,346.9 L77.5,346.9 L77.5,347.8 L79.3,347.8 L79.3,348.6 L81,348.6 L81,349.5 L82.3,349.5 L82.3,351.7 L83.6,351.7 L83.6,353.9 L84.9,353.9 L84.9,354.1 L86.2,354.1 L86.2,354.4 L87.6,354.4 L87.6,354.6 L88.9,354.6 L88.9,354.8 L90.2,354.8 L90.2,356.6 L91.5,356.6 L91.5,358.3 L92.8,358.3 L92.8,359 L94.2,359 L94.2,359.6 L95,359.6 L95,362.2 L108.2,362.2 L109,362.2 L109,365.5 L122.8,365.5 L122.8,370.2 L133,370.2 L133,375 L259.9,375 L259.9,401.5 L312.4,401.5" fill="none" stroke="#e97a74" stroke-width="1.25"/>
<path d="M47,323.3 L48.6,323.3 L48.6,324.9 L50.1,324.9 L50.1,326.5 L51.7,326.5 L51.7,328.1 L53.4,328.1 L53.4,330.1 L55,330.1 L55,332 L56.7,332 L56.7,333.5 L58.3,333.5 L58.3,334.9 L60,334.9 L60,336.4 L61.6,336.4 L61.6,337.4 L63.2,337.4 L63.2,338.5 L64.7,338.5 L64.7,339.5 L66.3,339.5 L66.3,340.6 L67.9,340.6 L67.9,341.6 L69.7,341.6 L69.7,342.1 L71.4,342.1 L71.4,342.5 L72.9,342.5 L72.9,344 L74.3,344 L74.3,345.4 L75.8,345.4 L75.8,346.9 L77.5,346.9 L77.5,347.8 L79.3,347.8 L79.3,348.6 L81,348.6 L81,349.5 L82.3,349.5 L82.3,351.7 L83.6,351.7 L83.6,353.9 L84.9,353.9 L84.9,354.1 L86.2,354.1 L86.2,354.4 L87.6,354.4 L87.6,354.6 L88.9,354.6 L88.9,354.8 L90.2,354.8 L90.2,356.6 L91.5,356.6 L91.5,358.3 L92.8,358.3 L92.8,359 L94.2,359 L94.2,359.6 L95,359.6 L95,362.2 L108.2,362.2 L109,362.2 L109,365.5 L122.8,365.5 L122.8,370.2 L133,370.2 L133,375 L259.9,375 L259.9,401.5 L312.4,401.5" fill="none" stroke="#c48a84" stroke-width="1.25" clip-path="url(#ct6)"/>
<path d="M75,344.2 V346.7 M74.1,345.4 H75.9" stroke="#e97a74" stroke-width="0.7" fill="none"/>
<path d="M78,346.5 V349 M77.1,347.8 H78.9" stroke="#e97a74" stroke-width="0.7" fill="none"/>
<path d="M86.5,353.1 V355.6 M85.6,354.4 H87.4" stroke="#e97a74" stroke-width="0.7" fill="none"/>
<path d="M88,353.3 V355.8 M87.1,354.6 H88.9" stroke="#e97a74" stroke-width="0.7" fill="none"/>
<path d="M100,360.9 V363.4 M99.1,362.2 H100.9" stroke="#e97a74" stroke-width="0.7" fill="none"/>
<path d="M103,360.9 V363.4 M102.1,362.2 H103.9" stroke="#e97a74" stroke-width="0.7" fill="none"/>
<path d="M133.7,373.8 V376.2 M132.8,375 H134.6" stroke="#e97a74" stroke-width="0.7" fill="none"/>
<path d="M137.8,373.8 V376.2 M136.9,375 H138.7" stroke="#e97a74" stroke-width="0.7" fill="none"/>
<path d="M140.5,373.8 V376.2 M139.6,375 H141.4" stroke="#e97a74" stroke-width="0.7" fill="none"/>
<path d="M149,373.8 V376.2 M148.1,375 H149.9" stroke="#e97a74" stroke-width="0.7" fill="none"/>
<path d="M168.5,373.8 V376.2 M167.6,375 H169.4" stroke="#e97a74" stroke-width="0.7" fill="none"/>
<path d="M185.8,373.8 V376.2 M184.9,375 H186.7" stroke="#e97a74" stroke-width="0.7" fill="none"/>
<path d="M193.6,373.8 V376.2 M192.7,375 H194.5" stroke="#e97a74" stroke-width="0.7" fill="none"/>
<path d="M232.3,373.8 V376.2 M231.4,375 H233.2" stroke="#e97a74" stroke-width="0.7" fill="none"/>
<path d="M272.2,400.2 V402.8 M271.3,401.5 H273.1" stroke="#e97a74" stroke-width="0.7" fill="none"/>
<path d="M312.4,400.2 V402.8 M311.5,401.5 H313.3" stroke="#e97a74" stroke-width="0.7" fill="none"/>
<path d="M47,323.3 L48.5,323.3 L48.5,324 L50,324 L50,324.7 L51.6,324.7 L51.6,325.3 L53.1,325.3 L53.1,326 L54.6,326 L54.6,326.7 L56,326.7 L56,327.7 L57.3,327.7 L57.3,328.7 L58.6,328.7 L58.6,329.7 L60,329.7 L60,330.7 L61.3,330.7 L61.3,331.5 L62.6,331.5 L62.6,332.2 L64,332.2 L64,333 L65.3,333 L65.3,333.8 L66.9,333.8 L66.9,334 L68.4,334 L68.4,334.2 L70,334.2 L70,334.4 L71.5,334.4 L71.5,334.5 L73.1,334.5 L73.1,334.7 L74.6,334.7 L74.6,334.9 L76.2,334.9 L76.2,335.1 L77.5,335.1 L77.5,336.8 L78.8,336.8 L78.8,338.6 L80.1,338.6 L80.1,340.3 L81.7,340.3 L81.7,341.2 L83.2,341.2 L83.2,342.1 L94.2,342.1 L95,342.1 L95,344.7 L107.3,344.7 L108.6,344.7 L108.6,350.4 L109.5,350.4 L109.5,355.2 L120,355.2 L120,360.3 L129.8,360.3 L129.8,366 L221.1,366 L221.1,395.1 L222.2,395.1 L222.2,424.6 L242.2,424.6" fill="none" stroke="#00abb2" stroke-width="1.25"/>
<path d="M60,329.4 V331.9 M59.1,330.7 H60.9" stroke="#00abb2" stroke-width="0.7" fill="none"/>
<path d="M70,333.1 V335.6 M69.1,334.4 H70.9" stroke="#00abb2" stroke-width="0.7" fill="none"/>
<path d="M77,333.9 V336.4 M76.1,335.1 H77.9" stroke="#00abb2" stroke-width="0.7" fill="none"/>
<path d="M86,340.9 V343.4 M85.1,342.1 H86.9" stroke="#00abb2" stroke-width="0.7" fill="none"/>
<path d="M88,340.9 V343.4 M87.1,342.1 H88.9" stroke="#00abb2" stroke-width="0.7" fill="none"/>
<path d="M90,340.9 V343.4 M89.1,342.1 H90.9" stroke="#00abb2" stroke-width="0.7" fill="none"/>
<path d="M100,343.4 V345.9 M99.1,344.7 H100.9" stroke="#00abb2" stroke-width="0.7" fill="none"/>
<path d="M102,343.4 V345.9 M101.1,344.7 H102.9" stroke="#00abb2" stroke-width="0.7" fill="none"/>
<path d="M104,343.4 V345.9 M103.1,344.7 H104.9" stroke="#00abb2" stroke-width="0.7" fill="none"/>
<path d="M143,364.8 V367.2 M142.1,366 H143.9" stroke="#00abb2" stroke-width="0.7" fill="none"/>
<path d="M144.6,364.8 V367.2 M143.7,366 H145.5" stroke="#00abb2" stroke-width="0.7" fill="none"/>
<path d="M152.1,364.8 V367.2 M151.2,366 H153" stroke="#00abb2" stroke-width="0.7" fill="none"/>
<path d="M155.2,364.8 V367.2 M154.3,366 H156.1" stroke="#00abb2" stroke-width="0.7" fill="none"/>
<path d="M158.2,364.8 V367.2 M157.3,366 H159.1" stroke="#00abb2" stroke-width="0.7" fill="none"/>
<path d="M161.3,364.8 V367.2 M160.4,366 H162.2" stroke="#00abb2" stroke-width="0.7" fill="none"/>
<path d="M175.6,364.8 V367.2 M174.7,366 H176.5" stroke="#00abb2" stroke-width="0.7" fill="none"/>
<path d="M200.1,364.8 V367.2 M199.2,366 H201" stroke="#00abb2" stroke-width="0.7" fill="none"/>
<path d="M242,423.4 V425.9 M241.1,424.6 H242.9" stroke="#00abb2" stroke-width="0.7" fill="none"/>
<path d="M33.3,317.5 L33.3,460.1 L330.7,460.1" fill="none" stroke="#8c8c8c" stroke-width="1.6" stroke-linejoin="round" stroke-linecap="round"/>
<line x1="31.3" y1="454" x2="33.3" y2="454" stroke="#222" stroke-width="0.8"/>
<text transform="translate(30.3,456) scale(0.88,1)" font-size="6" text-anchor="end" fill="#4a4a4a">0.00</text>
<line x1="31.3" y1="421.3" x2="33.3" y2="421.3" stroke="#222" stroke-width="0.8"/>
<text transform="translate(30.3,423.3) scale(0.88,1)" font-size="6" text-anchor="end" fill="#4a4a4a">0.25</text>
<line x1="31.3" y1="388.6" x2="33.3" y2="388.6" stroke="#222" stroke-width="0.8"/>
<text transform="translate(30.3,390.6) scale(0.88,1)" font-size="6" text-anchor="end" fill="#4a4a4a">0.50</text>
<line x1="31.3" y1="356" x2="33.3" y2="356" stroke="#222" stroke-width="0.8"/>
<text transform="translate(30.3,358) scale(0.88,1)" font-size="6" text-anchor="end" fill="#4a4a4a">0.75</text>
<line x1="31.3" y1="323.3" x2="33.3" y2="323.3" stroke="#222" stroke-width="0.8"/>
<text transform="translate(30.3,325.3) scale(0.88,1)" font-size="6" text-anchor="end" fill="#4a4a4a">1.00</text>
<line x1="46.5" y1="460.1" x2="46.5" y2="461.9" stroke="#222" stroke-width="0.8"/>
<text transform="translate(46.5,467.1) scale(0.88,1)" font-size="6" text-anchor="middle" fill="#4a4a4a">0</text>
<line x1="62.5" y1="460.1" x2="62.5" y2="461.9" stroke="#222" stroke-width="0.8"/>
<text transform="translate(62.5,467.1) scale(0.88,1)" font-size="6" text-anchor="middle" fill="#4a4a4a">8</text>
<line x1="78.5" y1="460.1" x2="78.5" y2="461.9" stroke="#222" stroke-width="0.8"/>
<text transform="translate(78.5,467.1) scale(0.88,1)" font-size="6" text-anchor="middle" fill="#4a4a4a">16</text>
<line x1="94.5" y1="460.1" x2="94.5" y2="461.9" stroke="#222" stroke-width="0.8"/>
<text transform="translate(94.5,467.1) scale(0.88,1)" font-size="6" text-anchor="middle" fill="#4a4a4a">24</text>
<line x1="110.5" y1="460.1" x2="110.5" y2="461.9" stroke="#222" stroke-width="0.8"/>
<text transform="translate(110.5,467.1) scale(0.88,1)" font-size="6" text-anchor="middle" fill="#4a4a4a">32</text>
<line x1="126.5" y1="460.1" x2="126.5" y2="461.9" stroke="#222" stroke-width="0.8"/>
<text transform="translate(126.5,467.1) scale(0.88,1)" font-size="6" text-anchor="middle" fill="#4a4a4a">40</text>
<line x1="142.5" y1="460.1" x2="142.5" y2="461.9" stroke="#222" stroke-width="0.8"/>
<text transform="translate(142.5,467.1) scale(0.88,1)" font-size="6" text-anchor="middle" fill="#4a4a4a">48</text>
<line x1="158.5" y1="460.1" x2="158.5" y2="461.9" stroke="#222" stroke-width="0.8"/>
<text transform="translate(158.5,467.1) scale(0.88,1)" font-size="6" text-anchor="middle" fill="#4a4a4a">56</text>
<line x1="174.5" y1="460.1" x2="174.5" y2="461.9" stroke="#222" stroke-width="0.8"/>
<text transform="translate(174.5,467.1) scale(0.88,1)" font-size="6" text-anchor="middle" fill="#4a4a4a">64</text>
<line x1="190.5" y1="460.1" x2="190.5" y2="461.9" stroke="#222" stroke-width="0.8"/>
<text transform="translate(190.5,467.1) scale(0.88,1)" font-size="6" text-anchor="middle" fill="#4a4a4a">72</text>
<line x1="206.5" y1="460.1" x2="206.5" y2="461.9" stroke="#222" stroke-width="0.8"/>
<text transform="translate(206.5,467.1) scale(0.88,1)" font-size="6" text-anchor="middle" fill="#4a4a4a">80</text>
<line x1="222.5" y1="460.1" x2="222.5" y2="461.9" stroke="#222" stroke-width="0.8"/>
<text transform="translate(222.5,467.1) scale(0.88,1)" font-size="6" text-anchor="middle" fill="#4a4a4a">88</text>
<line x1="238.5" y1="460.1" x2="238.5" y2="461.9" stroke="#222" stroke-width="0.8"/>
<text transform="translate(238.5,467.1) scale(0.88,1)" font-size="6" text-anchor="middle" fill="#4a4a4a">96</text>
<line x1="254.5" y1="460.1" x2="254.5" y2="461.9" stroke="#222" stroke-width="0.8"/>
<text transform="translate(254.5,467.1) scale(0.88,1)" font-size="6" text-anchor="middle" fill="#4a4a4a">104</text>
<line x1="270.5" y1="460.1" x2="270.5" y2="461.9" stroke="#222" stroke-width="0.8"/>
<text transform="translate(270.5,467.1) scale(0.88,1)" font-size="6" text-anchor="middle" fill="#4a4a4a">112</text>
<line x1="286.5" y1="460.1" x2="286.5" y2="461.9" stroke="#222" stroke-width="0.8"/>
<text transform="translate(286.5,467.1) scale(0.88,1)" font-size="6" text-anchor="middle" fill="#4a4a4a">120</text>
<line x1="302.5" y1="460.1" x2="302.5" y2="461.9" stroke="#222" stroke-width="0.8"/>
<text transform="translate(302.5,467.1) scale(0.88,1)" font-size="6" text-anchor="middle" fill="#4a4a4a">128</text>
<line x1="318.5" y1="460.1" x2="318.5" y2="461.9" stroke="#222" stroke-width="0.8"/>
<text transform="translate(318.5,467.1) scale(0.88,1)" font-size="6" text-anchor="middle" fill="#4a4a4a">136</text>
<text transform="translate(182.3,473.9) scale(0.88,1)" font-size="7.5" text-anchor="middle" fill="#000">Time (Days)</text>
<text transform="translate(18.3,388.6) scale(0.88,1) rotate(-90)" font-size="6.6" text-anchor="middle" fill="#000">Hospital Survival probability</text>
<text transform="translate(52,426.3) scale(0.88,1)" font-size="6.3" text-anchor="start" fill="#000">Log rank P = 0.027</text>
<text transform="translate(52,434.3) scale(0.88,1)" font-size="6.3" text-anchor="start" fill="#000">HR (95%CI): 0.632 (0.418 - 0.954)</text>
<text transform="translate(34.4,487.3) scale(0.88,1)" font-size="8.9" text-anchor="start" fill="#000">Number at risk</text>
<text transform="translate(31.3,500.7) scale(0.88,1)" font-size="5.7" text-anchor="end" fill="#e97a74">High</text>
<text transform="translate(31.3,513.7) scale(0.88,1)" font-size="5.7" text-anchor="end" fill="#00abb2">Low</text>
<text transform="translate(47.5,501.2) scale(0.88,1)" font-size="6.5" text-anchor="middle" fill="#000">389</text>
<text transform="translate(63.5,501.2) scale(0.88,1)" font-size="6.5" text-anchor="middle" fill="#000">216</text>
<text transform="translate(79.5,501.2) scale(0.88,1)" font-size="6.5" text-anchor="middle" fill="#000">103</text>
<text transform="translate(95.5,501.2) scale(0.88,1)" font-size="6.5" text-anchor="middle" fill="#000">51</text>
<text transform="translate(111.5,501.2) scale(0.88,1)" font-size="6.5" text-anchor="middle" fill="#000">26</text>
<text transform="translate(127.5,501.2) scale(0.88,1)" font-size="6.5" text-anchor="middle" fill="#000">18</text>
<text transform="translate(143.5,501.2) scale(0.88,1)" font-size="6.5" text-anchor="middle" fill="#000">10</text>
<text transform="translate(159.5,501.2) scale(0.88,1)" font-size="6.5" text-anchor="middle" fill="#000">9</text>
<text transform="translate(175.5,501.2) scale(0.88,1)" font-size="6.5" text-anchor="middle" fill="#000">7</text>
<text transform="translate(191.5,501.2) scale(0.88,1)" font-size="6.5" text-anchor="middle" fill="#000">6</text>
<text transform="translate(207.5,501.2) scale(0.88,1)" font-size="6.5" text-anchor="middle" fill="#000">5</text>
<text transform="translate(223.5,501.2) scale(0.88,1)" font-size="6.5" text-anchor="middle" fill="#000">5</text>
<text transform="translate(239.5,501.2) scale(0.88,1)" font-size="6.5" text-anchor="middle" fill="#000">3</text>
<text transform="translate(255.5,501.2) scale(0.88,1)" font-size="6.5" text-anchor="middle" fill="#000">3</text>
<text transform="translate(271.5,501.2) scale(0.88,1)" font-size="6.5" text-anchor="middle" fill="#000">2</text>
<text transform="translate(287.5,501.2) scale(0.88,1)" font-size="6.5" text-anchor="middle" fill="#000">1</text>
<text transform="translate(303.5,501.2) scale(0.88,1)" font-size="6.5" text-anchor="middle" fill="#000">1</text>
<text transform="translate(319.5,501.2) scale(0.88,1)" font-size="6.5" text-anchor="middle" fill="#000">0</text>
<text transform="translate(47.5,514.1) scale(0.88,1)" font-size="6.5" text-anchor="middle" fill="#000">380</text>
<text transform="translate(63.5,514.1) scale(0.88,1)" font-size="6.5" text-anchor="middle" fill="#000">185</text>
<text transform="translate(79.5,514.1) scale(0.88,1)" font-size="6.5" text-anchor="middle" fill="#000">71</text>
<text transform="translate(95.5,514.1) scale(0.88,1)" font-size="6.5" text-anchor="middle" fill="#000">37</text>
<text transform="translate(111.5,514.1) scale(0.88,1)" font-size="6.5" text-anchor="middle" fill="#000">19</text>
<text transform="translate(127.5,514.1) scale(0.88,1)" font-size="6.5" text-anchor="middle" fill="#000">16</text>
<text transform="translate(143.5,514.1) scale(0.88,1)" font-size="6.5" text-anchor="middle" fill="#000">12</text>
<text transform="translate(159.5,514.1) scale(0.88,1)" font-size="6.5" text-anchor="middle" fill="#000">7</text>
<text transform="translate(175.5,514.1) scale(0.88,1)" font-size="6.5" text-anchor="middle" fill="#000">5</text>
<text transform="translate(191.5,514.1) scale(0.88,1)" font-size="6.5" text-anchor="middle" fill="#000">4</text>
<text transform="translate(207.5,514.1) scale(0.88,1)" font-size="6.5" text-anchor="middle" fill="#000">3</text>
<text transform="translate(223.5,514.1) scale(0.88,1)" font-size="6.5" text-anchor="middle" fill="#000">2</text>
<text transform="translate(239.5,514.1) scale(0.88,1)" font-size="6.5" text-anchor="middle" fill="#000">1</text>
<text transform="translate(255.5,514.1) scale(0.88,1)" font-size="6.5" text-anchor="middle" fill="#000">0</text>
<text transform="translate(271.5,514.1) scale(0.88,1)" font-size="6.5" text-anchor="middle" fill="#000">0</text>
<text transform="translate(287.5,514.1) scale(0.88,1)" font-size="6.5" text-anchor="middle" fill="#000">0</text>
<text transform="translate(303.5,514.1) scale(0.88,1)" font-size="6.5" text-anchor="middle" fill="#000">0</text>
<text transform="translate(319.5,514.1) scale(0.88,1)" font-size="6.5" text-anchor="middle" fill="#000">0</text>
<text transform="translate(348.9,311) scale(0.88,1)" font-size="26.3" fill="#000">E</text>
<text transform="translate(505,306.9) scale(0.88,1)" font-size="7.8" text-anchor="start" fill="#000">RAR</text>
<rect x="522.6" y="301.9" width="5" height="4.8" fill="#f6cfcf"/>
<line x1="522.6" y1="304.3" x2="527.6" y2="304.3" stroke="#e97a74" stroke-width="0.9"/>
<text transform="translate(531,306.2) scale(0.88,1)" font-size="5.9" text-anchor="start" fill="#000">High</text>
<rect x="544.5" y="301.9" width="5" height="4.8" fill="#b0dcdf"/>
<line x1="544.5" y1="304.3" x2="549.5" y2="304.3" stroke="#00abb2" stroke-width="0.9"/>
<text transform="translate(553.2,306.2) scale(0.88,1)" font-size="5.9" text-anchor="start" fill="#000">Low</text>
<path d="M398.2,323.4 L400.4,323.4 L400.4,330.9 L402,330.9 L402,335.2 L403.6,335.2 L403.6,339.5 L405.2,339.5 L405.2,343.9 L406.8,343.9 L406.8,348.2 L408.5,348.2 L408.5,351.9 L410.1,351.9 L410.1,355.7 L411.7,355.7 L411.7,357.1 L413.4,357.1 L413.4,358.4 L415,358.4 L415,359.8 L416.5,359.8 L416.5,361.1 L418.1,361.1 L418.1,362.3 L419.6,362.3 L419.6,363.6 L421.1,363.6 L421.1,365.5 L422.6,365.5 L422.6,367.4 L424.5,367.4 L424.5,368.1 L426.4,368.1 L426.4,368.9 L428.3,368.9 L428.3,369.6 L430.2,369.6 L430.2,370.4 L431.8,370.4 L431.8,372.3 L433.3,372.3 L433.3,374.2 L439.3,374.2 L439.3,384.1 L446.7,384.1 L446.7,383.5 L665.3,383.5 L665.3,411.7 L440.4,411.7 L440.2,399.9 L440.2,394 L437.8,394 L437.8,393.2 L435.6,393.2 L435.6,392.5 L433.3,392.5 L433.3,389.4 L431.8,389.4 L431.8,386.4 L430.2,386.4 L430.2,385.4 L428.3,385.4 L428.3,384.5 L426.4,384.5 L426.4,383.6 L424.5,383.6 L424.5,382.6 L422.6,382.6 L422.6,381.1 L421.1,381.1 L421.1,379.5 L419.6,379.5 L419.6,377.5 L418.1,377.5 L418.1,375.5 L416.5,375.5 L416.5,373.5 L415,373.5 L415,369.7 L413.3,369.7 L413.3,366.4 L411.7,366.4 L411.7,363.2 L410.1,363.2 L410.1,359.4 L408.5,359.4 L408.5,355.7 L406.8,355.7 L406.8,351.9 L405.2,351.9 L405.2,348.2 L403.6,348.2 L403.6,342.8 L402,342.8 L402,337.4 L400.4,337.4 L400.4,327.7 L398.8,327.7 L398.8,323.4 L398.2,323.4 Z" fill="#f6cfcf"/>
<path d="M398.2,323.4 L400,323.4 L400,325.2 L401.8,325.2 L401.8,327 L403.6,327 L403.6,328.8 L405.8,328.8 L405.8,331.5 L407.9,331.5 L407.9,334.2 L410,334.2 L410,337.7 L412.2,337.7 L412.2,341.2 L413.6,341.2 L413.6,341.8 L415,341.8 L415,342.3 L416.9,342.3 L416.9,342.9 L418.8,342.9 L418.8,343.5 L420.7,343.5 L420.7,344 L422.6,344 L422.6,344.6 L424.1,344.6 L424.1,345.3 L425.7,345.3 L425.7,346.1 L427.2,346.1 L427.2,346.8 L429.2,346.8 L429.2,347.6 L431.3,347.6 L431.3,348.3 L433.3,348.3 L433.3,349.1 L435.3,349.1 L435.3,349.9 L437.3,349.9 L437.3,350.6 L439.3,350.6 L439.3,351.4 L446.9,351.4 L446.9,358.4 L475.2,358.4 L475.2,415.8 L446.9,415.8 L446.9,390.2 L440.1,390.2 L440.1,380.3 L439.3,380.3 L439.3,379.5 L437.5,379.5 L437.5,378.8 L435.8,378.8 L435.8,378 L434,378 L434,373.5 L433.3,373.5 L433.3,371.9 L431.8,371.9 L431.8,370.4 L430.2,370.4 L430.2,368.5 L428.3,368.5 L428.3,366.6 L426.4,366.6 L426.4,363.6 L424.5,363.6 L424.5,360.5 L422.6,360.5 L422.6,359.4 L421.1,359.4 L421.1,358.3 L419.6,358.3 L419.6,357.5 L418.1,357.5 L418.1,356.8 L416.5,356.8 L416.5,356 L415,356 L415,354.8 L413.6,354.8 L413.6,353.5 L412.2,353.5 L412.2,348.1 L410.6,348.1 L410.6,342.8 L409,342.8 L409,339.9 L407.2,339.9 L407.2,337.1 L405.4,337.1 L405.4,334.2 L403.6,334.2 L403.6,329.9 L401.5,329.9 L401.5,325.5 L399.3,325.5 L399.3,323.4 L398.2,323.4 Z" fill="#b0dcdf"/>
<path d="M398.2,323.4 L400,323.4 L400,325.2 L401.8,325.2 L401.8,327 L403.6,327 L403.6,328.8 L405.8,328.8 L405.8,331.5 L407.9,331.5 L407.9,334.2 L410,334.2 L410,337.7 L412.2,337.7 L412.2,341.2 L413.6,341.2 L413.6,341.8 L415,341.8 L415,342.3 L416.9,342.3 L416.9,342.9 L418.8,342.9 L418.8,343.5 L420.7,343.5 L420.7,344 L422.6,344 L422.6,344.6 L424.1,344.6 L424.1,345.3 L425.7,345.3 L425.7,346.1 L427.2,346.1 L427.2,346.8 L429.2,346.8 L429.2,347.6 L431.3,347.6 L431.3,348.3 L433.3,348.3 L433.3,349.1 L435.3,349.1 L435.3,349.9 L437.3,349.9 L437.3,350.6 L439.3,350.6 L439.3,351.4 L446.9,351.4 L446.9,358.4 L475.2,358.4 L475.2,415.8 L446.9,415.8 L446.9,390.2 L440.1,390.2 L440.1,380.3 L439.3,380.3 L439.3,379.5 L437.5,379.5 L437.5,378.8 L435.8,378.8 L435.8,378 L434,378 L434,373.5 L433.3,373.5 L433.3,371.9 L431.8,371.9 L431.8,370.4 L430.2,370.4 L430.2,368.5 L428.3,368.5 L428.3,366.6 L426.4,366.6 L426.4,363.6 L424.5,363.6 L424.5,360.5 L422.6,360.5 L422.6,359.4 L421.1,359.4 L421.1,358.3 L419.6,358.3 L419.6,357.5 L418.1,357.5 L418.1,356.8 L416.5,356.8 L416.5,356 L415,356 L415,354.8 L413.6,354.8 L413.6,353.5 L412.2,353.5 L412.2,348.1 L410.6,348.1 L410.6,342.8 L409,342.8 L409,339.9 L407.2,339.9 L407.2,337.1 L405.4,337.1 L405.4,334.2 L403.6,334.2 L403.6,329.9 L401.5,329.9 L401.5,325.5 L399.3,325.5 L399.3,323.4 L398.2,323.4 Z" fill="#b4c9cb" clip-path="url(#cr7)"/>
<path d="M397.7,388.6 L447.2,388.6" fill="none" stroke="#262626" stroke-width="0.8" stroke-dasharray="1.6,1.8"/>
<path d="M435.4,388.6 L435.4,453.6" fill="none" stroke="#262626" stroke-width="0.8" stroke-dasharray="1.6,1.8"/>
<path d="M447.2,388.6 L447.2,453.6" fill="none" stroke="#262626" stroke-width="0.8" stroke-dasharray="1.6,1.8"/>
<path d="M398.2,323.4 L399.3,323.4 L399.3,328.8 L401.5,328.8 L401.5,339.5 L403.1,339.5 L403.1,343.9 L404.7,343.9 L404.7,348.2 L406.3,348.2 L406.3,351.9 L407.9,351.9 L407.9,355.7 L409.5,355.7 L409.5,358.9 L411.2,358.9 L411.2,362.2 L412.5,362.2 L412.5,363.7 L413.7,363.7 L413.7,365.1 L415,365.1 L415,366.6 L416.1,366.6 L416.1,368.5 L417.3,368.5 L417.3,370.4 L418.8,370.4 L418.8,373 L420.3,373 L420.3,375.7 L421.8,375.7 L421.8,376.6 L423.4,376.6 L423.4,377.6 L424.9,377.6 L424.9,378.6 L426.4,378.6 L426.4,379.5 L427.8,379.5 L427.8,379.8 L429.2,379.8 L429.2,380.1 L430.5,380.1 L430.5,380.5 L431.9,380.5 L431.9,380.8 L433.3,380.8 L433.3,381.1 L434,381.1 L434,385.6 L435.5,385.6 L435.5,389.4 L436.6,389.4 L436.6,390 L437.8,390 L437.8,390.6 L439,390.6 L439,392.3 L440.1,392.3 L440.1,394 L441.2,394 L441.2,398.9 L665.3,398.9" fill="none" stroke="#e97a74" stroke-width="1.25"/>
<path d="M398.2,323.4 L399.3,323.4 L399.3,328.8 L401.5,328.8 L401.5,339.5 L403.1,339.5 L403.1,343.9 L404.7,343.9 L404.7,348.2 L406.3,348.2 L406.3,351.9 L407.9,351.9 L407.9,355.7 L409.5,355.7 L409.5,358.9 L411.2,358.9 L411.2,362.2 L412.5,362.2 L412.5,363.7 L413.7,363.7 L413.7,365.1 L415,365.1 L415,366.6 L416.1,366.6 L416.1,368.5 L417.3,368.5 L417.3,370.4 L418.8,370.4 L418.8,373 L420.3,373 L420.3,375.7 L421.8,375.7 L421.8,376.6 L423.4,376.6 L423.4,377.6 L424.9,377.6 L424.9,378.6 L426.4,378.6 L426.4,379.5 L427.8,379.5 L427.8,379.8 L429.2,379.8 L429.2,380.1 L430.5,380.1 L430.5,380.5 L431.9,380.5 L431.9,380.8 L433.3,380.8 L433.3,381.1 L434,381.1 L434,385.6 L435.5,385.6 L435.5,389.4 L436.6,389.4 L436.6,390 L437.8,390 L437.8,390.6 L439,390.6 L439,392.3 L440.1,392.3 L440.1,394 L441.2,394 L441.2,398.9 L665.3,398.9" fill="none" stroke="#c48a84" stroke-width="1.25" clip-path="url(#ct8)"/>
<path d="M441,392.8 V395.2 M440.1,394 H441.9" stroke="#e97a74" stroke-width="0.7" fill="none"/>
<path d="M444,397.6 V400.1 M443.1,398.9 H444.9" stroke="#e97a74" stroke-width="0.7" fill="none"/>
<path d="M448,397.6 V400.1 M447.1,398.9 H448.9" stroke="#e97a74" stroke-width="0.7" fill="none"/>
<path d="M452,397.6 V400.1 M451.1,398.9 H452.9" stroke="#e97a74" stroke-width="0.7" fill="none"/>
<path d="M455,397.6 V400.1 M454.1,398.9 H455.9" stroke="#e97a74" stroke-width="0.7" fill="none"/>
<path d="M460,397.6 V400.1 M459.1,398.9 H460.9" stroke="#e97a74" stroke-width="0.7" fill="none"/>
<path d="M481,397.6 V400.1 M480.1,398.9 H481.9" stroke="#e97a74" stroke-width="0.7" fill="none"/>
<path d="M498,397.6 V400.1 M497.1,398.9 H498.9" stroke="#e97a74" stroke-width="0.7" fill="none"/>
<path d="M518,397.6 V400.1 M517.1,398.9 H518.9" stroke="#e97a74" stroke-width="0.7" fill="none"/>
<path d="M580,397.6 V400.1 M579.1,398.9 H580.9" stroke="#e97a74" stroke-width="0.7" fill="none"/>
<path d="M665,397.6 V400.1 M664.1,398.9 H665.9" stroke="#e97a74" stroke-width="0.7" fill="none"/>
<path d="M398.2,323.4 L399.9,323.4 L399.9,326.1 L401.5,326.1 L401.5,328.8 L402.9,328.8 L402.9,330.6 L404.4,330.6 L404.4,332.4 L405.8,332.4 L405.8,334.2 L407.4,334.2 L407.4,336.4 L409,336.4 L409,338.5 L411.2,338.5 L411.2,340.6 L412.2,340.6 L412.2,346 L413.6,346 L413.6,347.6 L415,347.6 L415,349.1 L416.5,349.1 L416.5,350.2 L418,350.2 L418,351.4 L419.3,351.4 L419.3,351.7 L420.5,351.7 L420.5,351.9 L421.8,351.9 L421.8,352.2 L423.4,352.2 L423.4,354.1 L424.9,354.1 L424.9,356 L426,356 L426,357.1 L427.2,357.1 L427.2,358.3 L428.7,358.3 L428.7,360.2 L430.2,360.2 L430.2,362.1 L431.8,362.1 L431.8,364.4 L433.3,364.4 L433.3,366.6 L434.6,366.6 L434.6,366.8 L436,366.8 L436,367 L437.3,367 L437.3,367.2 L438.6,367.2 L438.6,367.4 L439.3,367.4 L439.3,373.5 L440.8,373.5 L440.8,373.6 L442.2,373.6 L442.2,373.6 L443.7,373.6 L443.7,373.7 L445.1,373.7 L445.1,373.7 L446.6,373.7 L446.6,373.8 L446.9,393.9 L475.2,393.9" fill="none" stroke="#00abb2" stroke-width="1.25"/>
<path d="M448.5,392.6 V395.1 M447.6,393.9 H449.4" stroke="#00abb2" stroke-width="0.7" fill="none"/>
<path d="M451,392.6 V395.1 M450.1,393.9 H451.9" stroke="#00abb2" stroke-width="0.7" fill="none"/>
<path d="M453,392.6 V395.1 M452.1,393.9 H453.9" stroke="#00abb2" stroke-width="0.7" fill="none"/>
<path d="M455,392.6 V395.1 M454.1,393.9 H455.9" stroke="#00abb2" stroke-width="0.7" fill="none"/>
<path d="M457.5,392.6 V395.1 M456.6,393.9 H458.4" stroke="#00abb2" stroke-width="0.7" fill="none"/>
<path d="M460,392.6 V395.1 M459.1,393.9 H460.9" stroke="#00abb2" stroke-width="0.7" fill="none"/>
<path d="M463,392.6 V395.1 M462.1,393.9 H463.9" stroke="#00abb2" stroke-width="0.7" fill="none"/>
<path d="M466,392.6 V395.1 M465.1,393.9 H466.9" stroke="#00abb2" stroke-width="0.7" fill="none"/>
<path d="M470,392.6 V395.1 M469.1,393.9 H470.9" stroke="#00abb2" stroke-width="0.7" fill="none"/>
<path d="M474.5,392.6 V395.1 M473.6,393.9 H475.4" stroke="#00abb2" stroke-width="0.7" fill="none"/>
<path d="M384.3,317.5 L384.3,460.2 L682.7,460.2" fill="none" stroke="#8c8c8c" stroke-width="1.6" stroke-linejoin="round" stroke-linecap="round"/>
<line x1="382.3" y1="454" x2="384.3" y2="454" stroke="#222" stroke-width="0.8"/>
<text transform="translate(381.3,456) scale(0.88,1)" font-size="6" text-anchor="end" fill="#4a4a4a">0.00</text>
<line x1="382.3" y1="421.3" x2="384.3" y2="421.3" stroke="#222" stroke-width="0.8"/>
<text transform="translate(381.3,423.3) scale(0.88,1)" font-size="6" text-anchor="end" fill="#4a4a4a">0.25</text>
<line x1="382.3" y1="388.6" x2="384.3" y2="388.6" stroke="#222" stroke-width="0.8"/>
<text transform="translate(381.3,390.6) scale(0.88,1)" font-size="6" text-anchor="end" fill="#4a4a4a">0.50</text>
<line x1="382.3" y1="356" x2="384.3" y2="356" stroke="#222" stroke-width="0.8"/>
<text transform="translate(381.3,358) scale(0.88,1)" font-size="6" text-anchor="end" fill="#4a4a4a">0.75</text>
<line x1="382.3" y1="323.3" x2="384.3" y2="323.3" stroke="#222" stroke-width="0.8"/>
<text transform="translate(381.3,325.3) scale(0.88,1)" font-size="6" text-anchor="end" fill="#4a4a4a">1.00</text>
<line x1="398.1" y1="460.2" x2="398.1" y2="462" stroke="#222" stroke-width="0.8"/>
<text transform="translate(398.1,467.2) scale(0.88,1)" font-size="6" text-anchor="middle" fill="#4a4a4a">0</text>
<line x1="413.2" y1="460.2" x2="413.2" y2="462" stroke="#222" stroke-width="0.8"/>
<text transform="translate(413.2,467.2) scale(0.88,1)" font-size="6" text-anchor="middle" fill="#4a4a4a">10</text>
<line x1="428.3" y1="460.2" x2="428.3" y2="462" stroke="#222" stroke-width="0.8"/>
<text transform="translate(428.3,467.2) scale(0.88,1)" font-size="6" text-anchor="middle" fill="#4a4a4a">20</text>
<line x1="443.4" y1="460.2" x2="443.4" y2="462" stroke="#222" stroke-width="0.8"/>
<text transform="translate(443.4,467.2) scale(0.88,1)" font-size="6" text-anchor="middle" fill="#4a4a4a">30</text>
<line x1="458.4" y1="460.2" x2="458.4" y2="462" stroke="#222" stroke-width="0.8"/>
<text transform="translate(458.4,467.2) scale(0.88,1)" font-size="6" text-anchor="middle" fill="#4a4a4a">40</text>
<line x1="473.5" y1="460.2" x2="473.5" y2="462" stroke="#222" stroke-width="0.8"/>
<text transform="translate(473.5,467.2) scale(0.88,1)" font-size="6" text-anchor="middle" fill="#4a4a4a">50</text>
<line x1="488.6" y1="460.2" x2="488.6" y2="462" stroke="#222" stroke-width="0.8"/>
<text transform="translate(488.6,467.2) scale(0.88,1)" font-size="6" text-anchor="middle" fill="#4a4a4a">60</text>
<line x1="503.7" y1="460.2" x2="503.7" y2="462" stroke="#222" stroke-width="0.8"/>
<text transform="translate(503.7,467.2) scale(0.88,1)" font-size="6" text-anchor="middle" fill="#4a4a4a">70</text>
<line x1="518.8" y1="460.2" x2="518.8" y2="462" stroke="#222" stroke-width="0.8"/>
<text transform="translate(518.8,467.2) scale(0.88,1)" font-size="6" text-anchor="middle" fill="#4a4a4a">80</text>
<line x1="533.9" y1="460.2" x2="533.9" y2="462" stroke="#222" stroke-width="0.8"/>
<text transform="translate(533.9,467.2) scale(0.88,1)" font-size="6" text-anchor="middle" fill="#4a4a4a">90</text>
<line x1="548.9" y1="460.2" x2="548.9" y2="462" stroke="#222" stroke-width="0.8"/>
<text transform="translate(548.9,467.2) scale(0.88,1)" font-size="6" text-anchor="middle" fill="#4a4a4a">100</text>
<line x1="564" y1="460.2" x2="564" y2="462" stroke="#222" stroke-width="0.8"/>
<text transform="translate(564,467.2) scale(0.88,1)" font-size="6" text-anchor="middle" fill="#4a4a4a">110</text>
<line x1="579.1" y1="460.2" x2="579.1" y2="462" stroke="#222" stroke-width="0.8"/>
<text transform="translate(579.1,467.2) scale(0.88,1)" font-size="6" text-anchor="middle" fill="#4a4a4a">120</text>
<line x1="594.2" y1="460.2" x2="594.2" y2="462" stroke="#222" stroke-width="0.8"/>
<text transform="translate(594.2,467.2) scale(0.88,1)" font-size="6" text-anchor="middle" fill="#4a4a4a">130</text>
<line x1="609.3" y1="460.2" x2="609.3" y2="462" stroke="#222" stroke-width="0.8"/>
<text transform="translate(609.3,467.2) scale(0.88,1)" font-size="6" text-anchor="middle" fill="#4a4a4a">140</text>
<line x1="624.4" y1="460.2" x2="624.4" y2="462" stroke="#222" stroke-width="0.8"/>
<text transform="translate(624.4,467.2) scale(0.88,1)" font-size="6" text-anchor="middle" fill="#4a4a4a">150</text>
<line x1="639.4" y1="460.2" x2="639.4" y2="462" stroke="#222" stroke-width="0.8"/>
<text transform="translate(639.4,467.2) scale(0.88,1)" font-size="6" text-anchor="middle" fill="#4a4a4a">160</text>
<line x1="654.5" y1="460.2" x2="654.5" y2="462" stroke="#222" stroke-width="0.8"/>
<text transform="translate(654.5,467.2) scale(0.88,1)" font-size="6" text-anchor="middle" fill="#4a4a4a">170</text>
<line x1="669.6" y1="460.2" x2="669.6" y2="462" stroke="#222" stroke-width="0.8"/>
<text transform="translate(669.6,467.2) scale(0.88,1)" font-size="6" text-anchor="middle" fill="#4a4a4a">180</text>
<text transform="translate(533.9,474) scale(0.88,1)" font-size="7.5" text-anchor="middle" fill="#000">Time (Days)</text>
<text transform="translate(369.3,388.6) scale(0.88,1) rotate(-90)" font-size="6.6" text-anchor="middle" fill="#000">Hospital Survival probability</text>
<text transform="translate(534.1,426.2) scale(0.88,1)" font-size="5.3" text-anchor="start" fill="#000">Log rank P &lt;0.001</text>
<text transform="translate(534.1,433) scale(0.88,1)" font-size="5.3" text-anchor="start" fill="#000">HR (95%CI): 0.534 (0.392 - 0.727)</text>
<text transform="translate(385.4,487.3) scale(0.88,1)" font-size="8.9" text-anchor="start" fill="#000">Number at risk</text>
<text transform="translate(382.3,500.6) scale(0.88,1)" font-size="5.7" text-anchor="end" fill="#e97a74">High</text>
<text transform="translate(382.3,513.7) scale(0.88,1)" font-size="5.7" text-anchor="end" fill="#00abb2">Low</text>
<text transform="translate(399.1,501.1) scale(0.88,1)" font-size="6.5" text-anchor="middle" fill="#000">363</text>
<text transform="translate(414.2,501.1) scale(0.88,1)" font-size="6.5" text-anchor="middle" fill="#000">143</text>
<text transform="translate(429.3,501.1) scale(0.88,1)" font-size="6.5" text-anchor="middle" fill="#000">47</text>
<text transform="translate(444.4,501.1) scale(0.88,1)" font-size="6.5" text-anchor="middle" fill="#000">15</text>
<text transform="translate(459.4,501.1) scale(0.88,1)" font-size="6.5" text-anchor="middle" fill="#000">10</text>
<text transform="translate(474.5,501.1) scale(0.88,1)" font-size="6.5" text-anchor="middle" fill="#000">6</text>
<text transform="translate(489.6,501.1) scale(0.88,1)" font-size="6.5" text-anchor="middle" fill="#000">4</text>
<text transform="translate(504.7,501.1) scale(0.88,1)" font-size="6.5" text-anchor="middle" fill="#000">3</text>
<text transform="translate(519.8,501.1) scale(0.88,1)" font-size="6.5" text-anchor="middle" fill="#000">2</text>
<text transform="translate(534.9,501.1) scale(0.88,1)" font-size="6.5" text-anchor="middle" fill="#000">2</text>
<text transform="translate(549.9,501.1) scale(0.88,1)" font-size="6.5" text-anchor="middle" fill="#000">2</text>
<text transform="translate(565,501.1) scale(0.88,1)" font-size="6.5" text-anchor="middle" fill="#000">2</text>
<text transform="translate(580.1,501.1) scale(0.88,1)" font-size="6.5" text-anchor="middle" fill="#000">2</text>
<text transform="translate(595.2,501.1) scale(0.88,1)" font-size="6.5" text-anchor="middle" fill="#000">1</text>
<text transform="translate(610.3,501.1) scale(0.88,1)" font-size="6.5" text-anchor="middle" fill="#000">1</text>
<text transform="translate(625.4,501.1) scale(0.88,1)" font-size="6.5" text-anchor="middle" fill="#000">1</text>
<text transform="translate(640.4,501.1) scale(0.88,1)" font-size="6.5" text-anchor="middle" fill="#000">1</text>
<text transform="translate(655.5,501.1) scale(0.88,1)" font-size="6.5" text-anchor="middle" fill="#000">1</text>
<text transform="translate(670.6,501.1) scale(0.88,1)" font-size="6.5" text-anchor="middle" fill="#000">0</text>
<text transform="translate(399.1,514.1) scale(0.88,1)" font-size="6.5" text-anchor="middle" fill="#000">358</text>
<text transform="translate(414.2,514.1) scale(0.88,1)" font-size="6.5" text-anchor="middle" fill="#000">110</text>
<text transform="translate(429.3,514.1) scale(0.88,1)" font-size="6.5" text-anchor="middle" fill="#000">30</text>
<text transform="translate(444.4,514.1) scale(0.88,1)" font-size="6.5" text-anchor="middle" fill="#000">11</text>
<text transform="translate(459.4,514.1) scale(0.88,1)" font-size="6.5" text-anchor="middle" fill="#000">2</text>
<text transform="translate(474.5,514.1) scale(0.88,1)" font-size="6.5" text-anchor="middle" fill="#000">1</text>
<text transform="translate(489.6,514.1) scale(0.88,1)" font-size="6.5" text-anchor="middle" fill="#000">0</text>
<text transform="translate(504.7,514.1) scale(0.88,1)" font-size="6.5" text-anchor="middle" fill="#000">0</text>
<text transform="translate(519.8,514.1) scale(0.88,1)" font-size="6.5" text-anchor="middle" fill="#000">0</text>
<text transform="translate(534.9,514.1) scale(0.88,1)" font-size="6.5" text-anchor="middle" fill="#000">0</text>
<text transform="translate(549.9,514.1) scale(0.88,1)" font-size="6.5" text-anchor="middle" fill="#000">0</text>
<text transform="translate(565,514.1) scale(0.88,1)" font-size="6.5" text-anchor="middle" fill="#000">0</text>
<text transform="translate(580.1,514.1) scale(0.88,1)" font-size="6.5" text-anchor="middle" fill="#000">0</text>
<text transform="translate(595.2,514.1) scale(0.88,1)" font-size="6.5" text-anchor="middle" fill="#000">0</text>
<text transform="translate(610.3,514.1) scale(0.88,1)" font-size="6.5" text-anchor="middle" fill="#000">0</text>
<text transform="translate(625.4,514.1) scale(0.88,1)" font-size="6.5" text-anchor="middle" fill="#000">0</text>
<text transform="translate(640.4,514.1) scale(0.88,1)" font-size="6.5" text-anchor="middle" fill="#000">0</text>
<text transform="translate(655.5,514.1) scale(0.88,1)" font-size="6.5" text-anchor="middle" fill="#000">0</text>
<text transform="translate(670.6,514.1) scale(0.88,1)" font-size="6.5" text-anchor="middle" fill="#000">0</text>
<text transform="translate(10.5,582.4) scale(0.88,1)" font-size="26.3" fill="#000">C</text>
<text transform="translate(153.8,579.8) scale(0.88,1)" font-size="7.8" text-anchor="start" fill="#000">RAR</text>
<rect x="171.4" y="574.8" width="5" height="4.8" fill="#f6cfcf"/>
<line x1="171.4" y1="577.2" x2="176.4" y2="577.2" stroke="#e97a74" stroke-width="0.9"/>
<text transform="translate(179.8,579.1) scale(0.88,1)" font-size="5.9" text-anchor="start" fill="#000">High</text>
<rect x="193.3" y="574.8" width="5" height="4.8" fill="#b0dcdf"/>
<line x1="193.3" y1="577.2" x2="198.3" y2="577.2" stroke="#00abb2" stroke-width="0.9"/>
<text transform="translate(202,579.1) scale(0.88,1)" font-size="5.9" text-anchor="start" fill="#000">Low</text>
<path d="M46.8,596.4 L48.5,596.4 L48.5,597.7 L50.3,597.7 L50.3,598.9 L52,598.9 L52,600.2 L53.9,600.2 L53.9,601.2 L55.9,601.2 L55.9,602.1 L57.8,602.1 L57.8,603.1 L59.4,603.1 L59.4,604.7 L60.9,604.7 L60.9,606.2 L62.5,606.2 L62.5,607.8 L64.2,607.8 L64.2,609.5 L66,609.5 L66,611.3 L68,611.3 L68,612.7 L69.9,612.7 L69.9,614 L71.9,614 L71.9,615.4 L73.7,615.4 L73.7,617.1 L75.4,617.1 L75.4,618.9 L77.2,618.9 L77.2,620.6 L78.9,620.6 L78.9,622.4 L80.8,622.4 L80.8,623.9 L82.8,623.9 L82.8,625.5 L84.7,625.5 L84.7,627 L86.3,627 L86.3,627.4 L87.8,627.4 L87.8,627.8 L89.4,627.8 L89.4,628.2 L90.5,628.2 L90.5,630.5 L98.7,630.5 L101.1,630.5 L101.1,636.4 L102.6,636.4 L102.6,637.6 L104.2,637.6 L104.2,638.7 L105.7,638.7 L105.7,639.9 L108.1,639.9 L108.1,641.1 L109.8,641.1 L109.8,641.3 L111.5,641.3 L111.5,641.5 L113.3,641.5 L113.3,641.8 L115,641.8 L115,642 L116.7,642 L116.7,642.2 L118.4,642.2 L118.4,642.4 L120.2,642.4 L120.2,642.6 L121.9,642.6 L121.9,642.8 L123.6,642.8 L123.6,643 L123.6,651.5 L175.6,651.5 L175.6,652.6 L193.7,652.6 L193.7,655.7 L298.5,655.7 L298.5,633.4 L315.1,633.4 L315.1,722.1 L298.5,722.1 L298.5,701.6 L193.7,701.6 L193.7,691.6 L175.6,691.6 L175.6,690.9 L171.4,690.9 L171.4,683.3 L127.5,683.3 L127.5,672.1 L120.6,672.1 L120.6,670.7 L118.7,670.7 L118.7,669.4 L116.9,669.4 L116.9,668 L115,668 L115,667.7 L113.3,667.7 L113.3,667.4 L111.5,667.4 L111.5,667 L109.8,667 L109.8,666.7 L108.1,666.7 L108.1,662.1 L105.7,662.1 L105.7,659.8 L104,659.8 L104,657.4 L102.2,657.4 L102.2,655.1 L99.9,655.1 L99.9,653.4 L98.2,653.4 L98.2,651.6 L96.4,651.6 L96.4,646.9 L94,646.9 L94,645.7 L92.5,645.7 L92.5,644.6 L90.9,644.6 L90.9,643.4 L89.4,643.4 L89.4,641.6 L87.7,641.6 L87.7,639.9 L85.9,639.9 L85.9,638.7 L84.2,638.7 L84.2,637.5 L82.4,637.5 L82.4,636.3 L80.8,636.3 L80.8,635.2 L79.3,635.2 L79.3,634 L77.7,634 L77.7,630.5 L76.5,630.5 L76.5,628.8 L74.8,628.8 L74.8,627 L73,627 L73,625.8 L71.5,625.8 L71.5,624.7 L69.9,624.7 L69.9,623.5 L68.4,623.5 L68.4,618.9 L66,618.9 L66,616.7 L64.1,616.7 L64.1,614.6 L62.1,614.6 L62.1,612.4 L60.2,612.4 L60.2,610.3 L58.2,610.3 L58.2,608.1 L56.3,608.1 L56.3,606 L54.3,606 L54.3,604.1 L52.4,604.1 L52.4,602.1 L50.4,602.1 L50.4,600.2 L48.5,600.2 L48.5,596.4 L46.8,596.4 Z" fill="#f6cfcf"/>
<path d="M46.8,596.4 L48.4,596.4 L48.4,596.9 L50.1,596.9 L50.1,597.5 L51.8,597.5 L51.8,598 L53.4,598 L53.4,598.5 L55.1,598.5 L55.1,599.1 L56.7,599.1 L56.7,599.6 L58.6,599.6 L58.6,600 L60.6,600 L60.6,600.4 L62.5,600.4 L62.5,600.8 L63.7,600.8 L63.7,603.1 L65.5,603.1 L65.5,603.4 L67.2,603.4 L67.2,603.7 L68.4,603.7 L68.4,606 L70.4,606 L70.4,606.1 L72.5,606.1 L72.5,606.3 L74.5,606.3 L74.5,606.5 L76.5,606.5 L76.5,606.6 L78.9,606.6 L78.9,609.5 L80.8,609.5 L80.8,609.9 L82.8,609.9 L82.8,610.3 L84.7,610.3 L84.7,610.7 L85.9,610.7 L85.9,612.4 L87.7,612.4 L87.7,612.5 L89.6,612.5 L89.6,612.6 L91.4,612.6 L91.4,612.7 L93.2,612.7 L93.2,612.7 L95,612.7 L95,612.8 L96.9,612.8 L96.9,612.9 L98.7,612.9 L98.7,613 L99.9,613 L99.9,616.5 L102.2,616.5 L102.2,619.4 L104.2,619.4 L104.2,619.6 L106.1,619.6 L106.1,619.8 L108.1,619.8 L108.1,620 L108.6,620 L108.6,622.5 L123.6,622.7 L123.6,626.1 L149.8,626.1 L149.8,628.9 L163.8,628.9 L163.8,633.1 L171.8,633.1 L171.8,637.3 L180.2,637.3 L180.2,642.9 L267.7,642.9 L267.7,717.8 L180.2,717.8 L180.2,707.6 L171.4,707.6 L171.4,694.4 L163.8,694.4 L163.8,682.5 L149.8,682.5 L149.8,670.7 L123.6,670.7 L123.6,663 L123.6,662.8 L121.9,662.8 L121.9,662.6 L120.2,662.6 L120.2,662.4 L118.4,662.4 L118.4,662.2 L116.7,662.2 L116.7,662 L115,662 L115,660.9 L113.3,660.9 L113.3,659.7 L111.5,659.7 L111.5,658.5 L109.8,658.5 L109.8,657.4 L108.1,657.4 L108.1,655.1 L106.1,655.1 L106.1,652.7 L104.2,652.7 L104.2,650.4 L102.2,650.4 L102.2,646.9 L99.9,646.9 L99.9,641.1 L97.6,641.1 L97.6,640.2 L95.8,640.2 L95.8,639.3 L94,639.3 L94,638.4 L92.3,638.4 L92.3,637.5 L90.5,637.5 L90.5,636.3 L88.6,636.3 L88.6,635.2 L86.6,635.2 L86.6,634 L84.7,634 L84.7,632.5 L82.8,632.5 L82.8,630.9 L80.8,630.9 L80.8,629.4 L78.9,629.4 L78.9,622.4 L77.7,622.4 L77.7,621.5 L76,621.5 L76,620.6 L74.2,620.6 L74.2,619.8 L72.5,619.8 L72.5,618.9 L70.7,618.9 L70.7,616.5 L68.4,616.5 L68.4,614.2 L66.4,614.2 L66.4,611.8 L64.5,611.8 L64.5,609.5 L62.5,609.5 L62.5,607.9 L60.6,607.9 L60.6,606.4 L58.6,606.4 L58.6,604.8 L56.7,604.8 L56.7,603.6 L55.1,603.6 L55.1,602.5 L53.4,602.5 L53.4,601.3 L51.8,601.3 L51.8,600.2 L50.1,600.2 L50.1,599 L48.5,599 L48.5,596.4 L46.8,596.4 Z" fill="#b0dcdf"/>
<path d="M46.8,596.4 L48.4,596.4 L48.4,596.9 L50.1,596.9 L50.1,597.5 L51.8,597.5 L51.8,598 L53.4,598 L53.4,598.5 L55.1,598.5 L55.1,599.1 L56.7,599.1 L56.7,599.6 L58.6,599.6 L58.6,600 L60.6,600 L60.6,600.4 L62.5,600.4 L62.5,600.8 L63.7,600.8 L63.7,603.1 L65.5,603.1 L65.5,603.4 L67.2,603.4 L67.2,603.7 L68.4,603.7 L68.4,606 L70.4,606 L70.4,606.1 L72.5,606.1 L72.5,606.3 L74.5,606.3 L74.5,606.5 L76.5,606.5 L76.5,606.6 L78.9,606.6 L78.9,609.5 L80.8,609.5 L80.8,609.9 L82.8,609.9 L82.8,610.3 L84.7,610.3 L84.7,610.7 L85.9,610.7 L85.9,612.4 L87.7,612.4 L87.7,612.5 L89.6,612.5 L89.6,612.6 L91.4,612.6 L91.4,612.7 L93.2,612.7 L93.2,612.7 L95,612.7 L95,612.8 L96.9,612.8 L96.9,612.9 L98.7,612.9 L98.7,613 L99.9,613 L99.9,616.5 L102.2,616.5 L102.2,619.4 L104.2,619.4 L104.2,619.6 L106.1,619.6 L106.1,619.8 L108.1,619.8 L108.1,620 L108.6,620 L108.6,622.5 L123.6,622.7 L123.6,626.1 L149.8,626.1 L149.8,628.9 L163.8,628.9 L163.8,633.1 L171.8,633.1 L171.8,637.3 L180.2,637.3 L180.2,642.9 L267.7,642.9 L267.7,717.8 L180.2,717.8 L180.2,707.6 L171.4,707.6 L171.4,694.4 L163.8,694.4 L163.8,682.5 L149.8,682.5 L149.8,670.7 L123.6,670.7 L123.6,663 L123.6,662.8 L121.9,662.8 L121.9,662.6 L120.2,662.6 L120.2,662.4 L118.4,662.4 L118.4,662.2 L116.7,662.2 L116.7,662 L115,662 L115,660.9 L113.3,660.9 L113.3,659.7 L111.5,659.7 L111.5,658.5 L109.8,658.5 L109.8,657.4 L108.1,657.4 L108.1,655.1 L106.1,655.1 L106.1,652.7 L104.2,652.7 L104.2,650.4 L102.2,650.4 L102.2,646.9 L99.9,646.9 L99.9,641.1 L97.6,641.1 L97.6,640.2 L95.8,640.2 L95.8,639.3 L94,639.3 L94,638.4 L92.3,638.4 L92.3,637.5 L90.5,637.5 L90.5,636.3 L88.6,636.3 L88.6,635.2 L86.6,635.2 L86.6,634 L84.7,634 L84.7,632.5 L82.8,632.5 L82.8,630.9 L80.8,630.9 L80.8,629.4 L78.9,629.4 L78.9,622.4 L77.7,622.4 L77.7,621.5 L76,621.5 L76,620.6 L74.2,620.6 L74.2,619.8 L72.5,619.8 L72.5,618.9 L70.7,618.9 L70.7,616.5 L68.4,616.5 L68.4,614.2 L66.4,614.2 L66.4,611.8 L64.5,611.8 L64.5,609.5 L62.5,609.5 L62.5,607.9 L60.6,607.9 L60.6,606.4 L58.6,606.4 L58.6,604.8 L56.7,604.8 L56.7,603.6 L55.1,603.6 L55.1,602.5 L53.4,602.5 L53.4,601.3 L51.8,601.3 L51.8,600.2 L50.1,600.2 L50.1,599 L48.5,599 L48.5,596.4 L46.8,596.4 Z" fill="#b4c9cb" clip-path="url(#cr9)"/>
<path d="M46.2,661.7 L163.8,661.7" fill="none" stroke="#262626" stroke-width="0.8" stroke-dasharray="1.6,1.8"/>
<path d="M120.6,661.7 L120.6,726.7" fill="none" stroke="#262626" stroke-width="0.8" stroke-dasharray="1.6,1.8"/>
<path d="M163.8,661.7 L163.8,726.7" fill="none" stroke="#262626" stroke-width="0.8" stroke-dasharray="1.6,1.8"/>
<path d="M46.8,596.4 L48.5,596.4 L48.5,598 L50.3,598 L50.3,599.7 L52,599.7 L52,601.3 L53.6,601.3 L53.6,602.9 L55.1,602.9 L55.1,604.4 L56.7,604.4 L56.7,606 L58.3,606 L58.3,607.2 L59.8,607.2 L59.8,608.3 L61.4,608.3 L61.4,609.5 L63.2,609.5 L63.2,611 L64.9,611 L64.9,612.4 L66.1,612.4 L66.1,613.9 L67.2,613.9 L67.2,615.4 L68.3,615.4 L68.3,616.8 L69.5,616.8 L69.5,618.3 L70.7,618.3 L70.7,619.1 L71.9,619.1 L71.9,620 L73.1,620 L73.1,621.2 L74.2,621.2 L74.2,622.4 L75.3,622.4 L75.3,624.1 L76.5,624.1 L76.5,625.9 L78.2,625.9 L78.2,627 L80,627 L80,628.2 L81.2,628.2 L81.2,630 L82.4,630 L82.4,631.7 L83.8,631.7 L83.8,631.8 L85.2,631.8 L85.2,631.9 L86.6,631.9 L86.6,632.1 L88,632.1 L88,632.2 L89.4,632.2 L89.4,632.3 L90.6,632.3 L90.6,635.5 L91.7,635.5 L91.7,638.7 L93.3,638.7 L93.3,639.9 L94.8,639.9 L94.8,641 L96.4,641 L96.4,642.2 L98.2,642.2 L98.2,644 L99.9,644 L99.9,645.7 L101.7,645.7 L101.7,647.5 L103.4,647.5 L103.4,649.2 L104.6,649.2 L104.6,651 L105.7,651 L105.7,652.7 L106.9,652.7 L106.9,654.2 L108.1,654.2 L108.1,655.6 L109.5,655.6 L109.5,655.8 L111,655.8 L111,655.9 L112.5,655.9 L112.5,656.1 L113.9,656.1 L113.9,656.2 L115.1,656.2 L115.1,657.7 L116.2,657.7 L116.2,659.2 L117.7,659.2 L117.7,659.3 L119.1,659.3 L119.1,659.5 L120.6,659.5 L120.6,659.6 L120.6,662.4 L126.1,662.4 L127.5,662.4 L127.5,665.9 L128.2,665.9 L128.2,669.3 L175.6,669.3 L175.6,675.6 L193.7,675.6 L193.7,684.2 L298.5,684.2 L298.5,705.7 L315.1,705.7" fill="none" stroke="#e97a74" stroke-width="1.25"/>
<path d="M46.8,596.4 L48.5,596.4 L48.5,598 L50.3,598 L50.3,599.7 L52,599.7 L52,601.3 L53.6,601.3 L53.6,602.9 L55.1,602.9 L55.1,604.4 L56.7,604.4 L56.7,606 L58.3,606 L58.3,607.2 L59.8,607.2 L59.8,608.3 L61.4,608.3 L61.4,609.5 L63.2,609.5 L63.2,611 L64.9,611 L64.9,612.4 L66.1,612.4 L66.1,613.9 L67.2,613.9 L67.2,615.4 L68.3,615.4 L68.3,616.8 L69.5,616.8 L69.5,618.3 L70.7,618.3 L70.7,619.1 L71.9,619.1 L71.9,620 L73.1,620 L73.1,621.2 L74.2,621.2 L74.2,622.4 L75.3,622.4 L75.3,624.1 L76.5,624.1 L76.5,625.9 L78.2,625.9 L78.2,627 L80,627 L80,628.2 L81.2,628.2 L81.2,630 L82.4,630 L82.4,631.7 L83.8,631.7 L83.8,631.8 L85.2,631.8 L85.2,631.9 L86.6,631.9 L86.6,632.1 L88,632.1 L88,632.2 L89.4,632.2 L89.4,632.3 L90.6,632.3 L90.6,635.5 L91.7,635.5 L91.7,638.7 L93.3,638.7 L93.3,639.9 L94.8,639.9 L94.8,641 L96.4,641 L96.4,642.2 L98.2,642.2 L98.2,644 L99.9,644 L99.9,645.7 L101.7,645.7 L101.7,647.5 L103.4,647.5 L103.4,649.2 L104.6,649.2 L104.6,651 L105.7,651 L105.7,652.7 L106.9,652.7 L106.9,654.2 L108.1,654.2 L108.1,655.6 L109.5,655.6 L109.5,655.8 L111,655.8 L111,655.9 L112.5,655.9 L112.5,656.1 L113.9,656.1 L113.9,656.2 L115.1,656.2 L115.1,657.7 L116.2,657.7 L116.2,659.2 L117.7,659.2 L117.7,659.3 L119.1,659.3 L119.1,659.5 L120.6,659.5 L120.6,659.6 L120.6,662.4 L126.1,662.4 L127.5,662.4 L127.5,665.9 L128.2,665.9 L128.2,669.3 L175.6,669.3 L175.6,675.6 L193.7,675.6 L193.7,684.2 L298.5,684.2 L298.5,705.7 L315.1,705.7" fill="none" stroke="#c48a84" stroke-width="1.25" clip-path="url(#ct10)"/>
<path d="M85,630.6 V633.1 M84.1,631.8 H85.9" stroke="#e97a74" stroke-width="0.7" fill="none"/>
<path d="M88,630.9 V633.4 M87.1,632.2 H88.9" stroke="#e97a74" stroke-width="0.7" fill="none"/>
<path d="M110,654.5 V657 M109.1,655.8 H110.9" stroke="#e97a74" stroke-width="0.7" fill="none"/>
<path d="M128.6,668 V670.5 M127.7,669.3 H129.5" stroke="#e97a74" stroke-width="0.7" fill="none"/>
<path d="M131.7,668 V670.5 M130.8,669.3 H132.6" stroke="#e97a74" stroke-width="0.7" fill="none"/>
<path d="M148.4,668 V670.5 M147.5,669.3 H149.3" stroke="#e97a74" stroke-width="0.7" fill="none"/>
<path d="M154.8,668 V670.5 M153.9,669.3 H155.7" stroke="#e97a74" stroke-width="0.7" fill="none"/>
<path d="M200.1,683 V685.5 M199.2,684.2 H201" stroke="#e97a74" stroke-width="0.7" fill="none"/>
<path d="M205.9,683 V685.5 M205,684.2 H206.8" stroke="#e97a74" stroke-width="0.7" fill="none"/>
<path d="M315,704.5 V707 M314.1,705.7 H315.9" stroke="#e97a74" stroke-width="0.7" fill="none"/>
<path d="M46.8,596.4 L48.5,596.4 L48.5,596.9 L50.3,596.9 L50.3,597.3 L52,597.3 L52,597.8 L53.4,597.8 L53.4,598.6 L54.7,598.6 L54.7,599.4 L56.1,599.4 L56.1,600.2 L57.8,600.2 L57.8,603.7 L62.5,603.7 L63.7,603.7 L63.7,606 L64.9,606 L64.9,608.4 L66.1,608.4 L66.1,609 L67.2,609 L67.2,609.5 L68.3,609.5 L68.3,612.1 L69.5,612.1 L69.5,614.8 L74.2,614.8 L75.3,614.8 L75.3,616.2 L76.5,616.2 L76.5,617.7 L77.7,617.7 L77.7,620 L78.9,620 L78.9,622.4 L80.3,622.4 L80.3,623 L81.7,623 L81.7,623.6 L83.1,623.6 L83.1,624.1 L84.5,624.1 L84.5,624.7 L85.9,624.7 L85.9,625.3 L87.4,625.3 L87.4,625.4 L88.8,625.4 L88.8,625.4 L90.3,625.4 L90.3,625.5 L91.8,625.5 L91.8,625.6 L93.2,625.6 L93.2,625.7 L94.7,625.7 L94.7,625.8 L96.1,625.8 L96.1,625.8 L97.6,625.8 L97.6,625.9 L99.3,625.9 L99.3,632.9 L100.8,632.9 L100.8,634.6 L102.2,634.6 L102.2,636.4 L104,636.4 L104,638.8 L105.7,638.8 L105.7,641.1 L106.9,641.1 L106.9,643 L108.1,643 L108.1,645 L123.6,645 L123.6,651.5 L149.8,651.5 L149.8,661 L163.8,661 L163.8,671.4 L171.4,671.4 L171.4,685.4 L180.2,685.4 L180.2,699.3 L267.7,699.3 L267.7,727.3" fill="none" stroke="#00abb2" stroke-width="1.25"/>
<path d="M58,602.5 V605 M57.1,603.7 H58.9" stroke="#00abb2" stroke-width="0.7" fill="none"/>
<path d="M60,602.5 V605 M59.1,603.7 H60.9" stroke="#00abb2" stroke-width="0.7" fill="none"/>
<path d="M72,613.5 V616 M71.1,614.8 H72.9" stroke="#00abb2" stroke-width="0.7" fill="none"/>
<path d="M92,624.3 V626.8 M91.1,625.6 H92.9" stroke="#00abb2" stroke-width="0.7" fill="none"/>
<path d="M130.7,650.2 V652.8 M129.8,651.5 H131.6" stroke="#00abb2" stroke-width="0.7" fill="none"/>
<path d="M133.3,650.2 V652.8 M132.4,651.5 H134.2" stroke="#00abb2" stroke-width="0.7" fill="none"/>
<path d="M155.2,659.8 V662.2 M154.3,661 H156.1" stroke="#00abb2" stroke-width="0.7" fill="none"/>
<path d="M158,659.8 V662.2 M157.1,661 H158.9" stroke="#00abb2" stroke-width="0.7" fill="none"/>
<path d="M162,659.8 V662.2 M161.1,661 H162.9" stroke="#00abb2" stroke-width="0.7" fill="none"/>
<path d="M185,698 V700.5 M184.1,699.3 H185.9" stroke="#00abb2" stroke-width="0.7" fill="none"/>
<path d="M204.2,698 V700.5 M203.3,699.3 H205.1" stroke="#00abb2" stroke-width="0.7" fill="none"/>
<path d="M32.9,590.7 L32.9,733.6 L331.1,733.6" fill="none" stroke="#8c8c8c" stroke-width="1.6" stroke-linejoin="round" stroke-linecap="round"/>
<line x1="30.9" y1="727" x2="32.9" y2="727" stroke="#222" stroke-width="0.8"/>
<text transform="translate(29.9,729) scale(0.88,1)" font-size="6" text-anchor="end" fill="#4a4a4a">0.00</text>
<line x1="30.9" y1="694.4" x2="32.9" y2="694.4" stroke="#222" stroke-width="0.8"/>
<text transform="translate(29.9,696.3) scale(0.88,1)" font-size="6" text-anchor="end" fill="#4a4a4a">0.25</text>
<line x1="30.9" y1="661.7" x2="32.9" y2="661.7" stroke="#222" stroke-width="0.8"/>
<text transform="translate(29.9,663.7) scale(0.88,1)" font-size="6" text-anchor="end" fill="#4a4a4a">0.50</text>
<line x1="30.9" y1="629" x2="32.9" y2="629" stroke="#222" stroke-width="0.8"/>
<text transform="translate(29.9,631) scale(0.88,1)" font-size="6" text-anchor="end" fill="#4a4a4a">0.75</text>
<line x1="30.9" y1="596.4" x2="32.9" y2="596.4" stroke="#222" stroke-width="0.8"/>
<text transform="translate(29.9,598.4) scale(0.88,1)" font-size="6" text-anchor="end" fill="#4a4a4a">1.00</text>
<line x1="47.1" y1="733.6" x2="47.1" y2="735.4" stroke="#222" stroke-width="0.8"/>
<text transform="translate(47.1,740.6) scale(0.88,1)" font-size="6" text-anchor="middle" fill="#4a4a4a">0</text>
<line x1="74.2" y1="733.6" x2="74.2" y2="735.4" stroke="#222" stroke-width="0.8"/>
<text transform="translate(74.2,740.6) scale(0.88,1)" font-size="6" text-anchor="middle" fill="#4a4a4a">8</text>
<line x1="101.3" y1="733.6" x2="101.3" y2="735.4" stroke="#222" stroke-width="0.8"/>
<text transform="translate(101.3,740.6) scale(0.88,1)" font-size="6" text-anchor="middle" fill="#4a4a4a">16</text>
<line x1="128.4" y1="733.6" x2="128.4" y2="735.4" stroke="#222" stroke-width="0.8"/>
<text transform="translate(128.4,740.6) scale(0.88,1)" font-size="6" text-anchor="middle" fill="#4a4a4a">24</text>
<line x1="155.5" y1="733.6" x2="155.5" y2="735.4" stroke="#222" stroke-width="0.8"/>
<text transform="translate(155.5,740.6) scale(0.88,1)" font-size="6" text-anchor="middle" fill="#4a4a4a">32</text>
<line x1="182.6" y1="733.6" x2="182.6" y2="735.4" stroke="#222" stroke-width="0.8"/>
<text transform="translate(182.6,740.6) scale(0.88,1)" font-size="6" text-anchor="middle" fill="#4a4a4a">40</text>
<line x1="209.7" y1="733.6" x2="209.7" y2="735.4" stroke="#222" stroke-width="0.8"/>
<text transform="translate(209.7,740.6) scale(0.88,1)" font-size="6" text-anchor="middle" fill="#4a4a4a">48</text>
<line x1="236.8" y1="733.6" x2="236.8" y2="735.4" stroke="#222" stroke-width="0.8"/>
<text transform="translate(236.8,740.6) scale(0.88,1)" font-size="6" text-anchor="middle" fill="#4a4a4a">56</text>
<line x1="263.9" y1="733.6" x2="263.9" y2="735.4" stroke="#222" stroke-width="0.8"/>
<text transform="translate(263.9,740.6) scale(0.88,1)" font-size="6" text-anchor="middle" fill="#4a4a4a">64</text>
<line x1="291" y1="733.6" x2="291" y2="735.4" stroke="#222" stroke-width="0.8"/>
<text transform="translate(291,740.6) scale(0.88,1)" font-size="6" text-anchor="middle" fill="#4a4a4a">72</text>
<line x1="318.1" y1="733.6" x2="318.1" y2="735.4" stroke="#222" stroke-width="0.8"/>
<text transform="translate(318.1,740.6) scale(0.88,1)" font-size="6" text-anchor="middle" fill="#4a4a4a">80</text>
<text transform="translate(182.3,747.4) scale(0.88,1)" font-size="7.5" text-anchor="middle" fill="#000">Time (Days)</text>
<text transform="translate(18.3,661.7) scale(0.88,1) rotate(-90)" font-size="6.6" text-anchor="middle" fill="#000">ICU Survival probability</text>
<text transform="translate(52,698.9) scale(0.88,1)" font-size="6.3" text-anchor="start" fill="#000">Log rank P = 0.184</text>
<text transform="translate(52,706.8) scale(0.88,1)" font-size="6.3" text-anchor="start" fill="#000">HR (95%CI): 0.754 (0.496 - 1.145)</text>
<text transform="translate(34,760.9) scale(0.88,1)" font-size="8.9" text-anchor="start" fill="#000">Number at risk</text>
<text transform="translate(30.9,774.3) scale(0.88,1)" font-size="5.7" text-anchor="end" fill="#e97a74">High</text>
<text transform="translate(30.9,786.8) scale(0.88,1)" font-size="5.7" text-anchor="end" fill="#00abb2">Low</text>
<text transform="translate(48.1,774.8) scale(0.88,1)" font-size="6.5" text-anchor="middle" fill="#000">389</text>
<text transform="translate(75.2,774.8) scale(0.88,1)" font-size="6.5" text-anchor="middle" fill="#000">84</text>
<text transform="translate(102.3,774.8) scale(0.88,1)" font-size="6.5" text-anchor="middle" fill="#000">34</text>
<text transform="translate(129.4,774.8) scale(0.88,1)" font-size="6.5" text-anchor="middle" fill="#000">18</text>
<text transform="translate(156.5,774.8) scale(0.88,1)" font-size="6.5" text-anchor="middle" fill="#000">11</text>
<text transform="translate(183.6,774.8) scale(0.88,1)" font-size="6.5" text-anchor="middle" fill="#000">7</text>
<text transform="translate(210.7,774.8) scale(0.88,1)" font-size="6.5" text-anchor="middle" fill="#000">2</text>
<text transform="translate(237.8,774.8) scale(0.88,1)" font-size="6.5" text-anchor="middle" fill="#000">2</text>
<text transform="translate(264.9,774.8) scale(0.88,1)" font-size="6.5" text-anchor="middle" fill="#000">2</text>
<text transform="translate(292,774.8) scale(0.88,1)" font-size="6.5" text-anchor="middle" fill="#000">2</text>
<text transform="translate(319.1,774.8) scale(0.88,1)" font-size="6.5" text-anchor="middle" fill="#000">0</text>
<text transform="translate(48.1,787.2) scale(0.88,1)" font-size="6.5" text-anchor="middle" fill="#000">380</text>
<text transform="translate(75.2,787.2) scale(0.88,1)" font-size="6.5" text-anchor="middle" fill="#000">50</text>
<text transform="translate(102.3,787.2) scale(0.88,1)" font-size="6.5" text-anchor="middle" fill="#000">19</text>
<text transform="translate(129.4,787.2) scale(0.88,1)" font-size="6.5" text-anchor="middle" fill="#000">11</text>
<text transform="translate(156.5,787.2) scale(0.88,1)" font-size="6.5" text-anchor="middle" fill="#000">7</text>
<text transform="translate(183.6,787.2) scale(0.88,1)" font-size="6.5" text-anchor="middle" fill="#000">2</text>
<text transform="translate(210.7,787.2) scale(0.88,1)" font-size="6.5" text-anchor="middle" fill="#000">1</text>
<text transform="translate(237.8,787.2) scale(0.88,1)" font-size="6.5" text-anchor="middle" fill="#000">1</text>
<text transform="translate(264.9,787.2) scale(0.88,1)" font-size="6.5" text-anchor="middle" fill="#000">1</text>
<text transform="translate(292,787.2) scale(0.88,1)" font-size="6.5" text-anchor="middle" fill="#000">0</text>
<text transform="translate(319.1,787.2) scale(0.88,1)" font-size="6.5" text-anchor="middle" fill="#000">0</text>
<text transform="translate(349.2,582.4) scale(0.88,1)" font-size="26.3" fill="#000">F</text>
<text transform="translate(504.7,580.3) scale(0.88,1)" font-size="7.8" text-anchor="start" fill="#000">RAR</text>
<rect x="522.3" y="575.3" width="5" height="4.8" fill="#f6cfcf"/>
<line x1="522.3" y1="577.7" x2="527.3" y2="577.7" stroke="#e97a74" stroke-width="0.9"/>
<text transform="translate(530.7,579.6) scale(0.88,1)" font-size="5.9" text-anchor="start" fill="#000">High</text>
<rect x="544.2" y="575.3" width="5" height="4.8" fill="#b0dcdf"/>
<line x1="544.2" y1="577.7" x2="549.2" y2="577.7" stroke="#00abb2" stroke-width="0.9"/>
<text transform="translate(552.9,579.6) scale(0.88,1)" font-size="5.9" text-anchor="start" fill="#000">Low</text>
<path d="M397.3,596.4 L399.1,596.4 L399.1,597.4 L400.8,597.4 L400.8,598.3 L402.6,598.3 L402.6,599.2 L404.3,599.2 L404.3,600.2 L405.9,600.2 L405.9,602.5 L407.4,602.5 L407.4,604.9 L409,604.9 L409,607.2 L410.9,607.2 L410.9,608.4 L412.8,608.4 L412.8,609.5 L414.6,609.5 L414.6,610.7 L416.5,610.7 L416.5,611.8 L418.4,611.8 L418.4,613 L420.3,613 L420.3,614.2 L422.3,614.2 L422.3,615.3 L424.2,615.3 L424.2,616.5 L426.1,616.5 L426.1,617.7 L428.1,617.7 L428.1,618.8 L430,618.8 L430,620 L431.9,620 L431.9,621 L433.9,621 L433.9,622 L435.9,622 L435.9,623 L437.8,623 L437.8,623.9 L439.8,623.9 L439.8,624.9 L441.7,624.9 L441.7,625.9 L443.6,625.9 L443.6,626.7 L445.6,626.7 L445.6,627.4 L447.5,627.4 L447.5,628.2 L449.5,628.2 L449.5,629 L451.4,629 L451.4,629.7 L453.4,629.7 L453.4,630.5 L455.3,630.5 L455.3,631.1 L457.3,631.1 L457.3,631.8 L459.2,631.8 L459.2,632.4 L461.1,632.4 L461.1,633 L463.1,633 L463.1,633.7 L465,633.7 L465,634.3 L466.8,634.3 L466.8,634.5 L468.6,634.5 L468.6,634.7 L470.5,634.7 L470.5,634.9 L472.3,634.9 L472.3,635 L474.1,635 L474.1,635.2 L476,635.2 L476,635.4 L477.8,635.4 L477.8,635.6 L479.6,635.6 L479.6,635.8 L481.4,635.8 L481.4,636.1 L483.2,636.1 L483.2,636.3 L485.1,636.3 L485.1,636.6 L486.9,636.6 L486.9,636.9 L488.7,636.9 L488.7,637.2 L490.6,637.2 L490.6,637.5 L492.4,637.5 L492.4,637.7 L494.2,637.7 L494.2,638 L496.4,638 L496.4,639.5 L498.6,639.5 L498.6,640.9 L500.5,640.9 L500.5,641.6 L502.5,641.6 L502.5,642.4 L504.4,642.4 L504.4,643.1 L506.1,643.1 L506.1,643.4 L507.8,643.4 L507.8,643.7 L509.5,643.7 L509.5,644.1 L511.2,644.1 L511.2,644.4 L512.9,644.4 L512.9,644.7 L514.6,644.7 L514.6,645 L516.3,645 L516.3,645.4 L518,645.4 L518,645.7 L519.7,645.7 L519.7,646 L521.4,646 L521.4,646.3 L523.2,646.3 L523.2,646.5 L524.9,646.5 L524.9,646.8 L526.6,646.8 L526.6,647.1 L528.3,647.1 L528.3,647.3 L530.1,647.3 L530.1,647.6 L531.8,647.6 L531.8,647.8 L533.5,647.8 L533.5,648.1 L535.2,648.1 L535.2,648.4 L537,648.4 L537,648.6 L538.7,648.6 L538.7,648.9 L540.5,648.9 L540.5,648.9 L542.4,648.9 L542.4,648.9 L544.2,648.9 L544.2,648.9 L546,648.9 L546,649 L547.9,649 L547.9,649 L549.7,649 L549.7,649 L551.5,649 L551.5,649 L553.4,649 L553.4,649 L555.2,649 L555.2,649 L557,649 L557,649.1 L558.9,649.1 L558.9,649.1 L560.7,649.1 L560.7,649.1 L562.5,649.1 L562.5,649.1 L564.3,649.1 L564.3,649.1 L566.2,649.1 L566.2,649.1 L568,649.1 L568,649.2 L569.8,649.2 L569.8,649.2 L571.7,649.2 L571.7,649.2 L573.5,649.2 L573.5,649.2 L575.3,649.2 L575.3,649.2 L577.2,649.2 L577.2,649.2 L579,649.2 L579,649.3 L580.8,649.3 L580.8,649.3 L582.7,649.3 L582.7,649.3 L584.5,649.3 L584.5,649.3 L584.5,650.3 L596.7,650.3 L596.7,653.5 L653.3,653.5 L653.3,712.1 L596.7,712.1 L596.7,701.6 L584.5,701.6 L584.5,687.8 L538.7,687.6 L538.7,686.9 L537,686.9 L537,686.3 L535.2,686.3 L535.2,685.6 L533.5,685.6 L533.5,684.9 L531.8,684.9 L531.8,684.3 L530.1,684.3 L530.1,683.6 L528.3,683.6 L528.3,683 L526.6,683 L526.6,682.3 L524.9,682.3 L524.9,681.6 L523.2,681.6 L523.2,681 L521.4,681 L521.4,680.3 L519.7,680.3 L519.7,679.7 L518,679.7 L518,679.1 L516.3,679.1 L516.3,678.4 L514.6,678.4 L514.6,677.8 L512.9,677.8 L512.9,677.2 L511.2,677.2 L511.2,676.6 L509.5,676.6 L509.5,675.9 L507.8,675.9 L507.8,675.3 L506.1,675.3 L506.1,674.7 L504.4,674.7 L504.4,672.9 L502.5,672.9 L502.5,671.1 L500.5,671.1 L500.5,669.3 L498.6,669.3 L498.6,666.8 L496.8,666.8 L496.8,664.2 L494.9,664.2 L494.9,663.8 L493.1,663.8 L493.1,663.3 L491.2,663.3 L491.2,662.9 L489.4,662.9 L489.4,662.4 L487.6,662.4 L487.6,662 L485.8,662 L485.8,661.5 L483.9,661.5 L483.9,661.1 L482.1,661.1 L482.1,660.6 L480.3,660.6 L480.3,659.1 L478.4,659.1 L478.4,657.7 L476.4,657.7 L476.4,656.2 L474.5,656.2 L474.5,654.7 L472.6,654.7 L472.6,653.3 L470.7,653.3 L470.7,651.8 L468.8,651.8 L468.8,650.4 L466.9,650.4 L466.9,648.9 L465,648.9 L465,648.4 L463.1,648.4 L463.1,647.8 L461.1,647.8 L461.1,647.3 L459.2,647.3 L459.2,646.8 L457.3,646.8 L457.3,646.2 L455.3,646.2 L455.3,645.7 L453.4,645.7 L453.4,644.5 L451.5,644.5 L451.5,643.4 L449.5,643.4 L449.5,642.2 L447.6,642.2 L447.6,640.6 L445.6,640.6 L445.6,639.1 L443.7,639.1 L443.7,637.5 L441.7,637.5 L441.7,636.3 L439.8,636.3 L439.8,635.2 L437.8,635.2 L437.8,634 L435.9,634 L435.9,632.8 L433.9,632.8 L433.9,631.7 L431.9,631.7 L431.9,630.5 L430,630.5 L430,629.1 L428.1,629.1 L428.1,627.8 L426.1,627.8 L426.1,626.5 L424.2,626.5 L424.2,625.1 L422.3,625.1 L422.3,623.8 L420.3,623.8 L420.3,622.4 L418.4,622.4 L418.4,620.4 L416.4,620.4 L416.4,618.5 L414.5,618.5 L414.5,616.5 L412.5,616.5 L412.5,614.2 L410.6,614.2 L410.6,611.8 L408.6,611.8 L408.6,609.5 L406.7,609.5 L406.7,607.2 L405.1,607.2 L405.1,604.8 L403.6,604.8 L403.6,602.5 L402,602.5 L402,600.5 L400.4,600.5 L400.4,598.4 L398.9,598.4 L398.9,596.4 L397.3,596.4 Z" fill="#f6cfcf"/>
<path d="M397.3,596.4 L399.2,596.4 L399.2,597 L401.1,597 L401.1,597.7 L402.9,597.7 L402.9,598.3 L404.8,598.3 L404.8,599 L406.7,599 L406.7,599.6 L408.6,599.6 L408.6,600.1 L410.6,600.1 L410.6,600.6 L412.5,600.6 L412.5,601 L414.5,601 L414.5,601.5 L416.4,601.5 L416.4,602 L418.4,602 L418.4,602.5 L420.3,602.5 L420.3,602.9 L422.3,602.9 L422.3,603.3 L424.2,603.3 L424.2,603.6 L426.1,603.6 L426.1,604 L428.1,604 L428.1,604.4 L430,604.4 L430,604.8 L431.9,604.8 L431.9,605.1 L433.9,605.1 L433.9,605.4 L435.9,605.4 L435.9,605.7 L437.8,605.7 L437.8,606 L439.8,606 L439.8,606.3 L441.7,606.3 L441.7,606.6 L443.6,606.6 L443.6,606.8 L445.6,606.8 L445.6,607 L447.5,607 L447.5,607.2 L449.5,607.2 L449.5,607.4 L451.4,607.4 L451.4,607.6 L453.4,607.6 L453.4,607.8 L465,608 L466.4,608 L466.4,609.5 L467.9,609.5 L467.9,611 L557.7,611 L557.7,608 L635.3,608 L635.3,660.8 L557.7,660.8 L557.7,638 L467.9,638 L467.9,627 L467.4,627 L467.4,626.9 L465.6,626.9 L465.6,626.8 L463.9,626.8 L463.9,626.6 L462.1,626.6 L462.1,626.5 L460.4,626.5 L460.4,625.6 L458.6,625.6 L458.6,624.8 L456.9,624.8 L456.9,623.9 L455.1,623.9 L455.1,623 L453.4,623 L453.4,618.9 L452.2,618.9 L452.2,618.8 L450.4,618.8 L450.4,618.7 L448.7,618.7 L448.7,618.6 L446.9,618.6 L446.9,618.5 L445.2,618.5 L445.2,618.4 L443.4,618.4 L443.4,618.3 L441.7,618.3 L441.7,617.9 L439.8,617.9 L439.8,617.6 L438,617.6 L438,617.2 L436.1,617.2 L436.1,616.9 L434.3,616.9 L434.3,616.5 L432.4,616.5 L432.4,613.6 L430,613.6 L430,612.8 L428.1,612.8 L428.1,612 L426.1,612 L426.1,611.2 L424.2,611.2 L424.2,610.5 L422.3,610.5 L422.3,609.7 L420.3,609.7 L420.3,608.9 L418.4,608.9 L418.4,607.9 L416.4,607.9 L416.4,607 L414.5,607 L414.5,606 L412.5,606 L412.5,605 L410.6,605 L410.6,604.1 L408.6,604.1 L408.6,603.1 L406.7,603.1 L406.7,601.7 L404.7,601.7 L404.7,600.4 L402.8,600.4 L402.8,599 L400.8,599 L400.8,597.7 L399.1,597.7 L399.1,596.4 L397.3,596.4 Z" fill="#b0dcdf"/>
<path d="M397.3,596.4 L399.2,596.4 L399.2,597 L401.1,597 L401.1,597.7 L402.9,597.7 L402.9,598.3 L404.8,598.3 L404.8,599 L406.7,599 L406.7,599.6 L408.6,599.6 L408.6,600.1 L410.6,600.1 L410.6,600.6 L412.5,600.6 L412.5,601 L414.5,601 L414.5,601.5 L416.4,601.5 L416.4,602 L418.4,602 L418.4,602.5 L420.3,602.5 L420.3,602.9 L422.3,602.9 L422.3,603.3 L424.2,603.3 L424.2,603.6 L426.1,603.6 L426.1,604 L428.1,604 L428.1,604.4 L430,604.4 L430,604.8 L431.9,604.8 L431.9,605.1 L433.9,605.1 L433.9,605.4 L435.9,605.4 L435.9,605.7 L437.8,605.7 L437.8,606 L439.8,606 L439.8,606.3 L441.7,606.3 L441.7,606.6 L443.6,606.6 L443.6,606.8 L445.6,606.8 L445.6,607 L447.5,607 L447.5,607.2 L449.5,607.2 L449.5,607.4 L451.4,607.4 L451.4,607.6 L453.4,607.6 L453.4,607.8 L465,608 L466.4,608 L466.4,609.5 L467.9,609.5 L467.9,611 L557.7,611 L557.7,608 L635.3,608 L635.3,660.8 L557.7,660.8 L557.7,638 L467.9,638 L467.9,627 L467.4,627 L467.4,626.9 L465.6,626.9 L465.6,626.8 L463.9,626.8 L463.9,626.6 L462.1,626.6 L462.1,626.5 L460.4,626.5 L460.4,625.6 L458.6,625.6 L458.6,624.8 L456.9,624.8 L456.9,623.9 L455.1,623.9 L455.1,623 L453.4,623 L453.4,618.9 L452.2,618.9 L452.2,618.8 L450.4,618.8 L450.4,618.7 L448.7,618.7 L448.7,618.6 L446.9,618.6 L446.9,618.5 L445.2,618.5 L445.2,618.4 L443.4,618.4 L443.4,618.3 L441.7,618.3 L441.7,617.9 L439.8,617.9 L439.8,617.6 L438,617.6 L438,617.2 L436.1,617.2 L436.1,616.9 L434.3,616.9 L434.3,616.5 L432.4,616.5 L432.4,613.6 L430,613.6 L430,612.8 L428.1,612.8 L428.1,612 L426.1,612 L426.1,611.2 L424.2,611.2 L424.2,610.5 L422.3,610.5 L422.3,609.7 L420.3,609.7 L420.3,608.9 L418.4,608.9 L418.4,607.9 L416.4,607.9 L416.4,607 L414.5,607 L414.5,606 L412.5,606 L412.5,605 L410.6,605 L410.6,604.1 L408.6,604.1 L408.6,603.1 L406.7,603.1 L406.7,601.7 L404.7,601.7 L404.7,600.4 L402.8,600.4 L402.8,599 L400.8,599 L400.8,597.7 L399.1,597.7 L399.1,596.4 L397.3,596.4 Z" fill="#b4c9cb" clip-path="url(#cr11)"/>
<path d="M397.8,661.7 L519.7,661.7" fill="none" stroke="#262626" stroke-width="0.8" stroke-dasharray="1.6,1.8"/>
<path d="M519.7,661.7 L519.7,726.7" fill="none" stroke="#262626" stroke-width="0.8" stroke-dasharray="1.6,1.8"/>
<path d="M397.3,596.4 L398.8,596.4 L398.8,597.6 L400.2,597.6 L400.2,598.8 L401.7,598.8 L401.7,600.1 L403.2,600.1 L403.2,601.3 L404.9,601.3 L404.9,603.6 L406.7,603.6 L406.7,606 L407.9,606 L407.9,608.6 L409,608.6 L409,611.3 L410.8,611.3 L410.8,612.5 L412.5,612.5 L412.5,613.6 L414,613.6 L414,614.6 L415.4,614.6 L415.4,615.7 L416.9,615.7 L416.9,616.7 L418.4,616.7 L418.4,617.7 L419.9,617.7 L419.9,618.9 L421.5,618.9 L421.5,620 L423,620 L423,621.2 L424.4,621.2 L424.4,622.4 L425.8,622.4 L425.8,623.5 L427.2,623.5 L427.2,624.7 L428.6,624.7 L428.6,625.8 L430,625.8 L430,627 L431.5,627 L431.5,627.6 L432.9,627.6 L432.9,628.2 L434.4,628.2 L434.4,628.8 L435.9,628.8 L435.9,629.4 L437.3,629.4 L437.3,630.3 L438.8,630.3 L438.8,631.1 L440.2,631.1 L440.2,632 L441.7,632 L441.7,632.9 L443.2,632.9 L443.2,633.8 L444.6,633.8 L444.6,634.6 L446.1,634.6 L446.1,635.5 L447.6,635.5 L447.6,636.4 L449.1,636.4 L449.1,637.1 L450.5,637.1 L450.5,637.8 L451.9,637.8 L451.9,638.6 L453.4,638.6 L453.4,639.3 L454.8,639.3 L454.8,639.5 L456.2,639.5 L456.2,639.8 L457.6,639.8 L457.6,640 L459,640 L459,640.3 L460.4,640.3 L460.4,640.5 L461.9,640.5 L461.9,641.6 L463.5,641.6 L463.5,642.7 L465,642.7 L465,643.8 L473.8,643.8 L474.5,643.8 L474.5,646.7 L480.3,647 L481.1,647 L481.1,650.1 L494.2,650.1 L495.7,650.1 L495.7,653.3 L497.1,653.3 L497.1,654.8 L498.6,654.8 L498.6,656.2 L503.7,656.2 L504.4,656.2 L504.4,661.3 L519.7,661.3 L519.7,665.7 L538.7,665.7 L538.7,671.7 L584.5,671.7 L584.5,682.5 L596.7,682.5 L596.7,693.7 L653.3,693.7" fill="none" stroke="#e97a74" stroke-width="1.25"/>
<path d="M397.3,596.4 L398.8,596.4 L398.8,597.6 L400.2,597.6 L400.2,598.8 L401.7,598.8 L401.7,600.1 L403.2,600.1 L403.2,601.3 L404.9,601.3 L404.9,603.6 L406.7,603.6 L406.7,606 L407.9,606 L407.9,608.6 L409,608.6 L409,611.3 L410.8,611.3 L410.8,612.5 L412.5,612.5 L412.5,613.6 L414,613.6 L414,614.6 L415.4,614.6 L415.4,615.7 L416.9,615.7 L416.9,616.7 L418.4,616.7 L418.4,617.7 L419.9,617.7 L419.9,618.9 L421.5,618.9 L421.5,620 L423,620 L423,621.2 L424.4,621.2 L424.4,622.4 L425.8,622.4 L425.8,623.5 L427.2,623.5 L427.2,624.7 L428.6,624.7 L428.6,625.8 L430,625.8 L430,627 L431.5,627 L431.5,627.6 L432.9,627.6 L432.9,628.2 L434.4,628.2 L434.4,628.8 L435.9,628.8 L435.9,629.4 L437.3,629.4 L437.3,630.3 L438.8,630.3 L438.8,631.1 L440.2,631.1 L440.2,632 L441.7,632 L441.7,632.9 L443.2,632.9 L443.2,633.8 L444.6,633.8 L444.6,634.6 L446.1,634.6 L446.1,635.5 L447.6,635.5 L447.6,636.4 L449.1,636.4 L449.1,637.1 L450.5,637.1 L450.5,637.8 L451.9,637.8 L451.9,638.6 L453.4,638.6 L453.4,639.3 L454.8,639.3 L454.8,639.5 L456.2,639.5 L456.2,639.8 L457.6,639.8 L457.6,640 L459,640 L459,640.3 L460.4,640.3 L460.4,640.5 L461.9,640.5 L461.9,641.6 L463.5,641.6 L463.5,642.7 L465,642.7 L465,643.8 L473.8,643.8 L474.5,643.8 L474.5,646.7 L480.3,647 L481.1,647 L481.1,650.1 L494.2,650.1 L495.7,650.1 L495.7,653.3 L497.1,653.3 L497.1,654.8 L498.6,654.8 L498.6,656.2 L503.7,656.2 L504.4,656.2 L504.4,661.3 L519.7,661.3 L519.7,665.7 L538.7,665.7 L538.7,671.7 L584.5,671.7 L584.5,682.5 L596.7,682.5 L596.7,693.7 L653.3,693.7" fill="none" stroke="#c48a84" stroke-width="1.25" clip-path="url(#ct12)"/>
<path d="M447,634.3 V636.8 M446.1,635.5 H447.9" stroke="#e97a74" stroke-width="0.7" fill="none"/>
<path d="M452,637.3 V639.8 M451.1,638.6 H452.9" stroke="#e97a74" stroke-width="0.7" fill="none"/>
<path d="M455,638.3 V640.8 M454.1,639.5 H455.9" stroke="#e97a74" stroke-width="0.7" fill="none"/>
<path d="M470,642.5 V645 M469.1,643.8 H470.9" stroke="#e97a74" stroke-width="0.7" fill="none"/>
<path d="M472,642.5 V645 M471.1,643.8 H472.9" stroke="#e97a74" stroke-width="0.7" fill="none"/>
<path d="M485,648.9 V651.4 M484.1,650.1 H485.9" stroke="#e97a74" stroke-width="0.7" fill="none"/>
<path d="M490,648.9 V651.4 M489.1,650.1 H490.9" stroke="#e97a74" stroke-width="0.7" fill="none"/>
<path d="M500,655 V657.5 M499.1,656.2 H500.9" stroke="#e97a74" stroke-width="0.7" fill="none"/>
<path d="M510,660 V662.5 M509.1,661.3 H510.9" stroke="#e97a74" stroke-width="0.7" fill="none"/>
<path d="M548.5,670.5 V673 M547.6,671.7 H549.4" stroke="#e97a74" stroke-width="0.7" fill="none"/>
<path d="M555.9,670.5 V673 M555,671.7 H556.8" stroke="#e97a74" stroke-width="0.7" fill="none"/>
<path d="M563.3,670.5 V673 M562.4,671.7 H564.2" stroke="#e97a74" stroke-width="0.7" fill="none"/>
<path d="M607.3,692.5 V695 M606.4,693.7 H608.2" stroke="#e97a74" stroke-width="0.7" fill="none"/>
<path d="M651.1,692.5 V695 M650.2,693.7 H652" stroke="#e97a74" stroke-width="0.7" fill="none"/>
<path d="M653,692.5 V695 M652.1,693.7 H653.9" stroke="#e97a74" stroke-width="0.7" fill="none"/>
<path d="M397.3,596.4 L398.9,596.4 L398.9,597.2 L400.4,597.2 L400.4,598 L402,598 L402,598.8 L403.6,598.8 L403.6,599.7 L405.1,599.7 L405.1,600.5 L406.7,600.5 L406.7,601.3 L408.1,601.3 L408.1,601.9 L409.6,601.9 L409.6,602.5 L411.1,602.5 L411.1,603.1 L412.5,603.1 L412.5,603.7 L414,603.7 L414,604.3 L415.4,604.3 L415.4,604.9 L416.9,604.9 L416.9,605.4 L418.4,605.4 L418.4,606 L419.8,606 L419.8,606.6 L421.3,606.6 L421.3,607.2 L422.8,607.2 L422.8,607.8 L424.2,607.8 L424.2,608.4 L425.6,608.4 L425.6,608.8 L427.1,608.8 L427.1,609.2 L428.6,609.2 L428.6,609.7 L430,609.7 L430,610.1 L431.5,610.1 L431.5,610.7 L432.9,610.7 L432.9,611.2 L434.4,611.2 L434.4,611.8 L435.9,611.8 L435.9,612.4 L437.4,612.4 L437.4,612.4 L438.9,612.4 L438.9,612.5 L440.3,612.5 L440.3,612.5 L441.8,612.5 L441.8,612.5 L443.3,612.5 L443.3,612.6 L444.8,612.6 L444.8,612.6 L446.3,612.6 L446.3,612.7 L447.8,612.7 L447.8,612.7 L449.2,612.7 L449.2,612.7 L450.7,612.7 L450.7,612.8 L452.2,612.8 L452.2,612.8 L453.4,612.8 L453.4,614.1 L454.6,614.1 L454.6,615.4 L455.9,615.4 L455.9,616.1 L457.3,616.1 L457.3,616.8 L458.6,616.8 L458.6,617.5 L467.2,617.5 L467.9,617.5 L467.9,625.5 L557.7,625.5 L557.7,638.2 L635.3,638.2" fill="none" stroke="#00abb2" stroke-width="1.25"/>
<path d="M425,607.1 V609.6 M424.1,608.4 H425.9" stroke="#00abb2" stroke-width="0.7" fill="none"/>
<path d="M428,608 V610.5 M427.1,609.2 H428.9" stroke="#00abb2" stroke-width="0.7" fill="none"/>
<path d="M440,611.2 V613.7 M439.1,612.5 H440.9" stroke="#00abb2" stroke-width="0.7" fill="none"/>
<path d="M445,611.4 V613.9 M444.1,612.6 H445.9" stroke="#00abb2" stroke-width="0.7" fill="none"/>
<path d="M449,611.4 V613.9 M448.1,612.7 H449.9" stroke="#00abb2" stroke-width="0.7" fill="none"/>
<path d="M472.3,624.2 V626.8 M471.4,625.5 H473.2" stroke="#00abb2" stroke-width="0.7" fill="none"/>
<path d="M473.8,624.2 V626.8 M472.9,625.5 H474.7" stroke="#00abb2" stroke-width="0.7" fill="none"/>
<path d="M478.1,624.2 V626.8 M477.2,625.5 H479" stroke="#00abb2" stroke-width="0.7" fill="none"/>
<path d="M478.9,624.2 V626.8 M478,625.5 H479.8" stroke="#00abb2" stroke-width="0.7" fill="none"/>
<path d="M489.1,624.2 V626.8 M488.2,625.5 H490" stroke="#00abb2" stroke-width="0.7" fill="none"/>
<path d="M492.7,624.2 V626.8 M491.8,625.5 H493.6" stroke="#00abb2" stroke-width="0.7" fill="none"/>
<path d="M494.9,624.2 V626.8 M494,625.5 H495.8" stroke="#00abb2" stroke-width="0.7" fill="none"/>
<path d="M502.2,624.2 V626.8 M501.3,625.5 H503.1" stroke="#00abb2" stroke-width="0.7" fill="none"/>
<path d="M510.3,624.2 V626.8 M509.4,625.5 H511.2" stroke="#00abb2" stroke-width="0.7" fill="none"/>
<path d="M513.2,624.2 V626.8 M512.3,625.5 H514.1" stroke="#00abb2" stroke-width="0.7" fill="none"/>
<path d="M539.5,624.2 V626.8 M538.6,625.5 H540.4" stroke="#00abb2" stroke-width="0.7" fill="none"/>
<path d="M546.8,624.2 V626.8 M545.9,625.5 H547.7" stroke="#00abb2" stroke-width="0.7" fill="none"/>
<path d="M562.2,637 V639.5 M561.3,638.2 H563.1" stroke="#00abb2" stroke-width="0.7" fill="none"/>
<path d="M567.5,637 V639.5 M566.6,638.2 H568.4" stroke="#00abb2" stroke-width="0.7" fill="none"/>
<path d="M582.3,637 V639.5 M581.4,638.2 H583.2" stroke="#00abb2" stroke-width="0.7" fill="none"/>
<path d="M624.3,637 V639.5 M623.4,638.2 H625.2" stroke="#00abb2" stroke-width="0.7" fill="none"/>
<path d="M635,637 V639.5 M634.1,638.2 H635.9" stroke="#00abb2" stroke-width="0.7" fill="none"/>
<path d="M384.5,590.7 L384.5,733.5 L682.2,733.5" fill="none" stroke="#8c8c8c" stroke-width="1.6" stroke-linejoin="round" stroke-linecap="round"/>
<line x1="382.5" y1="727" x2="384.5" y2="727" stroke="#222" stroke-width="0.8"/>
<text transform="translate(381.5,729) scale(0.88,1)" font-size="6" text-anchor="end" fill="#4a4a4a">0.00</text>
<line x1="382.5" y1="694.4" x2="384.5" y2="694.4" stroke="#222" stroke-width="0.8"/>
<text transform="translate(381.5,696.3) scale(0.88,1)" font-size="6" text-anchor="end" fill="#4a4a4a">0.25</text>
<line x1="382.5" y1="661.7" x2="384.5" y2="661.7" stroke="#222" stroke-width="0.8"/>
<text transform="translate(381.5,663.7) scale(0.88,1)" font-size="6" text-anchor="end" fill="#4a4a4a">0.50</text>
<line x1="382.5" y1="629" x2="384.5" y2="629" stroke="#222" stroke-width="0.8"/>
<text transform="translate(381.5,631) scale(0.88,1)" font-size="6" text-anchor="end" fill="#4a4a4a">0.75</text>
<line x1="382.5" y1="596.4" x2="384.5" y2="596.4" stroke="#222" stroke-width="0.8"/>
<text transform="translate(381.5,598.4) scale(0.88,1)" font-size="6" text-anchor="end" fill="#4a4a4a">1.00</text>
<line x1="398.2" y1="733.5" x2="398.2" y2="735.3" stroke="#222" stroke-width="0.8"/>
<text transform="translate(398.2,740.5) scale(0.88,1)" font-size="6" text-anchor="middle" fill="#4a4a4a">0</text>
<line x1="420.8" y1="733.5" x2="420.8" y2="735.3" stroke="#222" stroke-width="0.8"/>
<text transform="translate(420.8,740.5) scale(0.88,1)" font-size="6" text-anchor="middle" fill="#4a4a4a">3</text>
<line x1="443.4" y1="733.5" x2="443.4" y2="735.3" stroke="#222" stroke-width="0.8"/>
<text transform="translate(443.4,740.5) scale(0.88,1)" font-size="6" text-anchor="middle" fill="#4a4a4a">6</text>
<line x1="466.1" y1="733.5" x2="466.1" y2="735.3" stroke="#222" stroke-width="0.8"/>
<text transform="translate(466.1,740.5) scale(0.88,1)" font-size="6" text-anchor="middle" fill="#4a4a4a">9</text>
<line x1="488.7" y1="733.5" x2="488.7" y2="735.3" stroke="#222" stroke-width="0.8"/>
<text transform="translate(488.7,740.5) scale(0.88,1)" font-size="6" text-anchor="middle" fill="#4a4a4a">12</text>
<line x1="511.3" y1="733.5" x2="511.3" y2="735.3" stroke="#222" stroke-width="0.8"/>
<text transform="translate(511.3,740.5) scale(0.88,1)" font-size="6" text-anchor="middle" fill="#4a4a4a">15</text>
<line x1="533.9" y1="733.5" x2="533.9" y2="735.3" stroke="#222" stroke-width="0.8"/>
<text transform="translate(533.9,740.5) scale(0.88,1)" font-size="6" text-anchor="middle" fill="#4a4a4a">18</text>
<line x1="556.5" y1="733.5" x2="556.5" y2="735.3" stroke="#222" stroke-width="0.8"/>
<text transform="translate(556.5,740.5) scale(0.88,1)" font-size="6" text-anchor="middle" fill="#4a4a4a">21</text>
<line x1="579.1" y1="733.5" x2="579.1" y2="735.3" stroke="#222" stroke-width="0.8"/>
<text transform="translate(579.1,740.5) scale(0.88,1)" font-size="6" text-anchor="middle" fill="#4a4a4a">24</text>
<line x1="601.8" y1="733.5" x2="601.8" y2="735.3" stroke="#222" stroke-width="0.8"/>
<text transform="translate(601.8,740.5) scale(0.88,1)" font-size="6" text-anchor="middle" fill="#4a4a4a">27</text>
<line x1="624.4" y1="733.5" x2="624.4" y2="735.3" stroke="#222" stroke-width="0.8"/>
<text transform="translate(624.4,740.5) scale(0.88,1)" font-size="6" text-anchor="middle" fill="#4a4a4a">30</text>
<line x1="647" y1="733.5" x2="647" y2="735.3" stroke="#222" stroke-width="0.8"/>
<text transform="translate(647,740.5) scale(0.88,1)" font-size="6" text-anchor="middle" fill="#4a4a4a">33</text>
<line x1="669.6" y1="733.5" x2="669.6" y2="735.3" stroke="#222" stroke-width="0.8"/>
<text transform="translate(669.6,740.5) scale(0.88,1)" font-size="6" text-anchor="middle" fill="#4a4a4a">36</text>
<text transform="translate(533.7,747.3) scale(0.88,1)" font-size="7.5" text-anchor="middle" fill="#000">Time (Days)</text>
<text transform="translate(369.3,661.7) scale(0.88,1) rotate(-90)" font-size="6.6" text-anchor="middle" fill="#000">ICU Survival probability</text>
<text transform="translate(398,699.5) scale(0.88,1)" font-size="5.3" text-anchor="start" fill="#000">Log rank P &lt;0.001</text>
<text transform="translate(398,706) scale(0.88,1)" font-size="5.3" text-anchor="start" fill="#000">HR (95%CI): 0.406 (0.269 - 0.611)</text>
<text transform="translate(385.6,760.9) scale(0.88,1)" font-size="8.9" text-anchor="start" fill="#000">Number at risk</text>
<text transform="translate(382.5,774.3) scale(0.88,1)" font-size="5.7" text-anchor="end" fill="#e97a74">High</text>
<text transform="translate(382.5,786.7) scale(0.88,1)" font-size="5.7" text-anchor="end" fill="#00abb2">Low</text>
<text transform="translate(399.2,774.8) scale(0.88,1)" font-size="6.5" text-anchor="middle" fill="#000">363</text>
<text transform="translate(421.8,774.8) scale(0.88,1)" font-size="6.5" text-anchor="middle" fill="#000">179</text>
<text transform="translate(444.4,774.8) scale(0.88,1)" font-size="6.5" text-anchor="middle" fill="#000">81</text>
<text transform="translate(467.1,774.8) scale(0.88,1)" font-size="6.5" text-anchor="middle" fill="#000">41</text>
<text transform="translate(489.7,774.8) scale(0.88,1)" font-size="6.5" text-anchor="middle" fill="#000">25</text>
<text transform="translate(512.3,774.8) scale(0.88,1)" font-size="6.5" text-anchor="middle" fill="#000">15</text>
<text transform="translate(534.9,774.8) scale(0.88,1)" font-size="6.5" text-anchor="middle" fill="#000">11</text>
<text transform="translate(557.5,774.8) scale(0.88,1)" font-size="6.5" text-anchor="middle" fill="#000">7</text>
<text transform="translate(580.1,774.8) scale(0.88,1)" font-size="6.5" text-anchor="middle" fill="#000">6</text>
<text transform="translate(602.8,774.8) scale(0.88,1)" font-size="6.5" text-anchor="middle" fill="#000">3</text>
<text transform="translate(625.4,774.8) scale(0.88,1)" font-size="6.5" text-anchor="middle" fill="#000">2</text>
<text transform="translate(648,774.8) scale(0.88,1)" font-size="6.5" text-anchor="middle" fill="#000">2</text>
<text transform="translate(670.6,774.8) scale(0.88,1)" font-size="6.5" text-anchor="middle" fill="#000">0</text>
<text transform="translate(399.2,787.1) scale(0.88,1)" font-size="6.5" text-anchor="middle" fill="#000">358</text>
<text transform="translate(421.8,787.1) scale(0.88,1)" font-size="6.5" text-anchor="middle" fill="#000">149</text>
<text transform="translate(444.4,787.1) scale(0.88,1)" font-size="6.5" text-anchor="middle" fill="#000">57</text>
<text transform="translate(467.1,787.1) scale(0.88,1)" font-size="6.5" text-anchor="middle" fill="#000">29</text>
<text transform="translate(489.7,787.1) scale(0.88,1)" font-size="6.5" text-anchor="middle" fill="#000">18</text>
<text transform="translate(512.3,787.1) scale(0.88,1)" font-size="6.5" text-anchor="middle" fill="#000">12</text>
<text transform="translate(534.9,787.1) scale(0.88,1)" font-size="6.5" text-anchor="middle" fill="#000">11</text>
<text transform="translate(557.5,787.1) scale(0.88,1)" font-size="6.5" text-anchor="middle" fill="#000">9</text>
<text transform="translate(580.1,787.1) scale(0.88,1)" font-size="6.5" text-anchor="middle" fill="#000">4</text>
<text transform="translate(602.8,787.1) scale(0.88,1)" font-size="6.5" text-anchor="middle" fill="#000">3</text>
<text transform="translate(625.4,787.1) scale(0.88,1)" font-size="6.5" text-anchor="middle" fill="#000">1</text>
<text transform="translate(648,787.1) scale(0.88,1)" font-size="6.5" text-anchor="middle" fill="#000">0</text>
<text transform="translate(670.6,787.1) scale(0.88,1)" font-size="6.5" text-anchor="middle" fill="#000">0</text>
</g>
</svg>
</body></html>
